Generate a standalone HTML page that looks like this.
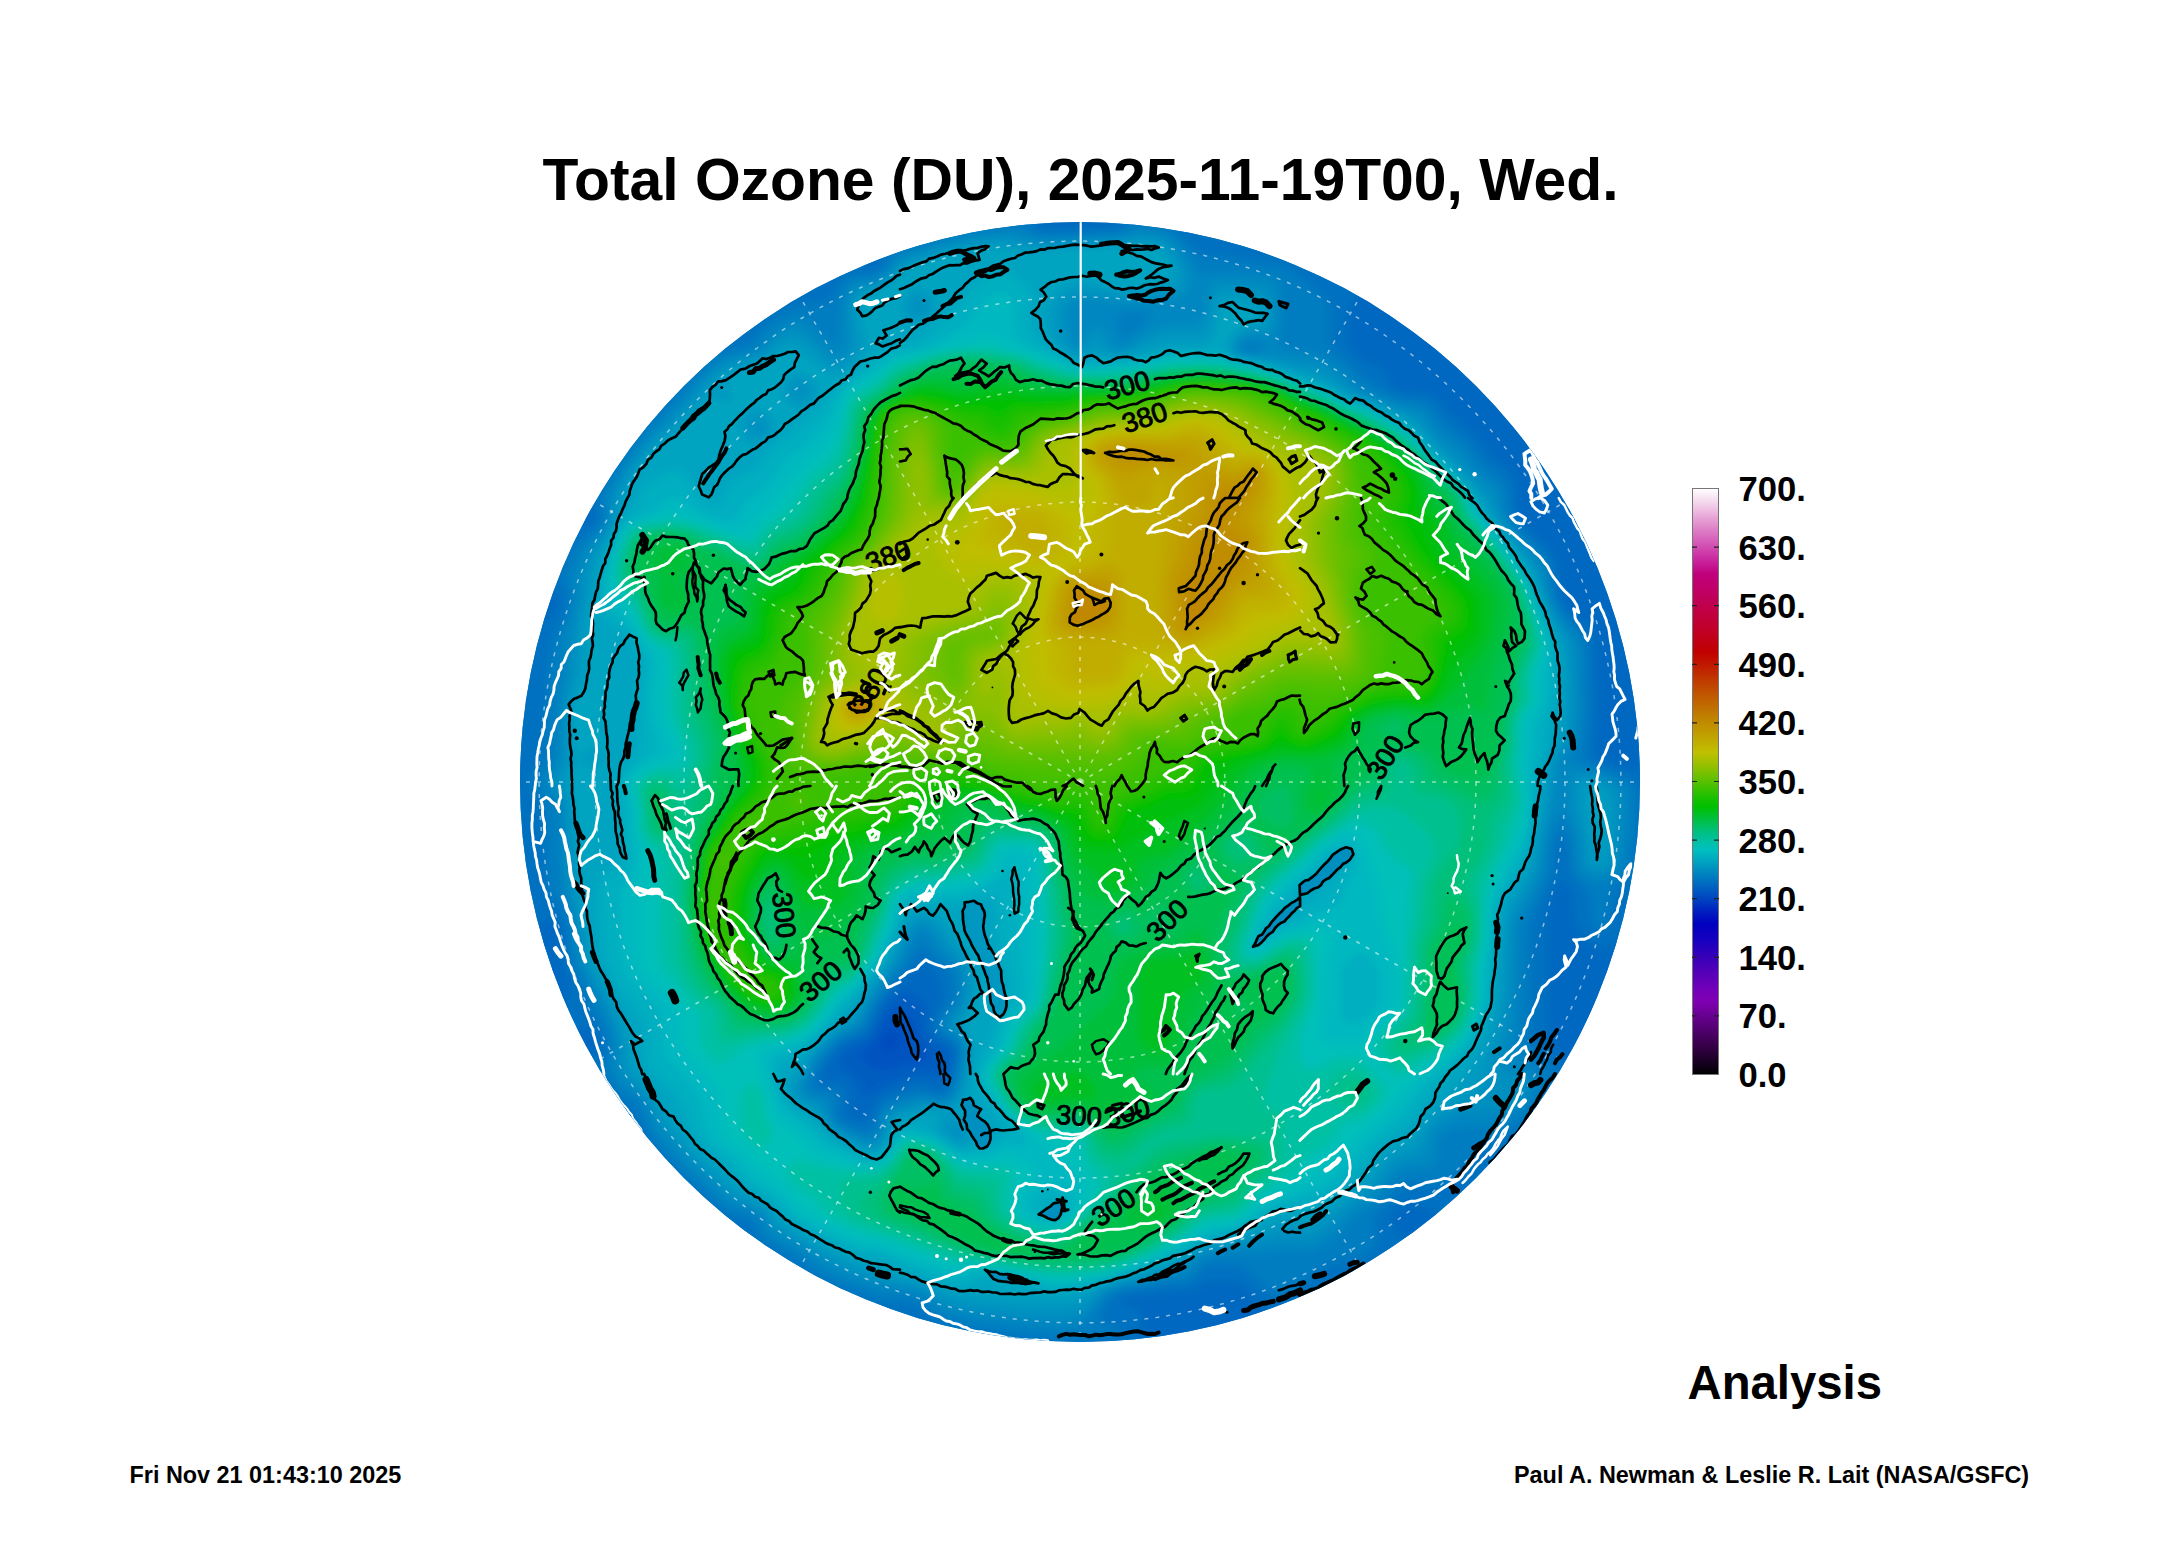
<!DOCTYPE html>
<html lang="en"><head><meta charset="utf-8"><title>Total Ozone (DU)</title>
<style>
html,body{margin:0;padding:0;background:#fff;}
body{width:2165px;height:1561px;overflow:hidden;position:relative;font-family:"Liberation Sans",Arial,Helvetica,sans-serif;}
svg{position:absolute;left:0;top:0;display:block}
text{font-family:"Liberation Sans",Arial,Helvetica,sans-serif;font-weight:bold;fill:#000}
</style></head><body>
<svg width="2165" height="1561" viewBox="0 0 2165 1561">
<defs>
<clipPath id="gc"><circle cx="1080" cy="782" r="560"/></clipPath>
<linearGradient id="cb" x1="0" y1="0" x2="0" y2="1">
<stop offset="0.0000" stop-color="#ffffff"/><stop offset="0.0257" stop-color="#f3d3ea"/><stop offset="0.0500" stop-color="#e7a4d6"/><stop offset="0.0743" stop-color="#dc78c4"/><stop offset="0.1000" stop-color="#d24cb2"/><stop offset="0.1257" stop-color="#c8209a"/><stop offset="0.1457" stop-color="#c0007c"/><stop offset="0.1714" stop-color="#c00068"/><stop offset="0.2000" stop-color="#c0004c"/><stop offset="0.2429" stop-color="#c00026"/><stop offset="0.2786" stop-color="#c00000"/><stop offset="0.3000" stop-color="#c01800"/><stop offset="0.3286" stop-color="#c03c00"/><stop offset="0.3571" stop-color="#c05c00"/><stop offset="0.4000" stop-color="#c08c00"/><stop offset="0.4286" stop-color="#c0a800"/><stop offset="0.4500" stop-color="#c0c000"/><stop offset="0.4714" stop-color="#98c000"/><stop offset="0.5000" stop-color="#58c000"/><stop offset="0.5286" stop-color="#18c000"/><stop offset="0.5429" stop-color="#00c000"/><stop offset="0.5643" stop-color="#00c040"/><stop offset="0.5857" stop-color="#00c080"/><stop offset="0.6000" stop-color="#00c0a0"/><stop offset="0.6171" stop-color="#00c0c0"/><stop offset="0.6357" stop-color="#00a4c0"/><stop offset="0.6571" stop-color="#0084c0"/><stop offset="0.6786" stop-color="#0064c0"/><stop offset="0.7000" stop-color="#0044c0"/><stop offset="0.7214" stop-color="#0020c0"/><stop offset="0.7429" stop-color="#0000c0"/><stop offset="0.7714" stop-color="#1800c0"/><stop offset="0.8000" stop-color="#3800b8"/><stop offset="0.8286" stop-color="#5800b8"/><stop offset="0.8571" stop-color="#7400b8"/><stop offset="0.8743" stop-color="#8000b4"/><stop offset="0.9000" stop-color="#680090"/><stop offset="0.9286" stop-color="#4c0068"/><stop offset="0.9571" stop-color="#300040"/><stop offset="0.9857" stop-color="#100018"/><stop offset="1.0000" stop-color="#000000"/></linearGradient>
<radialGradient id="base" gradientUnits="userSpaceOnUse" cx="1080" cy="782" r="560">
<stop offset="0" stop-color="#00a0c0"/><stop offset="0.8" stop-color="#0090c0"/><stop offset="0.93" stop-color="#0080c0"/><stop offset="1" stop-color="#0070c0"/></radialGradient>
<filter id="bl" x="-5%" y="-5%" width="110%" height="110%"><feGaussianBlur stdDeviation="4"/></filter>
</defs>
<rect width="2165" height="1561" fill="#fff"/>
<g clip-path="url(#gc)">
<circle cx="1080" cy="782" r="562" fill="url(#base)"/>
<g fill-rule="evenodd" filter="url(#bl)"><circle cx="1080" cy="782" r="562" fill="#003ec0"/>
<path fill="#0049c0" d="M518 218l1126 0 0 1128-1128 0 0-1128z"/>
<path fill="#0053c0" d="M518 218l1126 0 0 1128-1128 0 0-1128zM889 1034l-3 3-3 7 0 4 3 2 4 0 4-2 3-4 0-4-1-4-4-3z"/>
<path fill="#005dc0" d="M518 218l1126 0 0 1128-1128 0 0-1128zM894 1010l-8 8-11 22-12 10-2 4 0 4 3 4 5 4 7 3 6 1 6 0 22-6 14-1 4-2 2-3-1-4-10-14-4-16-4-6-9-9-4-1z"/>
<path fill="#0067c0" d="M518 218l1126 0 0 1128-1128 0 0-1128zM902 992l-8 5-10 12-4 7-5 14-4 6-5 4-13 6-6 4-5 6-3 6 0 4 2 2 9 5 4 4 5 7 5 11 2 2 2 0 10-8 34-14 8-1 18 1 4-1 4-4 1-4 2-8-1-6-3-4-14-8-5-6-1-6 1-18-2-6-14-11-4-2z"/>
<path fill="#0071c0" d="M518 218l520 0 2 5 4 3 14 1 52-1 6-2 3-2 2-4 523 0 0 354 0-4-2-2 0-4-2-2 0-4-4-6 0-2-2-2 0-4-4-6 0-4-4-6 0-2-2-2 0-4-2-2 0-2-2-2 0-2-2-2 0-2-4-6 0-8-4-4-2 0-2-2 0-2-2-2 0-2-2-2 0-2-2-2 0-2-2-2 0-2-4-4 0-2-4-4 0-2-2-2 0-2-4-4 0-2-4-4 0-2-4-4 0-2-2-2 0-2-8-8 0-2-6-6 0-2-6-6 0-2-6-6 0-2-12-12 0-2-22-22 0-2-10-10-2 0-22-22-2 0-12-12-2 0-6-6-2 0-6-6-2 0-6-6-2 0-8-8-2 0-2-2-2 0-4-4-2 0-4-4-2 0-4-4-2 0-2-2-2 0-4-4-2 0-4-4-4 0-12 4-4 4-20 29-4 7-2 6-1 16 0 10 2 6 3 4 6 7 8 5 12 3 4 2 3 3 4 12 3 4 6 4 8 2 22 2 6 2 3 2 16 18 21 18 17 20 21 20 4 8 1 26 3 10 6 8 22 22 6 8 4 10 2 24 2 9 6 9 21 22 6 10 1 14 1 52-2 42 1 6 4 4 8 4 19 6 17 4 0 168-10-1-8 1-22 8-6 0-4-2-11-10-7-10-2-8-2-24-2-4-4-6-4-3-2 1-4 5-4 8-4 15-1 14 0 50 0 58 0 6 2 6 5 6 6 5 29 17 5 4 3 10 1 8 4-6 0-2 2-2 0-2 2-2 0-2 2-2 2 0 4-4 0-8 4-6 0-2 2-2 0-2 2-2 0-2 2-2 0-4 2-2 0-2 4-6 0-4 4-6 0-4 2-2 0-2 4-6 0-4 2-2 0-4 2-2 0-4 0 354-354 0 4 0 2-2 4 0 2-2-16 0-8-3-4-6-5-13-6-12-13-16-6-6-6-3-6-2-10 0-14 1-12 6-6 2-24 2-18 3-16 1-8 2-3 2-1 2 0 2 2 1 14 3 3 2 2 4 1 6-3 26-623 0 0-354 0 4 2 2 0 4 2 2 0 4 4 6 0 2 2 2 0 4 4 6 0 4 4 6 0 2 2 2 0 4 2 2 0 2 2 2 0 2 2 2 0 2 4 6 0 8 4 4 2 0 2 2 0 2 2 2 0 2 2 2 0 2 4 6 1-10 2-8 6-6 23-16 4-6 1-4-1-4-2-4-4-4-4-2-12-2-18 0-4-2 0-4 12-18 2-6 2-8-1-8-6-20-2-28-1-7-2-4-4-3-4 0-34 12 0-308 16 0 12-4 6-4 4-4 3-6 1-4-2-6-4-3-25-9-3-2-1-2-3-8 0-12-2 2 0 4-2 2 0 4 0-354zM852 224l-18 0-2 2 0 6-2 0-2 2-2 0-2 2-2 0-2 2-4 0-2 2 18 1 15 15 8 6 13 4 6-1 3-3 1-6-4-28-4-4-11 0-1-2-4 0zM560 472l0 2-2 2 0 2-2 2 0 2-2 2 0 2-2 2-2 0-4 4 0 8-4 6 0 2-2 2 0 2-2 2 4 1 4 5 1 4 5 2 12 2 8 0 8-2 6-2 6-4 1-4-1-3-6-7-17-12-4-4-2-8-1-12zM918 966l-22 20-14 17-4 7-7 16-3 6-6 5-14 5-8 5-10 12-8 13-1 4 1 4 4 2 12-1 4 1 4 3 3 3 1 4 0 6-4 14 2 4 3 2 9 3 6-1 4-5 6-11 5-6 7-4 24-10 8-2 6 1 4 2 6 4 4 1 4-2 4-6 5-14 2-12 0-6-2-4-2-2-15-8-3-4-1-4 1-10 8-18 1-6-2-8-4-10-6-8-6-4-4 0zM1403 1204l-5 4-5 6-1 4 1 6 7 11 18 24 8 9 6 4 0 2 2 0 6-6 2 0 6-6 2 0 6-6 2 0 6-6 2 0 6-6-8-3-6-4-18-19-14-10-12-5-6-1z"/>
<path fill="#007cc0" d="M1004 224l12-1 6 0 4 2 11 7 9 1 68-1 8-2 10-6 6-1 8 0 20 3 10 5 18 17 10 7 8 1 20 1 22 4 20 2 12 3 12 8 27 24 4 4 1 4 0 32 1 6 4 6 15 13 12 13 17 12 21 10 22 2 8 4 4 4 12 16 22 17 16 22 6 5 12 9 4 5 3 8 1 20 3 8 7 10 21 22 7 10 4 8 2 24 4 11 6 10 18 19 5 10 1 12 1 52-2 36-2 12 1 4 4 4 28 12 12 6 6 6 2 8-1 40-5 34-4 8-12 12-3 6-2 8-2 18-2 4-3 4-4 1-2 0-5-5-2-6-1-18-1-6-4-6-9-8-4-6-2-6-1-22-3-10-2-3-2-1-2 0-2 2-3 6-2 10-1 20-2 8-16 36-3 10-1 12 0 92 1 12 2 6 3 4 16 18 1 4 0 4-4 10-8 14-11 15-10 11-8 6-18 8-6 4-32 32-10 8-8 2-26-2-6 2-4 2-26 28-2 6 2 14 0 6-2 6-4 4-4 4-6 3-22 3-12 5-8 5-18 16-10 7-8 2-4 0-4-1-6-5-20-19-8-5-10-2-20 0-6 3-10 11-6 4-22 2-18 3-20 2-12 4-6 4-4 6-4 8-1 6 1 4 2 1 12 3 4 2 0 4-1 2-7 3-34 3-40-1-58-8-20-4-22-6-6-4-12-9-6-3-8-2-20-1-10-2-34-12-30-15-20-15-26-14-6-6-6-11-4-5-8-4-16-5-8-5-38-35-21-23-8-10-16-32-4-4-9-5-5-5-14-22-2-8 6-14 0-4-1-6-6-16-11-16-5-16-13-26-2-10-1-26-4-15-4-8-9-11-3-6-2-10-3-70-3-8-9-14-2-6 2-6 9-14 3-8 3-70 5-42 2-6 11-22 3-12 0-8-6-12 1-8 9-22 5-8 6-6 13-10 5-6 1-4 0-4-3-14 2-8 20-34 23-30 47-51 18-17 8-6 6-3 27-9 4-4 9-13 12-8 16-9 8-3 22-3 8-2 6-6 7-12 5-5 8-3 16 0 7-2 5-4 6-10 4-5 6-4 10-4 48-14zM919 950l-3 3-8 13-16 17-14 19-4 6-9 20-5 4-18 8-7 6-13 16-7 14-2 8 3 4 4 1 14 2 3 1 2 2 1 6-4 12 2 6 8 6 14 5 8 1 4-2 2-3 3-11 3-6 3-4 5-3 22-8 8-3 6 1 14 5 4 0 4-2 2-2 6-12 5-24 0-8-2-4-3-3-14-8-2-3-1-4 1-4 2-6 8-10 3-6 1-10-1-14-3-6-14-11-8-8-4-2z"/>
<path fill="#0086c0" d="M1006 230l14 1 14 5 8 2 72-2 8-2 16-5 20 2 10 3 6 4 15 18 9 14 4 3 32 0 32 1 7 2 3 2 3 4 3 12 1 30-1 10-3 10 1 2 3 2 5 1 22 2 10 3 22 13 5 5 9 11 7 5 35 15 22 4 6 3 15 22 21 15 16 22 6 6 12 8 4 5 2 6 2 16 3 8 9 13 20 21 7 10 4 10 3 20 4 12 6 11 14 17 5 8 2 6 1 10 0 58-3 28-2 6-6 8-1 2 0 3 1 1 5 2 28 9 14 7 8 7 2 3 1 6-1 38-4 30-3 6-3 4-12 7-6 2-8-2-8-4-5-5-3-8-1-18-1-10-4-11-6-10-2-1-2 1-2 1-6 13-4 17-2 22-2 8-3 8-17 32-3 6-1 8-3 118 3 7 17 17 2 4 1 4-2 8-4 8-6 9-8 9-8 6-10 3-20 4-26 2-10 3-4 4-2 4-2 20-2 4-2 3-6 3-20 1-8 3-6 6-13 18-19 14-30 29-12 8-12 3-24 0-22 2-20 0-30 2-6 1-6 3-10 13-6 4-18 2-20 5-18 2-8 2-9 4-9 7-18 25-6 4-8 1-36 0-54-7-18-3-16-4-6-2-6-4-10-10-6-3-8-2-28-2-38-12-26-13-20-15-27-14-5-5-6-13-4-4-6-4-18-5-8-4-41-37-28-32-4-8-7-18-4-8-4-4-10-5-4-3-6-8-5-10-1-8 3-10 0-6-2-12-9-22-9-18-13-24-5-12-3-34-4-14-6-20-2-8-2-66-1-8-3-8-11-12-2-6 2-6 10-12 3-8 1-56 4-28 1-30 2-10 8-24 2-10 0-6-3-12 1-8 7-18 4-8 6-6 11-10 4-6 2-8-1-16 3-10 17-28 20-26 37-39 16-19 14-13 8-6 6-3 24-6 6-3 4-3 6-10 4-4 14-8 12-5 8 1 8 6 18 16 4 2 2 0 2-4 1-22 2-12 5-16 3-4 3-3 6-2 14-1 7-2 7-6 6-9 4-4 6-4 10-3 46-14 24-4zM1123 312l-5 2-1 2 3 18 2 3 2 1 4-1 4-3 15-14 4-4-1-2-4-2-12-1zM1244 342l-2 3 0 3 1 2 3 2 9 0 7-2 2-2 1-2-3-2-6-3-6-1zM921 934l-3 1-4 6-11 23-15 18-12 16-14 27-6 5-18 8-9 8-13 18-9 20 0 4 2 4 5 2 12 3 4 2 1 3 1 14 4 7 8 5 20 9 6 0 4-1 2-2 2-4 4-16 3-4 4-4 29-9 8 0 12 3 8-1 4-3 3-4 4-12 5-26 0-8-4-6-13-10-2-6 2-6 9-10 4-7 2-13-2-16-2-5-3-3-15-11-12-17-2-2z"/>
<path fill="#0090c0" d="M992 236l20 0 20 5 8 1 76-3 8-1 12-3 8-1 12 2 8 2 6 4 6 6 9 14 4 10 0 16-2 4-2 4-3 2-6 1-32 4-22 0-38-4-8 2-6 5-2 8 3 24 2 4 3 3 2 0 2-1 8-13 6-4 6 0 6 3 2 4 4 11 4 3 4 1 4-1 5-2 19-14 12-6 10-2 22 0 6-1 4-3 3-6 2-18 1-6 3-4 5-3 8-1 10 0 28 3 6 2 4 5 3 10 0 16-2 12-2 4-3 1-4 1-12-2-8 2-4 3-3 5-1 4 2 4 4 2 6 2 24 0 18 3 18 2 10 2 18 10 4 3 9 10 6 4 43 18 18 5 5 3 17 23 18 14 15 19 19 17 4 5 5 18 4 8 11 15 18 21 8 12 3 8 3 18 4 10 6 12 15 22 3 8 1 10 1 52-3 30-3 6-8 10-4 10-5 38-8 34-6 36-4 10-18 32-3 6-1 8-2 66-3 36-2 8-4 16-1 10 1 4 2 3 14 5 4 2 4 4 1 4 0 4-5 9-6 6-8 3-10 2-30 2-14 4-12 6-6 5-4 6-3 7-2 12-3 6-6 2-16 3-6 3-6 6-14 20-26 18-24 22-8 5-6 3-6 1-26-1-16 4-18 1-42 8-8 4-10 11-4 2-18 4-18 6-22 4-16 5-9 7-11 13-6 5-6 3-8 2-38 0-50-5-16-3-16-4-6-2-15-11-8-4-33-5-28-8-12-4-22-11-23-16-25-13-5-5-5-10-5-6-7-4-18-6-7-4-43-39-28-33-14-30-4-4-13-10-5-7-3-7-1-6 1-16-3-14-12-30-18-32-5-12-4-32-10-42-3-76-3-10-9-12-1-4 2-6 7-10 2-8 1-58 6-26 3-44 8-34-1-18 2-6 9-24 14-16 4-8 2-8 1-16 2-8 16-28 15-19 8-9 15-14 20-22 16-20 9-8 10-8 10-4 18-5 9-3 6-4 11-12 10-6 8-2 6 1 4 2 21 19 7 5 6 2 4-1 4-4 3-6-2-30 0-10 4-14 5-6 6-2 12-2 8-3 6-5 10-13 10-5 28-9 16-5 20-3zM917 926l-3 3-3 5-13 28-24 32-14 26-6 6-18 9-11 11-11 14-14 28 1 4 3 4 4 2 12 3 4 3 4 14 6 8 8 5 24 11 8 0 6-4 3-6 3-15 2-3 4-4 28-9 6 0 14 2 8-1 4-3 4-5 5-14 4-26 0-8-3-7-12-11-1-4 3-6 8-10 4-8 1-16-2-14-5-9-14-13-12-18-4-3-4-2-4 0zM1576 773l4 0 8 0 16 5 7 4 5 4 2 4 2 4 1 8-1 30-3 26-2 6-2 4-5 4-6 2-6 0-6-2-4-2-3-6-3-30-8-24-2-12 1-18 1-4z"/>
<path fill="#009ac0" d="M1136 240l10 0 12 2 5 2 5 4 8 11 4 9 1 10-2 8-3 3-6 2-30 5-20 0-36-6-8 1-6 2-4 3-5 6-3 6-1 6 1 8 4 16 3 6 3 4 6 4 6 1 6-3 6-7 4-2 4 2 6 7 3 2 5 1 6 0 10-2 18-10 16-5 10-1 24 0 6-3 4-6 4-10 2-17 1-3 3-3 6-2 10 0 24 4 6 2 3 5 2 6 1 8-2 8-4 4-16 1-6 3-4 3-4 5-2 6 0 4 3 4 9 4 28 3 46 12 14 7 16 12 26 9 38 17 7 6 17 22 16 14 34 37 12 23 28 36 9 14 4 8 5 18 5 14 16 30 2 10 2 12 1 38-1 16-4 22-9 16-5 14-5 40-12 60-5 12-17 28-3 10-2 12-4 66-4 30-3 10-7 18-7 32-3 6-6 4-29 15-8 5-8 10-9 18-3 4-4 3-14 4-6 3-6 6-12 18-6 6-25 18-21 17-8 5-12 3-18-2-6 1-18 6-16 3-18 5-22 4-10 5-12 10-4 2-34 11-24 6-16 5-8 5-12 11-10 4-10 1-38 1-52-5-28-6-16-9-10-4-28-5-40-12-24-12-23-14-23-13-6-5-7-10-5-5-8-6-16-6-6-3-43-40-29-33-15-29-17-18-4-10-2-20-5-18-10-26-17-30-5-12-5-32-8-36-1-14-4-70-3-10-5-14 0-4 5-12 1-6 0-34 1-26 8-24 4-50 7-32 2-22 7-22 11-16 6-12 2-8 1-12 3-8 13-24 14-19 10-11 18-16 22-24 10-15 10-9 8-6 10-5 20-6 10-4 17-13 11-4 6 1 4 2 20 17 10 7 6 1 6-2 10-10 4-8 0-6-4-14-1-16 1-10 4-7 4-3 14-4 8-4 6-5 8-9 6-5 31-11 31-8 26-3 14 0 22 5 8 0 24-2 60-2zM914 298l-4 6 0 4 1 4 1 2 4 2 4 0 4-2 2-2 2-4-1-6-3-3-4-2-4 0zM793 382l-1 2-2 4 0 4 2 4 6 4 4 0 4-2 2-2 2-4 0-4-2-3-4-3-4-2-4 0zM755 418l-5 4-2 6 2 4 2 3 3 1 3 0 4-1 3-3 2-6-2-4-3-3-4-1zM915 920l-3 2-4 6-16 34-19 26-17 29-5 5-17 10-16 16-7 10-7 14-8 12-2 4 1 6 3 4 6 4 14 6 8 14 6 7 6 4 22 12 8 2 8 0 6-5 4-7 4-15 2-2 4-3 28-10 20 2 8-3 7-8 4-8 2-8 3-26 0-8-2-8-8-10-2-4 2-4 7-10 3-10 2-18-2-14-5-10-12-12-9-14-5-6-5-4-6-3-6-1zM951 1122l-3 1-3 3 0 2 1 4 8 6 4 2 4 0 2-2 1-4-3-6-6-6zM1586 780l10 1 8 4 5 5 3 8 1 32-2 20-2 8-2 4-3 3-4 1-6 0-2-2-3-4-3-28-6-24-1-14 0-8 2-4z"/>
<path fill="#00a4c0" d="M988 248l10 0 18 3 12 1 28-2 86-4 14 3 5 3 4 4 5 8 2 8-1 4-2 4-7 4-20 4-16 1-12-1-24-7-10-1-8 2-6 2-6 4-4 4-6 8-3 8-1 10 2 10 4 10 6 8 9 8 9 4 6 0 14-3 12 2 12 0 14-2 34-10 26 1 10-1 6-3 3-4 4-12 5-20 4-4 4-1 6 0 22 7 3 4 0 6-3 2-16 4-8 6-4 6-3 6-1 6 2 4 4 4 8 3 32 6 50 17 24 13 20 7 12 5 28 14 8 6 20 23 37 36 22 34 32 42 9 16 12 33 11 25 3 10 2 12 1 38-1 18-4 22-10 24-3 12-5 40-8 42-2 8-4 10-17 28-4 10-3 14-5 68-2 16-8 26-15 31-6 10-16 19-21 18-19 27-23 13-6 6-13 18-6 7-44 31-8 4-6 1-6 1-14-2-8 1-18 9-22 8-34 9-10 5-12 8-6 3-32 12-38 11-24 11-16 3-48 0-62-5-8-3-22-9-26-7-48-15-22-11-42-24-20-20-28-16-43-40-29-35-15-25-13-18-4-8-3-22-4-14-8-18-21-40-4-10-13-70-6-80-4-26 1-6 5-16-4-22 0-32 3-8 6-12 2-8 4-32 1-26 7-46 6-22 17-34 9-26 8-16 8-12 14-16 19-16 31-33 4-2 2 0 10 5 4 0 2-1 1-1 1-4-1-4-4-6-1-4 2-4 7-6 31-11 20-11 6-1 4 1 4 2 18 15 10 7 6 2 8-2 6-4 10-10 6-6 3-6 1-8-6-18-2-10 1-8 3-6 4-3 18-8 8-6 10-10 10-5 36-12 20-4zM911 288l-5 4-3 6-2 8 1 8 2 4 4 4 6 2 6-1 8-4 6-5 2-6 0-6-5-8-7-6-6-2zM792 372l-4 3-4 5-3 6 1 6 3 8 5 6 4 2 6 1 8-3 7-6 3-6 1-6-1-4-3-4-9-7-8-2zM754 408l-6 2-5 4-4 6-1 6 3 8 4 6 5 4 6 1 6-2 8-6 4-5 2-6-2-6-6-7-8-5zM591 750l-5 2-3 4-1 4 1 2 3 3 4 2 8-1 5-4 0-4-1-4-4-4zM921 912l-7 1-6 5-21 44-14 18-20 32-5 5-18 14-19 19-6 8-7 14-8 8-2 4 0 4 1 6 6 8 19 11 10 13 8 7 26 16 8 3 8 0 4-1 4-3 5-6 7-16 4-5 4-2 26-8 8 1 6 2 0 2-6 10 1 4 3 4 14 9 6 3 4 0 6-4 2-4 0-6-3-6-5-6-9-8 0-2 7-8 4-6 2-8 2-10 3-24 0-8-2-8-5-10-1-4 6-14 4-12 1-16-1-12-6-14-21-30-6-6-8-5-6-2zM1594 790l4 2 2 3 2 13 0 26-2 10-2 1-2-5-4-20-3-20 1-8 2-2z"/>
<path fill="#00afc0" d="M998 272l6 0 8 3 12 9 5 6 2 8-2 16 0 6 3 10 6 10 7 6 27 15 10 2 54-4 10-1 18-5 6-1 48 0 18 8 36 8 50 18 22 12 26 9 36 19 10 8 18 21 33 31 18 30 21 26 13 18 10 16 4 8 19 50 3 16 0 38-1 10-5 22-3 26-8 28-2 32-6 36-6 20-10 18-10 15-3 7-3 16-8 86-9 26-5 10-8 11-10 12-24 25-26 37-28 21-25 30-10 8-17 12-12 5-40 9-18 11-14 6-10 4-30 9-30 16-36 14-54 17-22 3-12 0-39-10-23-3-8 0-10 6-6 2-12-1-10-3-33-11-27-12-28-6-22-9-35-19-9-7-16-16-26-17-20-20-19-16-8-8-8-12-9-22-4-8-5-6-15-14-8-10-3-10 0-24-5-16-6-10-16-18-14-28-3-16-4-30 0-24 1-10 5-6 15-10 2-4 2-6 0-6-3-20-1-22-3-18 0-10 4-8 15-20 3-10-1-36 3-38-1-10-6-13-4-6-9-11-17-14-2-4-2-6 0-24 3-12 6-20 10-22 5-6 13-12 5-16 4-6 10-7 18-8 6 0 4 3 15 20 7 7 6 4 4 0 2-1 2-2 5-12 3-4 5-4 17-10 6-4 18-22 26-20 22-20 5-6 6-10 3-4 15-10 15-13 20-12 10-5 21-4 7-4 16-16 18-15 13-17 5-6 12-8zM1339 854l-9 6-14 16-14 12-7 10-12 14-2 4 1 1 4 0 8-3 16-15 16-11 18-20 3-6 1-4-2-4-4-1zM989 896l-29 7-16 1-28 0-8 2-4 5-7 19-14 30-4 6-9 10-12 18-27 30-15 15-14 12-18 11-4 4-2 6 0 8 4 12 5 10 7 7 16 10 15 15 7 6 26 14 6 2 8 1 6-1 6-4 4-5 9-15 3-3 6-2 10 0 6 1 22 13 12 8 6 2 6-1 18-5 21-13 1-2-1-4-10-12-16-22-3-6-1-6 0-8 2-8 13-23 5-19 4-8 7-10 2-8-2-18-5-22-4-22-2-32-1-4-2-1zM1051 1202l-4 2-2 4 0 2 2 2 5 1 4-1 2-2 1-4 0-2-2-2-3-1z"/>
<path fill="#00b9c0" d="M996 294l4-1 4 1 4 2 4 4 2 6-1 16 1 10 3 6 3 4 11 6 23 8 18 9 12 2 56-4 30-6 32-1 16 1 20 6 28 6 16 6 42 16 22 11 20 6 34 17 14 11 18 20 33 32 4 6 5 11 4 7 35 44 12 20 5 10 16 42 4 18-1 8-2 16-2 32-2 6-6 12-2 6-1 22-4 22 2 32-3 24-4 16-3 10-24 40-2 6-2 10-3 36-4 24-1 22-1 12-3 10-5 14-9 16-22 23-23 19-21 27-32 29-14 17-15 15-15 12-8 3-22 8-22 7-7 4-12 10-13 8-10 3-24 6-38 20-34 14-20 7-24 6-28 5-10 0-42-11-28-4-8 0-16 6-12-1-10-3-52-21-8-3-16-2-10-3-42-19-12-7-6-5-12-15-28-19-17-20-18-14-7-8-4-8-3-22-5-12-10-14-18-18-4-6-2-8-1-26-3-12-8-12-18-16-5-6-5-10-2-12-2-32 1-28 1-6 10-16 2-12 0-10-5-22 1-20-5-18 0-6 2-6 5-6 8-8 15-10 3-4 1-4-2-8-6-18-1-8 0-18 2-26-1-10-23-36-16-17-2-5-4-14 0-10 2-12 5-16 7-16 4-6 4-3 26-11 12-11 8-3 6 1 14 11 17 8 15 4 4 0 4-1 4-5 5-10 3-4 14-10 6-6 9-10 12-18 19-14 18-20 8-11 8-19 5-6 23-16 24-16 10-3 18-3 17-6 7-4 22-16 9-10 13-15zM1344 842l-9 4-9 6-14 16-17 14-5 6-14 16-7 10-12 22-1 5 2 3 4 0 18-13 23-9 17-10 16-4 4-3 3-5 3-12 9-16 2-12 0-8-3-6-4-4zM1010 868l-6 3-7 7-7 5-22 8-14 3-38 1-8 2-5 3-4 6-5 20-14 32-4 6-9 10-9 13-18 16-13 19-15 14-14 9-22 8-5 5-2 8 1 10 2 8 10 24 6 6 20 15 16 16 16 6 16 8 8 2 8 0 6-1 6-3 5-5 9-15 4-3 6-1 10 1 16 5 10 6 12 9 8 2 22-1 6-2 14-7 6-1 12 2 3-3 1-4-2-4-25-26-16-24-3-8 1-6 2-6 16-22 4-18 3-6 4-6 11-12 2-6 0-16-3-22-2-32 0-46-2-6-2-4-2-1zM1357 952l-5 3-7 7-3 6-2 6 0 30 1 12 3 6 6 3 8-1 10-7 8-9 4-10 0-22-3-10-4-6-6-6-5-2zM1053 1186l-9 3-8 5-5 6-2 6 1 6 4 4 8 4 8 2 8-2 6-4 5-6 2-6 0-8-3-7-6-3z"/>
<path fill="#00c0ba" d="M988 336l4 1 8 5 8 4 44 14 18 8 8 2 10 0 52-3 30-7 32 0 20 2 40 9 20 6 40 16 24 11 18 6 28 14 10 6 10 8 18 19 34 33 4 6 3 10 3 6 30 36 20 32 5 10 11 32 5 20 0 10-7 24 0 22-1 6-3 6-7 8-2 8-2 38 4 34-1 18-4 15-6 17-11 18-14 28-1 8-3 40-5 26 0 20-2 14-5 18-9 16-6 7-18 17-16 10-7 6-18 16-9 12-18 18-17 14-29 29-15 11-18 10-19 7-8 4-6 4-10 11-10 7-10 3-18 3-8 2-22 14-25 13-21 9-18 7-14 4-16 3-24 3-12 0-40-9-32-5-10 0-14 2-8-1-62-23-10-3-14-2-10-3-35-16-14-8-6-6-13-16-16-12-12-11-15-17-13-10-5-6-4-8-1-26-1-8-35-42-3-8-1-24-2-10-8-12-25-26-3-6-2-8 0-58 3-26 0-14-1-6-7-22 0-22-4-16 0-6 3-8 6-6 8-5 22-9 4-4 0-4-2-6-9-22-2-8-1-20 2-28-2-10-2-4-8-7-6-7-6-10-8-15-11-15-6-10-2-6 0-8 2-12 6-18 4-10 5-6 8-4 40-10 12 3 46 15 6 0 6-2 26-27 27-33 31-31 4-6 3-7 7-26 3-6 4-4 21-13 18-13 8-5 20-4zM1345 834l-23 14-14 16-20 16-10 10-14 20-5 12-7 14-2 8 1 6 5 2 8-3 18-13 14-5 12-2 8-1 8 2 6 4 1 2 1 4-6 17-2 9-1 34-2 20-1 10 2 8 2 3 4 2 8 1 18 0 4-1 4-2 30-31 4-8 1-8 0-20-1-10-4-13-11-31-2-26-8-28-7-20-6-10-6-4zM1004 852l-4 4-9 16-5 4-6 3-14 5-10 2-38 2-10 3-8 5-4 6-6 22-14 32-3 6-9 10-8 12-20 16-14 20-12 12-8 6-8 3-28 7-3 2-3 4-1 6 6 20 6 18 3 14 3 6 40 36 6 2 15 3 18 6 12 1 8-1 6-2 6-5 13-18 5-3 6 0 12 2 14 6 6 3 12 10 8 4 22 0 18-5 8 0 19 11 3 4-2 6-8 10-4 6-2 10 3 8 5 6 7 4 13 4 8 1 6-2 4-3 10-8 5-6 2-6 1-6 0-10-2-6-6-9-16-17-19-16-19-15-12-11-18-26-3-8 0-6 3-6 16-20 5-18 2-6 5-6 14-12 2-4 1-6 2-64-1-38-2-34-2-5-6-2-14-1z"/>
<path fill="#00c0a4" d="M954 350l22-2 20 2 26 5 16 6 14 4 16 6 14 2 56-3 34-6 30-1 18 1 36 8 20 5 46 18 24 12 20 7 26 13 14 9 56 55 3 5 4 12 3 6 28 34 21 32 5 10 6 18 6 18 2 10 1 8-1 8-8 20-1 6 1 18-1 6-2 4-7 10-3 8 0 20-2 20 5 32-1 14-3 11-10 25-11 18-11 26-1 8-2 44-7 26 1 20-1 14-5 16-7 14-7 8-15 12-22 12-12 9-6 3-4 0-6-3-7-7-8-10-3-8 2-6 6-8 19-20 2-4 2-6 1-14 0-48 3-24 1-26 2-20-2-4-12-6-10-9-5-7-5-14-4-4-16-6-4 0-6 3-29 19-15 16-22 18-10 10-12 18-5 14-8 18-2 12 1 4 2 2 4 1 4 0 8-3 16-12 8-3 14-3 4 1 4 1 3 4 1 6 1 46-2 12-9 20-3 10-1 16 2 11 4 5 6 1 6-1 12-7 6-2 14-1 10 2 10 8 13 16 3 8-2 6-8 10-12 10-6 3-12 1-4 2-6 12-9 10-7 5-12 4-4 3-6 12-4 4-6 5-26 13-6 6-8 10-7 6-9 4-20 1-6 2-6 3-16 12-33 18-29 12-24 6-32 4-10 0-76-14-22-1-10-2-62-22-24-6-25-11-12-8-3-4-6-10-12-6-6-5-8-9-3-6 1-4 3-4 5-3 4-1 16 5 18 2 18 3 16 1 8-1 6-3 8-6 4-5 6-10 4-4 4-2 6 0 12 3 12 5 6 4 12 12 6 3 6 1 10 0 24-1 4 1 4 2 2 2 1 4-4 20 0 8 2 6 2 4 5 5 6 4 7 3 17 4 10 0 6-3 12-9 13-12 7-12 2-6 0-6-2-6-8-10-2-4-3-8-1-12-2-6-4-3-4 0-20 0-8-1-8-2-8-5-10-7-10-10-14-22-3-8 0-6 3-6 16-18 6-18 2-5 6-7 12-10 2-4 2-6 4-38 1-32-1-34-2-37-2-7-2-4-4-2-6-1-20 0-6 0-4 2-2 3-7 14-3 5-8 6-12 4-14 3-34 2-8 3-10 5-4 3-3 5-7 24-13 32-3 6-16 21-16 10-5 5-13 20-6 7-10 8-10 5-10 2-26 4-11 4-10 6-11 9-6 2-4-1-4-3-6-7-4-6-2-8 0-20-2-6-12-14-10-15-11-13-3-6-2-12-1-94-3-6-8-7-4-5-3-6-1-6 0-20-4-18 0-4 2-4 6-6 10-5 12-3 14-1 2-1 3-4 1-8-2-8-11-24-2-8 0-52-2-10-3-4-12-6-6-6-7-10-8-20-15-20-2-6-1-8 2-10 5-16 4-10 6-6 10-5 24-4 12 0 20 4 44 16 6 1 4-1 12-15 17-12 7-6 8-11 12-19 17-14 7-7 6-11 4-10 6-32 2-4 4-5 6-4 14-7 16-15 8-5 36-10zM750 1084l4-1 2 1 6 9 2 7 3 20 6 14 0 4-2 4-7 5-6-1-6-4-8-8-3-8-1-16 1-12 3-8z"/>
<path fill="#00c08f" d="M952 354l12-2 18 0 28 4 10 2 16 7 28 9 18 2 26 0 26-2 38-7 30-2 20 2 34 7 22 6 44 17 24 12 18 6 25 13 15 10 56 53 4 7 2 12 4 6 28 33 22 33 7 18 9 32 1 8-1 9-10 23-1 6-1 6 2 12 0 4-8 14-3 8 0 22-4 22 5 28-1 10-3 8-9 14-5 20-17 34-2 6 1 30 0 16-2 14-6 20 1 20-1 14-4 14-7 14-7 8-14 11-22 9-14 8-4 0-4-1-5-5-5-6-1-6 2-6 21-22 4-8 1-18 1-50 5-22 2-32 2-8 9-22 1-6 0-6-3-9-6-7-18-16-7-4-9-2-18 0-8 1-6 2-10 6-16 13-15 10-17 17-20 16-12 11-8 10-5 8-5 18-9 22-1 8 0 6 3 4 5 2 6 0 6-2 22-13 8-3 8-1 4 1 3 4 1 4 3 30-1 10-1 8-3 8-16 28-9 18-11 30-4 18-1 4 2 2 15 5 4 3-2 44-1 6-1 4-6 6-20 14-12 16-5 4-7 2-18 2-8 2-6 3-15 13-36 20-23 10-22 6-36 3-10 1-62-10-36-7-22-7-22-8-53-18-11-6-5-4-3-4-2-6 0-14 2-6 6-3 22-1 8-3 6-4 8-7 12-18 4-2 4-1 12 2 12 5 7 6 13 14 6 4 6 1 22 2 6 2 3 5 1 22 4 8 7 6 11 7 8 3 12 3 8 2 6 0 4-1 6-4 29-22 6-8 8-12 3-8 1-6-3-4-14-9-4-5-2-6-3-14-4-6-5-3-4 0-20 1-10 0-6-2-8-3-10-7-10-10-14-22-2-6 0-4 3-6 5-6 12-11 8-22 5-7 12-12 3-5 2-7 2-18 4-20 2-32-2-34-2-20-1-20-3-8-2-4-4-3-6-1-26-1-8 0-4 3-2 2-9 18-3 4-4 2-8 3-22 5-30 2-6 2-10 6-6 5-4 5-5 20-8 18-8 22-3 6-14 18-14 7-6 5-17 24-5 6-10 8-12 5-14 2-22 2-20 5-6 1-4-1-4-6-2-20-1-6-4-4-13-9-5-5-10-18-5-10-1-12-1-44 0-48-1-8-4-4-13-5-6-3-5-6-3-8 0-16-3-18 0-4 2-4 4-4 5-3 6-1 6-1 6 2 8 9 2 1 2 0 4-4 4-9 4-12 1-10-2-8-9-20-3-10-1-58-2-8-3-4-17-5-7-5-6-10-5-16-4-8-13-16-3-6-1-6 2-10 4-16 4-8 6-6 9-4 22-3 12 0 18 4 50 20 6 1 4-1 3-3 7-11 4-4 22-11 6-5 5-7 12-22 5-5 12-8 4-5 4-7 5-17 7-36 5-8 5-4 16-9 14-13 8-6 34-11zM1344 1071l8 0 8 2 8 7 6 8 1 6-1 4-6 7-6 4-6 1-6-1-21-9-5-4-1-2 2-4 5-8 8-8z"/>
<path fill="#00c07a" d="M960 356l24 0 28 4 8 2 16 7 26 8 8 1 36 1 20-1 12-2 30-6 32-2 30 2 38 8 14 5 22 10 18 6 22 11 18 7 29 15 19 14 49 48 3 6 2 12 2 4 30 36 22 32 4 11 8 26 2 9 1 8-2 12-11 26-1 6 1 16-7 16-2 8 0 22-6 22 3 22-1 8-3 6-8 9-3 5-2 6-2 18-2 8-9 17-11 15-1 4 1 4 5 10 2 6 2 18-2 22-8 22 2 22-2 18-3 10-5 9-6 7-8 6-12 7-26 7-6-1-2-1-2-4 1-4 3-4 14-15 4-7 2-28 0-40 2-9 7-17 2-34 3-8 4-8 6-9 11-13 3-6 2-10 0-18-3-8-3-4-6-4-9-4-17-2-6-4-3-6-1-14-1-4-3-4-6-2-4 1-4 3-1 4-2 18-3 6-6 3-16 2-10 6-26 22-18 13-16 16-28 22-12 12-6 10-6 22-10 28-1 6 1 6 2 4 3 2 5 1 6 0 12-4 18-10 6-2 8 0 4 3 2 6 2 14 1 14-1 8-4 10-13 20-39 46-10 10-10 5-22 3-7 4-3 6-3 18-4 6-7 3-14 1-9 4-9 6-16 14-8 6-4 1-6 0-8-3-6-4-4-5-7-17-3-4-6-4-6-1-20 3-10 0-8-2-8-4-8-6-8-8-13-24-1-6 2-4 4-5 13-11 3-6 6-16 6-8 9-10 3-6 3-8 3-18 5-22 4-24 0-8-2-16-1-20-4-20-2-20-1-6-3-6-4-4-4-2-6-1-28-2-10 1-6 4-3 4-6 14-3 4-4 3-32 8-26 1-10 5-13 9-4 6-5 20-9 20-7 22-4 8-10 13-4 3-10 2-6 5-20 28-6 6-12 8-12 4-14 1-16 1-14 2-5-1-3-2-2-4-2-12-3-6-5-7-14-9-5-6-10-20-3-12-3-50 2-62 0-18 17-62 2-12-1-8-9-20-3-12-4-64-1-4-4-4-4-1-12 0-6-2-5-3-5-6-3-6-4-14-3-8-4-6-9-10-3-6 0-10 5-18 5-10 4-4 4-2 12-2 20-2 10 2 8 2 14 7 18 6 24 11 6 1 4-1 4-3 6-10 4-5 6-3 18-8 10-7 6-8 11-20 13-11 4-5 4-8 4-14 9-42 2-6 3-3 20-13 12-12 8-6 34-12zM658 782l6 1 4 4 12 29 1 8-2 8-3 4-6 3-8-1-6-2-4-4-3-6-3-34 1-4 3-3zM1352 1086l6 0 4 4 1 4-3 3-2 1-4 0-5-4-1-4 1-2zM1206 1138l10-2 12 1 28 2 8 2 4 2 3 5 0 10-1 8-4 6-16 12-12 16-5 4-7 2-18 3-6 2-6 4-16 14-33 19-21 10-18 5-12 2-38 2-28-3-44-7-22-5-24-8-24-10-29-10-13-6-6-3-5-5-1-4 0-4 2-4 12-9 21-25 9-14 4-3 8 0 12 4 8 5 9 10 9 14 4 3 6 2 14 2 6 2 3 5 4 18 5 6 5 4 14 8 9 4 22 5 10 0 8-4 34-25 6-6 20-27 20-20 10-8 8-4 8-3 22-2z"/>
<path fill="#00c064" d="M956 360l26 0 28 4 8 2 18 8 24 6 8 1 56 0 12-2 32-7 26-2 14 0 24 3 26 5 22 6 24 11 18 7 22 10 18 8 25 12 15 10 21 20 32 32 3 5 2 13 3 6 29 34 22 32 6 15 8 29 0 8 0 6-13 34 0 22-8 22-1 24-7 22-1 20-3 6-7 6-6 3-4 1-4-1-24-13-16-6-4-2-3-4-4-12-2-4-6-4-5-2-6-1-6 0-6 1-5 2-3 4-2 16-3 6-3 2-12 5-6 3-29 28-17 12-18 16-20 15-15 13-8 8-5 8-10 31-10 21-2 8 2 10 4 8 4 2 4 1 14-2 8-2 22-11 4-1 4 2 2 2 2 4 2 13 0 14-3 10-14 20-17 14-18 23-10 10-14 9-20 6-5 2-4 4-3 4-6 16-2 4-4 2-14 5-11 5-10 6-13 10-8 4-8 1-8-4-4-5-8-12-6-6-6-3-8 0-16 2-10 1-8-1-8-4-8-5-7-8-12-22-1-4 2-5 4-4 10-7 4-4 9-20 13-19 4-7 3-10 15-62 0-12-3-16-2-20-4-18-3-24-2-6-3-6-5-4-4-2-6-2-16-1-14-2-12 1-6 3-3 3-8 16-3 4-3 2-17 4-16 5-24 1-8 3-8 5-9 8-4 6-4 20-12 22-2 8-4 18-5 8-6 6-12 2-6 4-6 7-20 30-8 7-10 5-10 2-10 1-24-2-6-2-2-2-5-10-5-8-17-16-3-4-9-18-4-12-5-30-1-14 0-20 2-26 8-40 6-20 3-22 6-28 0-10-11-34-5-60-2-8-2-5-5-3-5-1-12 1-6 0-6-3-4-5-11-30-4-6-7-8-3-6-1-6 1-6 5-16 5-8 7-3 16-3 14 0 14 4 12 7 20 6 26 12 6 2 6-1 4-4 8-10 4-4 22-9 12-9 9-10 11-18 12-13 5-9 3-11 5-19 4-28 3-7 4-5 19-14 13-12 7-4 30-12zM1239 834l-5 2-4 4-2 4-1 4 2 4 3 5 4 4 4 1 4-1 6-4 4-5 0-4-2-6-4-5-4-2zM1194 874l-2 3 0 3 2 6 2 1 4 1 4-2 2-4-2-6-2-3-4-1zM769 900l-1 1-2 4-2 9 0 8 2 10 4 6 2 1 2 0 2-3 2-8 1-8-2-8-3-9-2-2zM1118 920l-3 4 1 4 1 2 5 3 6-1 2-2 1-4-3-6-4-2zM654 791l4-1 4 2 3 6 4 10 2 8 0 8-1 5-4 3-4 0-4-2-3-6-4-26 1-4zM1446 896l2-1 4 1 12 8 4 6 2 8 0 12-1 12-2 6-5 12-2 6 3 22-1 16-2 7-3 7-4 6-5 5-8 6-6 3-6 2-8 0-4-2 0-2 7-12 2-8 2-32 0-24 0-10 3-9 10-17 1-6 2-16 1-4zM1210 1144l16-1 28 4 4 1 3 4 1 4-1 6-4 6-11 10-12 13-6 5-6 3-14 3-6 3-8 5-15 14-16 10-33 18-10 4-12 3-12 2-40 1-26-1-44-7-21-6-26-10-21-10-23-8-10-6-4-6 1-8 4-12 22-33 4-4 8 0 12 5 8 8 4 8 5 14 3 5 6 4 14 3 4 2 3 4 6 12 9 8 18 9 12 5 24 5 12 0 8-4 19-15 18-12 23-26 28-24 10-5 10-4 18-4z"/>
<path fill="#00c04f" d="M950 366l18-2 14 1 24 3 8 2 12 6 8 3 30 5 20 0 38 0 48-9 32-3 26 2 20 3 22 5 14 5 20 10 20 8 57 27 19 12 20 18 32 35 2 4 3 13 4 8 27 31 20 29 6 12 4 15 4 20 0 9-9 26-4 12 0 20-8 26-1 22-11 28-3 5-4 2-4 0-12 0-10-3-8-3-5-3-11-14-10-6-12-4-10-3-6 0-6 2-8 3-6 4-3 6 0 10-2 6-17 13-12 15-10 10-10 8-18 10-16 14-8 5-4 2-4 0-6-11-6-7-8-7-6-3-4 0-6 3-13 12-4 8 2 8 7 12 6 6 7 4 1 2 1 2-7 16-8 12-5 14-5 14-1 6 1 6 6 24 4 6 4 3 4 0 26-6 16-7 6-1 4 3 2 6 0 12-1 8-5 8-6 8-6 6-12 6-4 3-16 22-7 7-18 12-19 9-7 5-6 8-7 13-4 4-44 24-6 2-6 1-6-1-17-15-11-6-8-1-26 5-6-1-6-2-8-5-7-6-5-8-5-12-1-4 1-4 4-4 9-6 5-6 9-17 15-25 4-12 20-66-1-14-4-17-3-19-5-18-5-26-2-6-3-5-4-4-6-3-6-2-16-2-16-3-8-1-8 1-6 3-4 3-4 5-4 10-3 4-3 2-14 3-16 6-18 0-8 2-8 3-8 5-10 8-5 7-2 6 0 12-1 6-15 24-3 8-1 16-2 4-5 4-8 0-6 1-8 5-6 8-12 24-4 8-8 8-10 4-10 2-10 0-18-4-6-3-30-33-10-20-6-16-4-24-2-14 1-20 2-26 3-12 7-22 11-22 2-6 1-24 4-24 0-12-10-34-4-30-3-28-3-12-4-6-7-4-8-1-12 3-4 0-4-2-3-4-3-5-10-26-9-13-2-4 0-10 4-14 5-6 6-3 14-2 12 0 10 3 14 9 22 7 24 12 8 1 8-2 4-3 12-13 20-8 6-4 19-17 8-10 13-19 6-13 8-30 4-28 3-8 4-6 7-6 31-22 25-10zM1393 720l-5 2-6 4-1 4 1 3 2 2 6 2 6-1 4-2 4-4 1-4-1-4-4-2zM1281 786l-9 4-6 4-4 6-3 8 1 6 6 7 8 6 8 2 6-2 4-3 2-2 0-4-2-14-1-14-3-4zM1198 860l-6 2-6 6-3 4-1 6 2 8 4 6 4 3 8 1 6-1 6-3 3-4 1-6-3-10-5-8-4-3zM768 888l-4 4-3 6-2 26 2 8 5 11 4 5 6 2 4-1 3-5 4-16 0-8-4-16-5-12-4-4-2-1zM1158 906l-7 4-7 10-8-8-5-2-7 0-8 2-6 4-3 4-2 6 2 6 7 7 6 2 6 1 6 0 4-2 4-4 6-8 6 4 6 2 6 0 6-2 4-4 2-4 1-6-2-6-3-4-4-2-6-1zM1239 1002l-3 3 0 5 4 4 4 0 3-4 0-4-3-3zM1456 925l2-1 3 2 1 4 1 6-1 8-7 14-2 6 0 6 3 18-1 16-3 10-4 6-6 5-6 1-2-4-1-16 3-22-1-22 1-10 2-6 4-6zM1216 1150l12 0 14 3 6 3 1 4-4 6-19 18-8 6-22 11-8 6-10 11-8 6-39 22-16 6-10 2-11 1-28-1-2 0-3-2 7-4 26-22 16-11 22-23 18-14 8-4 25-12zM918 1160l4 0 5 2 3 4 1 2-12-6zM934 1179l2 3 5 14 5 6 6 3 16 7 13 12 9 7 8 4 20 8 31 9-3 2-16 1-32-4-15-3-12-4-28-12-23-12-18-6-6-3-3-3-2-6 0-6 3-6 4-4 4-2 10 5 6 1 6-2z"/>
<path fill="#00c03a" d="M992 376l12-1 28 9 32 4 20-1 40 0 40-9 28-4 16 1 34 3 22 4 18 6 20 10 22 9 22 11 22 10 21 12 23 18 13 14 7 10 8 16 8 11 12 23 34 40 8 12 4 8 3 12-1 14-3 16-9 24-5 18-3 26-1 6-3 4-2 0-6-4-4-1-12 3-14 2-16 5-6 1-6-1-14-4-8 0-15 3-11 5-6 6-5 15-5 8-6 5-10 5-4 4-1 4 5 16-1 8-3 6-5 8-7 6-6 3-4 0-4-2-3-5-2-4 1-8 6-22 0-4-2-2-6-2-16-1-8 2-8 3-9 6-7 6-20 28-16 17-16 15-28 22-16 8-3 4-5 10-4 4-8 5-24 8-6 1-8-2-12-4-6-5-4-6-9-19-6-24-3-8-4-6-5-4-13-7-20-3-31-12-9 0-10 2-4 2-5 4-9 14-6 5-22 7-22 9-18 5-8 4-5 4-3 8-3 28-3 8-16 21-6 7-6 3-12 3-4 4-4 10-6 10-2 32-3 8-5 6-10 6-12 2-8-1-18-5-10-7-14-15-8-10-9-16-4-10-4-12-4-16-2-14 0-24 5-36 13-28 23-39 2-7-1-10-6-18-5-24-5-16-4-20-2-26 1-16 2-10 3-4 3-3 14-7 5-4 2-6-1-12 0-8 3-6 3-4 18-10 12-12 6-4 22-11 24-22 8-9 8-14 6-14 4-12 4-18 6-34 3-8 7-8 8-6 24-15 18-7 8-2 6 0 18 4 6 1zM771 876l-5 4-4 5-5 9-1 6-1 18 0 10 7 16 6 9 4 3 4 1 12 0 7-3 3-4 2-16-1-8-18-46-3-4-2-1zM664 544l10-1 8 2 7 5 4 8 0 6-3 6-6 6-8 4 0 2 6 4 4 4 2 4 1 4-1 6-2 4-4 3-4 2-8 0-6-3-4-5-4-9 0-4 1-4 5-6 0-2-6-5-3-3-2-6 0-6 2-6 2-4 4-4zM1196 929l2 0 2 1 2 3 8 23 5 20 1 6-1 6-5 9-19 27-10 24-9 14-4 3-6 3-6 0-14-2-4 2-1 2-1 6 2 6 4 3 12 6 1 3-1 2-6 3-14 2-8 3-18 10-4 1-6-1-14-6-6-2-8 0-20 4-8 0-8-2-8-6-4-6-3-6 0-6 2-6 3-4 12-10 16-10 8-6 48-45 5-9 2-24 5-9 8-5 20-8 24-3 6-1 6-4zM1156 1188l6-1 4 2 4 3 2 4 3 6 0 4-1 6-3 4-9 7-12 5-13 0-10-2-3-2-1-4 1-4 6-10 14-12z"/>
<path fill="#00c024" d="M1178 378l22-2 32 2 24 4 21 6 25 12 20 8 24 13 25 11 21 14 21 18 7 8 3 6 7 22 2 4 10 10 4 6 2 6 3 14 3 7 7 9 25 27 7 11 1 10-3 30-4 12-9 14-24 30-15 14-7 4-10 3-18-3-8 0-24 5-6 3-6 4-4 6-6 15-4 4-6 4-18 6-8 2-14 0-16-1-6 1-20 7-8 4-8 8-30 38-37 34-5 4-6 3-18 4-6 3-2 4-2 12-2 4-4 4-10 5-8 1-6-3-5-5-7-12-14-9-6-9-8-22-5-6-21-11-20-3-26-12-12-3-14 1-15 4-7 4-14 11-14 8-18 13-20 4-21 10-4 4-2 4-1 22-2 10-4 6-3 4-5 4-4 1-18 1-6 0-4-2-4-3-4-6-10-21-3-6-3-2-4-2-4 0-4 2-4 3-4 5-6 9-3 7-2 10-1 20 1 6 10 22 5 8 6 4 18 4 5 4 2 4 1 6 0 16-3 6-5 5-6 4-8 1-10-1-18-6-6-4-8-7-9-10-18-28-4-10-4-14-4-24 1-22 3-28 2-8 18-34 10-16 12-14 3-10-1-12-10-22-10-38-3-32 0-10 1-8 3-8 4-4 18-10 4-5 3-9 0-20 1-4 3-4 18-14 13-14 23-14 25-23 7-9 8-16 6-16 7-31 4-27 3-8 3-6 8-8 10-7 22-10 12-3 10 1 26 6 8-1 22-5 8-1 36 7 28 1 22-3 38 1zM672 555l4-1 3 2 1 3-2 3-4 1-2-1-2-2 0-2zM1320 793l2 0 1 3-1 4-4 2-2-2 0-2 2-4zM1190 954l6-1 4 3 2 3 3 11-1 8-4 6-12 6-4 5-9 23-4 20-4 10-3 3-4 2-7-1-10-6-3-4-2-6 0-54 0-8 2-4 2-4 4-4 8-4 8-1 20-1zM1074 1072l6 0 4 2 9 10 4 8 0 4-3 3-4 1-16-1-20 3-8 0-8-2-5-4-1-4 0-4 2-4 4-3 6-3 16-2zM1152 1206l6-2 3 2 2 4-2 4-5 3-4 0-2-1-2-2-1-2 2-4z"/>
<path fill="#00c00f" d="M1196 378l46 3 20 4 16 5 22 12 22 8 26 15 21 9 23 16 20 20 4 6 4 10 3 22 3 4 8 8 2 4 3 20 3 10 6 8 27 28 4 6 2 8 0 22 0 6-3 6-4 6-22 24-11 22-4 8-7 6-6 2-6 0-14-2-8 0-18 3-12 4-8 5-5 4-7 15-4 5-6 3-18 7-8 2-8 0-22-3-14 6-23 7-8 4-7 6-23 28-7 7-8 4-21 9-17 12-16 7-14 9-6 3-22-1-8-1-6-5-9-18-5-5-14-4-14-7-12-1-6-2-30-12-8-2-8 0-18 1-16 6-16 8-20 19-6 4-6 2-15 3-25 9-8 3-5 4-3 4-9 18-3 3-8 3-6 1-6-1-4-3-9-13-5-3-8-2-8 1-4 2-4 5-8 12-4 9-3 12-1 26 2 6 11 24 4 6 7 4 15 4 6 4 3 8 0 12-3 6-3 4-6 3-6 2-10-2-16-5-8-5-8-7-7-8-18-28-4-10-4-14-4-24 1-20 4-30 1-6 21-36 8-11 13-15 3-6 1-6 0-8-1-6-11-22-10-36-2-30 1-14 2-6 4-5 6-4 12-5 4-3 2-3 3-8 1-22 1-4 3-4 20-14 13-18 17-12 12-12 14-12 6-8 8-14 5-14 5-23 7-43 3-8 3-6 7-7 10-6 18-7 10-3 12 1 30 7 6 0 22-5 10 0 34 4 26 0 26-4 36 0 54-12z"/>
<path fill="#04c000" d="M1192 380l10 0 38 3 20 3 18 6 20 11 22 9 26 15 22 9 21 16 15 16 5 8 5 12 1 8-1 12 0 5 6 13 8 22 9 14 31 32 3 6 2 6 0 14-2 10-4 6-13 10-4 4-4 9-7 25-5 10-4 4-6 3-6 1-12-2-10 0-18 3-12 4-10 5-6 5-4 5-5 10-4 4-23 10-8 2-8 0-7-2-7-4-4-1-10 7-6 3-28 7-17 6-6 4-3 3-11 19-5 6-8 2-16 1-6 1-26 12-8 6-12 20-4 3-4 1-12 1-6-1-4-2-6-6-6-14-5-4-17-2-14-7-18-3-36-14-10-1-16-1-12 2-24 10-6 4-14 16-8 5-20 5-16 5-26 6-10 5-18 12-4 0-11-4-7-1-10 0-7 1-3 2-5 6-10 16-4 10-3 14-1 24 2 6 7 12 8 18 7 6 15 5 6 3 3 6 1 10-2 6-4 4-4 2-6 2-10-2-14-6-6-3-8-7-7-8-18-28-5-12-3-12-4-24 1-18 4-30 2-6 22-36 8-10 14-15 3-7 1-6 1-8-2-8-13-23-9-31-1-14 2-28 2-6 3-4 19-9 5-5 3-8 2-24 3-6 5-4 12-6 6-4 4-6 9-16 13-11 11-11 14-12 7-9 7-15 5-14 5-22 6-44 3-8 3-6 7-8 8-5 12-4 12-3 14 1 32 8 22-3 14 1 12-2 26 2 22-1 8-1 22-4 36 0 52-13z"/>
<path fill="#12c000" d="M1190 382l10 0 38 2 20 4 16 4 24 14 25 10 25 15 18 7 20 17 10 11 8 12 4 14 0 8-4 16 0 4 2 6 16 28 9 10 28 30 4 6 2 8 0 12-2 8-5 4-12 7-3 5-6 32-3 10-4 6-4 4-4 1-18-1-8 1-18 2-12 4-18 11-5 4-6 10-5 4-22 11-8 1-6-1-5-3-7-8-4-1-4 3-8 10-6 3-53 13-3 2-4 4-7 16-5 5-6 3-14 1-6 1-18 9-18 7-6 6-7 18-5 4-4 1-8 0-7-3-3-4-7-16-5-4-4 0-16 0-14-6-18-4-38-13-12-2-18-2-12 3-22 8-6 5-14 15-8 6-18 3-20 6-24 4-30 12-28 2-8 1-6 4-3 4-15 28-4 16-2 26 3 8 6 10 11 21 4 4 4 3 13 4 5 3 3 5 0 8-1 4-4 4-4 2-4 0-15-4-12-6-7-6-7-8-17-26-5-10-3-12-3-14-2-12 1-13 4-33 2-8 24-36 22-24 3-6 2-6 0-10-1-8-3-6-12-18-8-28-1-12 3-26 2-6 3-4 18-9 6-7 3-10 2-20 3-8 6-5 14-6 4-3 4-5 5-13 4-6 11-10 10-11 16-13 6-9 6-13 5-14 4-22 7-48 2-8 4-6 5-6 9-5 12-4 12-2 20 4 24 7 20 0 6 2 6 5 4 0 10-8 6-2 22 0 24-1 8-1 16-5 10-1 30 0 54-13z"/>
<path fill="#20c000" d="M1190 384l10 0 38 2 18 3 17 5 25 15 24 9 24 15 17 7 19 16 7 8 8 12 4 10 1 6-1 8-7 18 0 4 2 4 21 32 35 38 4 6 2 6 0 10-3 6-3 3-12 7-4 6-1 30-2 10-4 8-5 4-4 1-22-1-18 3-12 3-24 14-16 16-16 9-6 2-6 0-4-2-4-5-6-10-2-2-4 0-4 3-9 15-5 4-6 3-18 4-24 4-8 2-5 3-4 4-7 13-4 5-4 2-18 3-20 12-21 7-5 6-6 16-2 3-4 2-6 1-6-4-3-4-5-14-3-4-3-2-6 0-12 2-6 0-14-6-16-3-42-14-22-4-8-1-10 2-22 6-6 5-14 17-4 3-6 3-20 3-20 5-24 4-34 13-22 2-8 2-6 4-4 5-12 20-4 10-5 18-1 26 2 8 8 12 8 16 4 6 8 7 12 4 4 3 3 4 0 4-1 4-2 2-4 2-4 1-14-5-10-5-14-14-17-25-7-20-3-14-1-12 4-46 2-6 24-36 24-24 3-6 3-8 0-10-2-10-16-26-4-10-4-14 0-12 3-20 2-6 3-4 16-9 6-7 6-12 3-22 4-8 5-4 13-6 5-4 4-5 8-17 10-10 10-12 16-13 6-9 6-14 4-14 4-20 6-50 2-8 4-7 6-6 9-5 13-3 10 0 18 4 22 8 18 2 4 2 10 11 6 2 4-2 2-2 8-12 6-3 44-3 24-7 8-1 30 0z"/>
<path fill="#2dc000" d="M1190 386l10-1 39 3 15 3 18 5 24 15 23 9 25 16 18 8 23 22 7 12 3 8 1 6-2 8-7 12-3 6 0 6 1 4 25 32 32 34 5 8 3 8 0 6-2 4-15 10-3 4-2 4 0 4 3 14 1 10-2 10-4 8-2 2-4 2-16 0-10 0-16 3-10 3-28 16-16 13-14 9-4 1-4 0-4-3-5-14-3-4-4-1-6 1-8 6-8 16-6 5-22 6-24 4-8 2-10 7-8 11-4 3-18 5-6 3-16 12-22 7-4 3-2 4-6 15-4 3-4-1-2-1-8-19-4-4-4-2-6-1-14 5-6 0-12-5-14-2-22-6-32-11-16-4-8 0-14 2-18 5-6 5-12 15-4 4-6 3-42 8-26 4-36 13-18 4-6 2-8 5-7 7-14 26-6 16-2 22-1 12 2 8 10 14 9 18 4 6 5 4 4 3 12 5 2 2 1 4-1 2-2 1-4 1-7-2-11-6-14-12-14-19-4-6-4-10-4-13-4-22 4-32 1-14 1-5 9-11 15-23 6-6 15-13 5-5 5-9 2-8 0-10-2-10-4-8-13-19-6-17-2-12 2-12 3-12 3-5 4-4 12-6 7-9 5-14 6-22 2-6 4-4 14-7 6-5 4-6 8-16 16-20 18-15 6-8 6-15 4-14 9-70 2-10 4-6 6-6 9-4 12-2 10 1 16 4 20 9 15 4 15 12 6 3 6 0 6-2 10-14 4-3 4-2 16-3 26-2 20-7 9-2 9 0 14 1 8-1z"/>
<path fill="#3bc000" d="M1190 388l10 0 38 2 14 3 17 5 27 16 24 11 22 14 16 9 10 12 12 11 6 12 1 9-1 4-9 14-4 8 0 8 2 6 5 7 52 55 5 8 2 6 0 4-1 3-14 13-4 6-2 4 0 6 6 12 2 8 0 8-4 7-6 2-14 0-14 2-16 4-38 20-15 11-9 4-4 0-6-12-6-6-6-1-8 1-6 4-8 8-5 6-3 6-4 4-25 8-19 4-8 3-9 5-15 12-12 3-8 4-20 15-22 7-4 3-8 10-2-1-9-11-5-3-6-2-10 0-11 5-5 1-51-13-33-11-12-3-22 1-18 4-6 2-3 3-11 15-4 3-4 3-42 8-28 4-20 7-34 11-6 3-19 16-16 30-4 10-1 18-2 9-2 7-2 1-4-8-2-11 0-6 4-18 0-20 0-4 3-4 9-10 8-14 6-7 6-6 16-11 6-6 5-10 3-8 0-12-3-12-13-24-2-6-1-10-5-6-2-5 0-9 2-9 4-8 14-9 6-8 13-26 3-16 3-6 4-4 11-7 5-5 4-6 7-13 13-19 5-5 14-11 8-11 6-15 4-14 8-72 3-10 4-6 5-4 9-4 9-1 10 1 16 6 16 10 14 6 13 8 13 4 8 1 4-1 4-2 9-12 4-4 11-5 10-2 22-3 30-9 8-1 16 1 10-1zM726 946l4 2 3 4 1 4-2 2-6-7-1-3 0-2z"/>
<path fill="#49c000" d="M1192 390l44 2 12 2 12 4 12 6 26 15 26 13 22 14 7 6 2 6 3 14 5 18 0 8-4 22 1 8 3 8 11 14 3 8-1 4-2 6-10 15-3 11 0 6 3 8 4 6 14 16 3 4 1 4 0 8-6 20-3 8-3 4-8 6-14 8-28 10-8-1-14-6-6-1-8 0-6 1-20 12-16 3-10 4-12 8-13 12-23 13-8 2-20-3-4 0-4 2-4 4-6 10-6 5-16 8-16 5-10 0-22-3-8 2-12 3-12 0-16-4-26-5-26-9-8-2-34 2-22 3-22-1-26 4-16 3-10 1-36-1-6-2-4-3-2-4-1-4 2-20-6-18-1-12 2-8 2-6 3-4 11-11 5-9 4-30-2-18 1-6 4-6 10-10 6-8 17-32 5-5 14-11 6-8 4-8 6-14 3-12 3-44 5-30 3-8 4-6 4-2 6-3 12 0 14 4 6 3 4 4 4 8 2 27 4 17 2 4 2-1 5-11 4-6 11-11 4-2 6-1 18 2 8-1 4-3 12-15 6-4 6-3 30-5 28-10 8 0 16 0 16-2 46-14zM796 793l6 1 2 2 2 4 0 4-1 2-5 3-6 0-2-1-2-4 0-6 2-3zM748 824l4 0 1 4-3 5-2 1-4 1-2-2 0-3 2-4zM724 855l3 1 1 4-2 4-2 2-2 0-2-3 0-3 2-4z"/>
<path fill="#56c000" d="M1184 394l8-2 8 0 34 3 16 3 74 39 18 11 5 6 3 6 5 28-1 10-5 22 0 10 3 8 9 14 2 6-1 4-7 14-2 22 2 8 12 28 2 8-3 26-2 6-2 4-8 5-10 2-22 2-26-3-14 2-8 4-12 8-20 6-12 7-18 9-26 19-8 1-22-2-11 2-5 4-10 12-5 4-7 4-10 2-14 1-28-2-24 2-32-2-14-2-20-7-8-2-4 0-12 4-8 2-14-1-16 1-18-3-8 0-52 10-14 0-10-1-10-3-4-3-3-6 0-16-2-18 0-6 2-8 16-30 2-6 2-28-1-14 1-6 3-6 15-20 12-30 5-6 11-8 6-6 8-12 7-16 3-8 1-8 2-36 2-13 5-25 5-8 4-3 4-1 10-1 10 3 4 2 4 4 2 6 2 22 6 32 3 4 5 2 4-2 2-2 9-20 11-12 8-3 20 2 8-2 4-3 12-16 10-6 8-3 22-4 28-9 24 0 18-3z"/>
<path fill="#64c000" d="M1188 396l10-1 30 2 10 2 10 3 76 39 13 9 6 6 3 8 3 24-1 10-6 20-1 14 2 10 7 14 0 4-4 12 2 28 8 24 4 14 0 10-1 14-1 6-3 4-5 3-6 1-50 0-14 2-9 4-15 10-14 5-16 11-30 12-16 11-8 2-22 0-12 2-6 4-12 14-4 2-6 2-14 0-22-1-62 1-8-2-26-8-10-2-4 1-12 8-6 2-28-2-18-3-8 0-34 7-14 4-6 1-12 0-10-1-8-3-4-3-2-4-2-6 1-28 2-10 5-16 11-18 1-4 2-38 1-6 16-28 10-30 4-6 11-8 7-8 8-12 10-18 3-14 1-32 2-14 7-26 4-7 6-3 6 0 7 2 5 4 3 6 2 18 7 38 2 4 2 1 8 1 4-1 4-4 10-20 10-11 8-3 20 2 8-2 6-5 10-14 6-5 5-3 7-2 22-5 26-8 24-1 20-3 21-7z"/>
<path fill="#72c000" d="M1192 398l8 0 26 2 10 2 8 3 76 39 14 9 6 6 3 11 1 18-2 12-8 20-1 16 1 8 3 12 1 14 4 14 1 16 9 24 2 12 0 20-1 6-3 4-4 2-6 2-44-2-8 1-8 1-12 6-26 14-14 12-8 4-28 8-16 9-6 3-32 2-6 2-6 4-9 12-5 3-4 1-14 1-16-3-64 2-8-2-16-8-20-4-6 1-12 12-8 3-22-2-20-5-8-1-8 2-48 14-10 0-10-2-6-2-4-3-2-5-1-6 0-14 1-10 7-26 3-6 9-10 2-6 2-30 1-10 15-34 7-26 4-6 12-10 9-10 7-10 11-18 2-12 1-30 2-14 7-24 5-8 4-2 4 1 4 2 2 3 8 34 3 24 2 4 5 3 10 0 4-1 5-4 11-20 4-6 6-5 8-3 20 2 8-1 6-5 6-10 4-6 6-5 6-3 28-6 26-9 22-1 22-2 22-8zM989 632l-7 1-16 1-8 1-8 3-5 4-2 4-1 4 0 20 2 8 6 7 4 2 2 0 2-1 3-4 2-6 1-22 4-8 4-4 4-1 12-2 5-1 2-2 1-2-2-2z"/>
<path fill="#80c000" d="M1188 402l10-1 24 2 16 4 76 38 16 10 6 6 2 5 1 6 0 16-3 12-10 20-1 8 0 14 1 10 2 10 8 22 3 18 8 22 2 8 1 8 0 10-2 6-2 4-4 2-6 1-36-2-10 0-8 2-23 11-15 8-8 6-10 10-6 4-10 3-20 3-22 11-8 3-10 1-16 0-6 1-5 4-9 12-4 3-4 1-12 0-16-5-14 3-22-1-18 2-10 0-8-3-10-10-4-3-6-1-16-1-4 1-4 2-10 16-4 3-4 1-12-1-26-7-12-2-8 2-16 6-32 10-8 1-8-2-6-2-4-3-3-6 0-10 1-10 4-22 5-12 12-12 3-6 1-28 1-10 15-40 4-20 5-8 11-10 14-16 15-22 3-12 1-32 1-12 5-14 6-9 2-1 2 1 2 2 4 11 5 20 2 22 2 4 5 3 14-1 6-1 4-4 12-21 8-8 8-4 22 2 10-2 6-6 5-10 4-6 5-4 6-3 26-7 26-8 46-4 22-8zM993 620l-11 5-20 3-14 4-12 6-6 6-1 4-1 8 0 12 2 8 3 6 5 6 8 8 6 4 4 1 4-2 5-9 3-10 1-22 3-6 6-4 18-4 3-2 3-4 2-4 0-4-2-7-4-4z"/>
<path fill="#8dc000" d="M1182 406l10-2 8 0 22 3 10 2 46 25 32 13 16 10 6 7 2 4 1 6-2 14-3 12-9 16-2 6-1 8 0 18 2 12 10 24 5 20 9 26 1 14-1 6-3 4-3 2-4 1-34-3-10 0-8 2-39 20-8 6-11 12-6 4-8 2-22 2-28 14-8 2-8 1-14-1-6 1-6 5-8 12-6 3-6 0-4-1-4-2-8-6-4-1-14 5-22 0-18 3-8 0-4-1-5-4-9-14-4-4-4-2-16-2-3-2-1-4 3-22 0-18 2-6 1-2 4-3 14-4 6-3 6-6 2-6 0-10-3-14-3-5-4-2-4 3-7 8-5 4-6 3-28 6-12 4-14 7-4 4-2 4-1 6-1 18 1 6 2 4 7 8 26 26 4 6 0 6-1 6-3 6-3 4-5 2-6 0-8-2-20-8-14-2-8 2-18 8-30 11-6 0-8-1-5-2-3-2-3-6 0-8 6-32 1-6 4-6 14-10 4-6-2-24 1-14 7-24 7-18 4-20 4-6 11-11 16-17 11-14 5-8 3-12 1-36 2-8 4-6 2-1 2 2 4 7 3 12 1 20 2 6 4 3 4 0 18-2 4-1 4-3 14-23 4-4 6-4 8-2 22 2 6-1 5-3 5-6 6-14 4-4 6-4 6-2 20-5 28-8 46-4 20-8z"/>
<path fill="#9bc000" d="M1190 408l8-1 12 1 10 2 8 2 15 8 33 21 24 7 10 4 12 8 5 6 2 8-1 14-4 12-10 16-2 6-2 8 1 20 2 12 12 24 6 20 8 24 1 6 0 6-2 4-2 2-6 2-20-3-14 0-8 0-6 2-42 23-8 6-11 12-5 3-8 2-16 0-6 1-10 5-20 11-6 2-6 0-14-2-6 1-6 3-10 13-6 3-4 0-4-1-10-9-4-2-4 1-10 5-4 1-20-1-18 4-7 0-3-1-4-3-5-10-2-12 0-18-1-4-2-1-2 0-8 11-4 2-4-1-2-5-2-20 2-7 4-4 12-4 8-5 6-8 3-8 1-28-1-6-5-6-4-2-6 0-4 1-4 3-8 14-6 6-44 12-22 10-5 4-2 4-2 6-2 20 0 6 2 4 7 10 18 15 17 17 3 4 0 4 0 4-3 4-5 1-4-1-22-10-8-2-8 0-10 2-20 10-28 10-10 0-4-1-4-3-2-4-1-8 6-30 3-6 6-7 18-8 4-3 1-2-1-4-5-10-2-6-1-16 5-24 9-22 4-20 5-6 20-20 15-16 7-10 7-14 2-2 8 4 6 0 26-4 6-5 14-22 8-7 4-2 6 0 16 2 6 0 6-1 7-3 5-6 6-16 4-4 6-4 20-5 30-10 48-3 20-8z"/>
<path fill="#a9c000" d="M1186 412l8-1 10 0 12 2 8 2 18 11 34 23 8 4 16 2 6 2 8 5 6 6 2 4 0 4-3 18-3 6-10 16-3 8-1 10 1 16 0 8 2 6 11 17 4 9 5 18 7 20 1 6-1 4-2 2-4 0-28-2-16 3-49 29-19 16-6 2-14-1-8 1-36 19-6 0-14-2-8 2-8 4-8 9-4 3-4 0-12-8-6-2-6 1-12 4-20 0-22 3-4-1-2-2-2-6-1-8 0-24-2-8-3-4-4-2-4 0-8 1-1-1 2-2 7-3 6-5 6-7 4-7 5-12 6-26 0-6-3-8-8-6-10-3-10 0-6 3-5 4-5 6-6 10-4 4-13 4-19 5-30 11-10 6-6 8-10 26 0 4 24 30 10 10 2 4-2 1-16 2-10 2-8 4-14 9-8 3-22 5-6 0-4-2-2-4 0-6 4-26 2-6 3-4 5-3 16-5 9-4 8-6 3-4-3-4-15-13-3-5-1-6 1-8 3-16 2-8 8-18 4-18 6-8 20-15 26-31 6-3 16-4 12-1 4-1 6-6 14-22 6-6 5-3 9-1 22 2 8-1 8-2 4-3 2-3 4-16 2-4 4-4 4-2 12-3 20-8 12-4 12-2 38-2 6-2 16-7z"/>
<path fill="#b6c000" d="M1186 416l10-1 8 0 10 2 8 3 10 6 18 14 20 12 12 10 5 6 4 10 4 30-1 10-5 18 1 8 7 22 11 16 3 8 2 12-3 10-6 8-6 5-26 12-14 9-20 11-22 9-18 2-8 2-6 4-12 11-10 6-8 1-4-1-8-5-4 1-16 11-16 8-8 2-20-1-14 1-6 0-20-4-6-3-7-5-3-6-4-34 2-8 8-22 6-23 2-15-1-6-3-3-7-3-13-3-12-1-14 1-18 7-4 0-4-1-11-9-10-12-2-6-1-6 0-6 2-4 4-4 14-2 6-4 4-6 8-18 4-7 6-7 8-5 6-1 6 0 30 4 22 4 10-2 8-3 2-3 0-2-5-14-1-6 2-6 4-10 4-4 8-5 12-4 12-3 44-3 20-7zM886 576l8 0 5 2 3 5 1 9-1 12-3 10-6 6-7 2-6-1-6-5-3-4-1-6 2-10 4-12 4-5zM872 683l4 0 4 1 4 3 5 5 6 12 1 4-2 4-4 3-28 17-6 1-8 1-8-1-4-2-4-5-1-8 1-12 3-8 7-5 18-5z"/>
<path fill="#c0be00" d="M1188 420l8-1 8 1 8 1 6 3 6 4 19 16 15 6 8 5 8 7 6 8 4 10 1 28-1 10-3 18 1 10 2 11 4 10 13 23 1 8-2 8-5 8-9 6-8 4-16 4-23 16-23 11-8 3-30 6-12 11-4 2-6-1-10-6-6-1-4 2-7 11-5 6-4 3-6 3-26 5-20 0-10-2-11-7-8-6-3-5-1-7-1-26 3-26 9-42 0-4-4-2-42-10-10-1-22 1-4 0-4-3-2-3 1-6 7-11 7-13 7-22 4-5 6-5 6-2 6-1 28 3 12 3 26 9 6 1 6-1 8-6 2-4 2-6 0-4-2-6-10-12-2-6 1-6 2-8 6-8 9-5 12-3 14-2 36-1zM872 688l6 0 7 6 3 6 2 4-1 6-5 4-16 11-6 3-10 1-6-1-4-3-4-4-2-7 0-8 2-6 4-4 4-1z"/>
<path fill="#c0b500" d="M1196 424l8 1 8 3 8 6 15 14 5 3 14 2 8 3 7 6 6 8 3 8 1 8-4 50 1 16 4 16 12 24 0 6-1 6-5 5-6 3-6 2-16 2-6 2-6 5-8 9-6 5-20 10-16 6-8 2-16 1-12 4-16-4-6 0-4 1-4 5-4 12-3 6-4 4-5 3-32 4-10-1-6-2-8-6-6-8-1-6-1-18-7-18 0-12 6-30 4-10 15-17 18-9 4-6 1-24 2-6 7-12 2-10-2-10-2-6-3-4-8-8-3-4 0-8 2-8 3-4 4-4 15-5 16-2 38-1 24-7zM996 504l10-2 30 2 12 4 13 8 6 6 2 8 0 18-3 8-4 3-10 3-8 2-8 0-14-4-24-11-16-4-2-3-1-4 7-22 4-8zM868 692l8 0 6 4 2 4 1 4-2 6-13 10-8 5-8 1-8-3-4-4-2-5-1-6 2-6 3-3 4-2z"/>
<path fill="#c0ad00" d="M1194 430l8 1 6 3 26 23 6 2 12-2 6 1 6 4 6 8 3 6 1 8-1 16-4 18 2 42 2 8 8 22 0 4 0 4-3 3-4 2-22 2-6 3-4 3-8 13-6 6-34 18-10 1-36-5-16 1-6 3-3 4-4 20-3 4-2 2-6 2-20 1-8-1-4-1-4-4-2-5-2-22-3-4-11-8-3-4-3-6 0-6 6-30 2-6 3-4 7-6 8-5 19-7 8-4 5-4 3-6 1-22 2-16-1-10-4-14-3-8-3-4-9-8-3-4-1-6 2-6 2-4 5-4 7-3 8-2 16-1 36 0zM1006 514l28 0 6 2 6 4 4 6 1 6-1 14-2 6-4 3-4 1-4 0-6-2-9-6-21-18-3-4 1-6 3-4zM862 696l8-1 6 1 4 4 1 6-5 6-10 8-8 3-6-1-6-4-3-4-1-6 1-4 5-5z"/>
<path fill="#c0a500" d="M1184 438l10-1 6 2 22 21 6 4 4 2 6 0 14-5 6 1 4 3 4 5 2 6 1 6-2 16-6 16 0 4 4 16 0 12-1 16 5 20 1 4-1 4-5 3-16 2-6 3-6 6-7 14-5 6-30 18-8 2-10-2-9-4-5-6-2-6-2-48 4-26 1-24 4-20 0-20-2-6-3-3-4 0-2 1-2 4-3 16-2 4-2 2-9 2-10-1-4-3-4-6-10-22-14-13-2-3-1-4 2-6 3-4 6-3 8-2 20-2 34 2zM1104 566l8-2 5 2 4 4 2 6 1 18 0 20-1 10-3 8-4 4-6 3-20 1-14-1-16-7-4-4-2-4-1-4 5-28 4-8 6-6 8-4zM866 698l6 0 4 4 0 4-2 4-7 6-7 3-6 0-5-3-4-6 1-4 1-2 2-2 5-2z"/>
<path fill="#c09d00" d="M1114 444l18-1 16 0 18 3 22-1 6 3 12 15 10 6 10 3 8 1 6-2 10-5 4 0 5 2 4 6 1 8-2 12-2 6-7 12-2 6 1 4 6 10 2 8 0 8-3 14 2 14-1 4-4 4-10 3-6 3-6 8-12 20-5 4-25 16-4 1-6-1-6-4-3-4-2-6 0-16-3-20 2-14 6-20 2-24 3-6 6-8 2-6 1-20-1-10-3-4-7-4-9-3-8-1-8 1-8 2-14 8-2 1-4-1-22-17-3-4 0-6 3-3 4-3zM1100 574l6-1 4 2 3 3 3 6 1 12 0 14-1 10-3 6-3 3-4 2-20 2-12-1-10-4-4-4-1-6 4-24 3-8 4-4 6-3zM858 702l10 0 3 2 0 2-2 4-3 3-4 2-4 1-6-2-2-3-1-3 3-4z"/>
<path fill="#c09500" d="M1116 448l10-1 16 0 24 5 14 1 5 3 1 4-2 2-4 1-24-1-26 5-6 0-6-1-6-4-4-3-2-3 0-2 2-3zM1250 472l4 0 2 1 2 3 1 4-1 6-2 6-4 7-9 13-2 6 1 6 10 12 2 6-1 8-5 22-2 2-8 6-6 6-15 24-5 6-22 15-4 1-4-1-4-3-1-4-1-16-3-16 0-8 2-8 8-16 5-26 2-4 8-10 3-6 4-30 2-4 3-1 6-1 18 1 6-2zM1094 582l10 0 4 3 2 4 2 7 0 8 0 8-2 6-4 5-8 3-16 2-10-2-5-4-2-4 3-20 2-8 3-4 5-2zM858 707l2 0 2 1-2 2-2 0-1-2z"/>
<path fill="#c08d00" d="M1244 484l3 0 1 2-2 6-4 6-11 14-3 8 0 4 2 4 4 4 8 7 2 3 1 6-3 10-4 8-11 14-19 27-14 12-4 1-2 0-2-2-1-2-4-22 0-6 1-4 8-12 2-6 7-26 12-24 5-20 2-4 4-3zM1080 591l4-1 10 1 6 1 2 2 3 4 1 6-1 6-3 5-6 4-12 2-6-1-4-2-1-6 1-12 3-6z"/>
</g>
<g fill="none" stroke="#fff" stroke-opacity="0.55" stroke-width="1.5" stroke-dasharray="4 7"><circle cx="1080" cy="782" r="540.9"/><circle cx="1080" cy="782" r="485.0"/><circle cx="1080" cy="782" r="396.0"/><circle cx="1080" cy="782" r="280.0"/><circle cx="1080" cy="782" r="144.9"/><path d="M1080,782 L1080.0,1342.0"/><path d="M1080,782 L1360.0,1267.0"/><path d="M1080,782 L1565.0,1062.0"/><path d="M1080,782 L1640.0,782.0"/><path d="M1080,782 L1565.0,502.0"/><path d="M1080,782 L1360.0,297.0"/><path d="M1080,782 L1080,524"/><path d="M1080,782 L800.0,297.0"/><path d="M1080,782 L595.0,502.0"/><path d="M1080,782 L520.0,782.0"/><path d="M1080,782 L595.0,1062.0"/><path d="M1080,782 L800.0,1267.0"/></g>
<g stroke-linejoin="round" stroke-linecap="round"><path d="M849.2,703.1 853.7,701.8 858.4,701.2 862.2,702.2 865.8,703.8 869.5,704.8 868.0,710.6 864.1,712.0 860.3,711.9 856.6,712.6 853.3,709.7 849.4,708.2 849.1,703.1Z" fill="#c08400" stroke="#000" stroke-width="2.7"/><path d="M651.5,800.8 655.0,795.1 658.1,798.4 659.1,802.5 660.9,806.2 663.1,810.3 663.9,814.8 664.6,819.2 666.0,822.8 665.2,826.7 666.5,830.3 662.6,828.5 661.2,823.7 659.0,819.2 656.6,814.8 655.1,810.0 653.2,805.5 651.7,800.7Z" fill="#00c050" stroke="#000" stroke-width="2.7"/><path d="M1105.1,453.0 1109.2,451.8 1113.5,452.2 1117.7,451.5 1121.8,450.6 1125.4,451.0 1129.1,449.6 1132.8,449.7 1136.5,450.1 1140.2,450.8 1144.0,451.5 1147.5,453.3 1151.1,454.6 1154.5,456.7 1158.5,456.5 1161.6,459.2 1165.8,458.8 1169.7,459.5 1173.4,460.5 1169.7,460.5 1166.0,460.3 1162.4,459.8 1158.7,459.8 1154.9,459.8 1151.3,459.0 1147.5,460.0 1143.9,459.4 1140.2,459.1 1136.5,458.8 1132.8,458.4 1129.1,458.3 1125.4,457.8 1121.8,456.7 1118.0,456.9 1113.7,456.1 1109.3,454.8 1105.1,452.8Z" fill="#c08c00" stroke="#000" stroke-width="2.7"/><path d="M1228.9,498.0 1230.7,494.4 1232.6,490.8 1234.8,487.3 1237.8,485.6 1240.3,482.9 1243.7,481.4 1245.8,478.2 1248.2,475.0 1250.7,471.9 1252.8,468.6 1256.7,472.2 1254.1,476.0 1251.2,479.5 1248.9,483.2 1246.4,486.9 1244.4,490.9 1241.4,494.3 1238.1,498.1Z" fill="#c08c00" stroke="#000" stroke-width="2.7"/><path d="M1077.4,586.7 1083.0,590.3 1085.2,593.9 1088.6,595.9 1092.2,597.7 1096.8,599.5 1101.4,601.4 1104.5,598.6 1108.6,598.2 1110.7,602.7 1110.2,607.0 1107.9,610.6 1104.9,612.8 1101.7,614.7 1098.6,616.7 1095.3,618.1 1092.2,620.0 1087.6,621.9 1083.1,624.0 1077.5,625.8 1073.2,624.6 1069.7,622.4 1069.8,617.5 1071.6,614.4 1074.9,612.2 1076.2,608.3 1079.0,605.0 1076.9,601.5 1074.5,597.8 1074.6,594.1 1074.0,590.4 1076.9,586.3Z" fill="#c08800" stroke="#000" stroke-width="2.7"/><path d="M1225.2,498.0 1222.4,500.5 1219.8,503.2 1218.7,507.0 1216.4,509.9 1213.9,512.7 1212.0,516.4 1210.8,520.4 1208.7,523.9 1206.9,527.7 1206.4,531.9 1206.0,536.1 1204.1,540.1 1203.1,544.2 1201.9,548.3 1201.8,552.7 1200.0,556.6 1199.3,560.8 1199.0,564.7 1197.7,568.3 1196.1,571.8 1195.5,575.6 1192.1,579.5 1188.5,583.2 1185.9,586.0 1182.3,587.1 1178.8,588.3 1179.1,592.2 1184.0,591.4 1188.3,588.8 1191.8,589.9 1195.5,590.7 1198.6,587.0 1200.9,583.2 1202.8,579.1 1203.3,575.6 1205.2,572.4 1206.7,569.1 1207.3,565.5 1209.1,562.3 1210.2,558.9 1210.5,554.9 1211.3,550.9 1212.8,547.0 1213.6,543.1 1213.8,539.0 1213.8,534.9 1215.1,531.1 1217.6,527.8 1219.5,524.3 1220.2,520.3 1221.5,516.5 1224.3,513.7 1226.7,510.6 1229.5,507.9 1232.6,505.5 1236.9,502.4 1239.9,498.0Z" fill="#c08800" stroke="#000" stroke-width="2.7"/><path d="M1247.3,542.3 1243.1,543.2 1239.8,545.8 1237.5,548.9 1236.0,552.4 1234.0,555.5 1232.7,559.0 1230.2,562.5 1226.9,565.3 1224.5,568.9 1221.4,571.8 1218.8,575.2 1216.1,578.5 1213.5,581.9 1210.7,585.1 1207.9,587.6 1206.0,590.8 1203.0,593.1 1200.1,595.5 1197.5,598.2 1195.1,601.1 1192.1,603.1 1188.8,604.9 1187.1,608.7 1187.4,613.0 1187.7,617.1 1187.1,621.1 1187.2,625.2 1185.6,629.2 1187.5,626.0 1190.5,623.6 1193.0,620.8 1195.6,618.1 1198.8,616.0 1201.7,613.6 1204.1,610.7 1206.5,607.9 1208.2,604.5 1210.7,601.7 1213.3,599.1 1214.8,595.8 1217.2,593.1 1218.9,589.9 1221.7,587.5 1223.8,584.6 1225.1,581.1 1226.0,577.5 1227.8,574.4 1229.3,571.1 1231.1,568.0 1233.5,565.2 1235.8,562.4 1237.8,558.9 1240.3,555.8 1242.5,552.5 1245.2,549.5 1245.5,545.8 1247.3,542.3Z" fill="#c08800" stroke="#000" stroke-width="2.7"/><path d="M964.7,902.4 969.3,901.8 974.0,900.8 977.2,903.2 981.1,904.6 982.3,908.0 984.3,911.5 984.9,915.4 984.1,919.0 983.8,922.7 983.2,926.4 983.8,930.9 984.8,935.3 986.5,939.5 987.9,944.3 990.7,948.5 992.8,952.1 995.0,955.6 996.2,959.6 998.1,963.3 999.4,967.2 1001.3,970.9 1001.2,974.6 1001.5,978.3 1001.9,982.0 1003.3,985.6 1004.0,990.1 1005.1,994.4 1006.8,998.6 1006.4,1002.1 1006.5,1005.9 1005.6,1009.6 1003.6,1014.0 999.9,1017.1 996.2,1014.9 994.1,1011.5 993.3,1007.0 990.9,1003.0 990.3,998.5 989.9,994.2 989.2,989.9 988.7,985.5 987.8,981.7 987.2,977.8 985.5,974.3 984.2,970.6 982.8,967.0 981.7,963.2 979.5,959.6 978.3,955.6 975.8,952.2 973.8,948.7 971.7,945.0 970.2,941.2 968.2,937.6 966.1,934.0 964.4,930.2 964.1,926.4 963.4,922.8 963.0,919.1 962.9,915.3 962.6,910.9 964.8,906.8 964.6,902.4Z" fill="#0098c0" stroke="#000" stroke-width="2.7"/><path d="M900.0,1007.7 901.5,1011.0 903.6,1014.0 905.2,1017.1 906.6,1020.3 907.9,1023.6 909.4,1026.8 910.7,1030.1 912.2,1033.9 913.3,1038.0 916.6,1041.0 917.9,1044.6 918.2,1048.3 918.2,1052.1 917.8,1055.8 916.8,1059.5 913.9,1056.2 911.6,1052.7 910.8,1048.5 909.2,1044.8 907.9,1041.1 907.2,1037.2 905.7,1033.5 904.1,1029.7 902.7,1025.7 900.5,1022.3Z" fill="#0058c0" stroke="#000" stroke-width="2.7"/><path d="M1300.0,896.9 1297.4,899.6 1294.1,901.6 1290.7,903.4 1287.8,905.9 1284.6,908.2 1282.0,911.2 1279.1,913.8 1276.4,916.7 1273.8,919.6 1271.2,922.6 1269.1,926.0 1265.9,928.3 1264.2,931.6 1262.1,934.6 1258.4,936.2 1256.8,939.6 1255.3,943.3 1253.0,946.8 1258.5,945.0 1261.5,942.4 1264.2,939.6 1266.6,936.5 1269.5,933.8 1272.9,931.7 1275.0,928.2 1277.7,925.4 1280.8,923.0 1284.4,921.6 1286.7,918.7 1289.3,916.3 1291.6,913.4 1294.5,911.0 1296.8,908.1 1300.1,906.2Z" fill="#0090c0" stroke="#000" stroke-width="2.7"/><path d="M962.8,1099.9 966.6,1099.4 970.2,1097.8 973.0,1101.3 973.9,1105.4 977.5,1107.4 981.2,1109.3 978.8,1112.5 977.3,1116.3 981.2,1119.3 985.2,1121.8 987.6,1124.7 989.2,1127.9 990.2,1131.3 990.5,1135.0 990.5,1139.1 989.3,1142.8 987.4,1146.2 983.5,1148.3 979.6,1148.5 977.0,1145.2 975.9,1141.7 973.8,1138.7 971.6,1135.4 969.8,1131.9 967.1,1129.0 966.6,1124.0 963.8,1119.8 965.1,1115.9 965.1,1111.0 961.5,1105.0 963.3,1100.0Z" fill="#0090c0" stroke="#000" stroke-width="2.7"/><path d="M909.2,1149.8 913.9,1150.2 918.6,1151.0 923.1,1153.5 927.7,1155.4 931.4,1159.0 935.2,1162.6 937.9,1165.9 938.8,1170.1 935.6,1172.4 933.2,1175.5 930.7,1172.6 927.9,1169.9 924.5,1166.7 920.4,1164.4 917.0,1160.5 912.8,1157.3 910.4,1153.8 909.2,1149.7Z" fill="#00c060" stroke="#000" stroke-width="2.7"/><path d="M985.0,1269.8 988.6,1271.2 992.2,1272.0 996.0,1271.9 999.5,1273.9 1003.2,1274.4 1007.1,1274.2 1010.8,1274.7 1014.5,1275.6 1018.2,1276.3 1022.0,1277.7 1025.3,1280.1 1029.2,1281.3 1033.8,1282.6 1038.4,1283.4 1034.2,1282.2 1030.0,1283.5 1025.7,1283.9 1021.9,1283.5 1018.3,1282.9 1014.5,1283.0 1010.9,1282.8 1006.6,1281.8 1002.3,1281.4 997.9,1280.8 993.6,1279.0 990.5,1275.5 987.9,1272.4 985.1,1269.7Z" fill="#0090c0" stroke="#000" stroke-width="2.7"/><path d="M1038.6,1214.4 1042.4,1211.9 1046.1,1209.0 1050.1,1206.7 1053.4,1203.4 1057.1,1202.7 1060.8,1201.6 1062.3,1207.1 1061.4,1210.7 1060.7,1214.4 1058.6,1217.8 1055.3,1220.1 1051.4,1219.6 1047.8,1218.2 1043.4,1215.8 1038.6,1214.4Z" fill="#0090c0" stroke="#000" stroke-width="2.7"/><path d="M1300.0,895.0 1303.7,894.1 1307.4,893.2 1310.7,890.5 1314.3,888.5 1318.3,887.3 1321.0,885.0 1322.9,881.7 1325.8,879.5 1329.2,878.0 1331.9,875.2 1334.6,872.3 1337.3,869.5 1340.5,867.1 1343.0,864.0 1346.7,862.2 1349.8,859.8 1353.4,854.3 1351.6,848.9 1346.1,847.2 1342.9,848.4 1339.7,850.0 1336.7,852.1 1332.9,854.6 1330.3,858.1 1327.5,861.6 1324.3,864.5 1321.3,867.7 1318.5,871.0 1315.7,874.3 1312.2,877.1 1308.8,879.8 1305.2,880.5 1302.3,882.7 1299.6,885.1Z" fill="#0090c0" stroke="#000" stroke-width="2.7"/><path d="M1466.3,927.3 1464.1,930.4 1462.7,933.9 1463.6,938.4 1464.4,943.1 1461.3,945.6 1459.4,949.1 1456.9,952.2 1454.5,955.0 1452.4,957.9 1451.6,961.6 1449.3,965.0 1446.8,968.4 1445.5,972.4 1444.4,976.0 1441.9,978.9 1438.6,977.8 1437.7,974.5 1436.5,970.9 1436.4,967.1 1436.5,963.4 1436.1,959.7 1436.2,956.0 1438.4,951.3 1440.7,946.9 1443.1,943.0 1445.8,939.2 1449.3,936.8 1453.3,935.5 1457.5,933.5 1460.6,929.9 1466.4,927.6Z" fill="#00c058" stroke="#000" stroke-width="2.7"/><path d="M1440.4,981.8 1443.9,985.8 1447.9,989.2 1452.4,988.2 1457.0,987.3 1456.6,991.1 1456.9,994.8 1457.2,998.5 1457.0,1002.9 1457.1,1007.3 1456.0,1011.5 1454.6,1015.2 1452.7,1018.3 1450.1,1020.9 1446.6,1024.2 1442.2,1026.1 1438.7,1029.3 1436.4,1033.3 1432.8,1037.0 1433.6,1032.8 1435.4,1028.6 1437.0,1024.4 1436.6,1020.6 1437.1,1016.9 1436.7,1013.3 1434.8,1009.6 1432.7,1006.0 1433.8,1002.0 1434.1,998.0 1436.3,994.6 1437.4,990.3 1438.6,986.0 1440.2,981.8Z" fill="#00c058" stroke="#000" stroke-width="2.7"/><path d="M847.9,704.7 851.5,703.4 854.4,700.9 858.9,700.6 863.4,700.4 870.0,703.1 868.9,708.7 865.0,710.6 860.9,711.0 856.2,710.6 851.8,709.6 847.9,704.6Z" fill="#c08400" stroke="#000" stroke-width="2.7"/></g>
<path fill="none" stroke="#000" stroke-width="2.7" stroke-linejoin="round" stroke-linecap="round" d="M627.5,498.0 629.4,494.6 629.8,490.7 631.1,487.1 632.3,483.5 634.4,480.2 636.7,477.0 638.2,473.4 639.6,469.6 643.5,467.2 646.3,463.9 648.1,459.6 651.4,457.6 653.2,454.1 656.0,451.5 659.3,449.4 661.1,445.9 664.7,443.5 667.9,440.4 671.9,438.3 675.7,436.7 678.3,433.5 680.6,430.9 683.0,428.3 684.6,425.2 687.4,422.1 690.2,419.2 692.4,415.6 695.8,413.2 698.5,409.9 702.1,407.9 705.7,405.8 709.0,403.4 709.8,398.8 710.0,394.5 709.9,390.2 712.2,387.1 715.5,384.9 717.9,381.7 722.1,381.1 726.0,380.1 729.4,377.9 733.4,375.2 737.0,372.4 740.6,369.5 745.5,368.7 749.7,366.0 753.4,364.7 757.0,363.5 759.8,360.9 762.7,358.3 766.3,359.1 769.9,357.8 773.4,356.0 777.1,356.0 780.9,355.0 784.6,353.7 788.1,352.0 791.9,352.0 795.6,351.3 798.8,355.2 796.9,358.9 794.9,362.8 794.2,367.2 790.1,369.9 786.5,372.8 784.0,375.3 783.3,379.1 781.3,382.1 778.2,384.8 775.2,387.3 771.9,389.2 768.1,390.4 766.2,393.9 762.6,395.5 759.7,397.9 756.6,400.0 754.2,402.8 751.2,404.9 748.6,407.3 745.9,409.7 742.9,412.9 739.6,415.7 736.6,418.9 734.1,421.4 731.9,424.1 729.0,426.2 727.3,429.5 724.5,431.7 725.4,436.3 724.6,440.9 722.8,445.6 720.8,450.2 719.3,454.8 718.5,459.6 715.7,463.1 712.3,465.4 708.7,467.6 705.6,471.0 702.2,474.1 701.0,478.2 699.8,482.2 698.7,486.2 700.6,490.3 702.1,494.6 705.6,495.9 708.7,497.4 711.5,494.4 712.9,490.8 714.2,487.1 717.2,484.8 718.7,481.5 720.1,478.0 722.2,475.1 724.7,472.5 729.0,468.5 732.3,466.3 734.8,463.3 737.1,460.0 739.8,457.2 742.8,454.9 746.4,454.0 749.3,451.8 752.2,449.8 755.6,448.4 758.5,446.1 761.7,443.4 765.6,441.1 768.1,437.4 771.7,436.7 774.8,434.8 777.5,432.3 780.5,430.2 782.9,427.4 784.8,424.0 788.1,422.3 791.7,419.4 795.5,416.8 798.7,414.5 801.3,411.4 804.7,409.3 807.6,407.1 810.3,404.7 813.8,403.6 816.2,400.6 818.9,397.7 822.5,395.8 825.5,393.2 829.0,390.3 832.7,387.5 835.8,385.2 839.4,383.3 841.9,380.2 845.6,379.4 847.9,376.1 851.1,374.5 852.5,370.5 854.6,367.0 857.4,364.2 860.3,361.5 865.0,360.5 869.5,358.7 874.1,357.7 878.7,357.6 881.8,355.9 884.8,353.9 887.8,351.9 891.2,348.6 895.8,347.5 899.8,345.4M847.3,498.0 847.8,494.1 849.0,490.5 850.6,487.0 852.8,483.5 854.1,479.8 855.7,476.1 855.9,471.7 857.3,467.7 858.8,463.7 859.4,459.4 860.8,455.2 862.6,451.0 863.2,446.5 864.3,442.5 863.7,438.4 863.6,434.3 865.2,430.3 864.2,426.2 867.1,422.1 868.4,417.2 871.3,413.9 873.5,409.8 876.9,405.9 880.7,402.2 884.3,400.2 887.9,398.3 891.7,396.1 896.1,394.9 900.0,392.9M878.8,498.0 879.4,494.0 880.2,490.0 880.6,486.0 879.3,481.9 880.0,477.9 880.5,474.2 880.5,470.5 881.0,466.8 879.8,463.1 880.6,459.4 880.6,455.7 881.4,452.0 881.8,448.4 882.1,444.6 882.0,440.9 883.5,436.9 883.7,432.7 884.0,428.5 884.3,424.3 885.9,420.8 887.1,417.0 887.9,413.2 890.2,410.2 893.4,408.5 899.9,406.4M900.0,274.7 896.6,275.8 894.0,278.3 891.2,280.5 888.0,282.1 884.4,284.7 880.8,287.4 877.0,289.5 873.8,291.2 871.0,293.6 867.7,295.1 863.5,298.2 860.1,302.2 858.5,305.9 857.3,309.7 860.3,312.7 862.2,316.2 866.1,315.6 869.6,313.6 872.5,310.9 875.2,308.1 878.7,306.8 882.3,305.5 884.7,302.2 888.0,300.5 891.9,298.8 896.3,298.2 900.0,296.0M900.0,322.7 896.9,325.1 893.4,326.8 889.9,328.3 883.4,330.3 886.6,335.4 882.9,338.6 878.8,337.9 875.7,343.4 879.0,344.4 882.6,346.5 887.0,344.7 891.8,343.2 895.7,340.8 900.0,339.4M627.5,498.0 625.6,501.7 624.4,505.7 622.5,509.4 621.1,513.0 619.2,516.5 617.8,520.2 616.5,523.9 616.6,527.6 615.9,531.1 613.9,534.1 613.5,537.7 611.1,540.6 611.2,544.6 609.8,548.2 608.6,551.9 607.2,555.5 605.3,559.0 605.3,563.0 602.9,566.3 601.8,570.0 600.7,573.7 599.7,577.4 598.3,581.0 598.1,584.9 597.8,588.7 596.0,592.2 595.1,595.9 594.4,599.9 592.4,603.3 592.1,607.7 591.5,612.0 591.0,616.3 592.6,619.7 593.0,623.4 592.8,627.2 592.7,631.0 593.2,634.7 591.9,638.4 592.6,642.1 592.9,645.8 591.7,649.6 591.2,653.4 590.6,657.1 589.0,660.7 588.9,664.4 589.2,668.2 588.6,671.8 587.2,675.4 586.9,679.8 586.0,684.0 585.4,688.4 583.7,692.3 581.4,695.7 577.6,697.5 573.8,699.1 570.9,701.6 568.7,704.4 571.3,710.9 569.6,715.8 569.7,719.7 569.1,723.4 569.4,727.1 569.3,730.8 570.2,734.9 569.8,739.1 569.9,743.3 570.3,747.4 571.2,751.1 571.5,754.8 570.5,758.5 571.3,762.2 571.2,765.9 571.5,769.9 571.6,773.9 571.8,778.0 572.1,782.0 571.9,786.0M629.3,634.7 627.2,637.6 624.9,640.4 623.4,643.8 620.3,646.0 618.3,649.0 617.2,652.8 614.9,655.7 612.8,658.8 612.5,662.6 610.6,666.1 609.7,669.8 609.0,673.5 609.3,677.4 607.6,680.9 607.6,684.8 607.0,688.5 605.5,692.0 605.6,695.8 605.3,699.5 604.6,703.1 604.9,706.9 603.7,710.5 604.2,714.1 603.6,717.9 605.5,721.5 605.8,725.2 606.1,728.9 606.3,732.6 607.1,736.2 607.4,739.9 607.4,743.7 607.0,747.4 608.2,751.1 608.7,754.7 608.4,758.5 608.7,762.2 608.6,765.9 609.3,769.9 610.6,773.9 610.3,778.0 610.7,782.0 610.7,786.0M629.3,634.7 633.0,636.6 636.7,638.4 636.4,642.7 637.7,646.8 638.4,651.0 639.3,655.1 639.2,658.7 638.2,662.4 639.0,666.1 638.7,669.8 639.1,673.5 638.6,677.2 637.0,680.7 637.5,684.6 637.9,688.4 636.6,692.0 635.7,695.6 636.1,699.4 636.3,703.1 634.9,706.7 635.2,710.5 634.8,714.5 632.7,717.9 631.6,721.6 630.3,725.2 629.2,728.9 628.5,732.6 627.5,736.3 626.7,739.9 625.7,743.6 625.6,747.4 624.4,751.1 624.3,755.1 623.1,758.7 621.0,762.1 620.0,765.9 619.4,769.9 619.1,774.1 618.9,778.2 618.5,782.3 616.8,786.1M847.3,498.0 845.7,501.2 843.3,504.0 842.1,507.4 840.5,511.2 837.8,514.1 835.3,517.2 832.7,520.3 829.6,522.2 827.6,525.5 824.7,527.6 821.5,529.4 818.0,531.4 814.5,533.3 812.1,536.6 810.0,539.6 808.4,542.9 806.7,546.1 803.3,548.5 799.0,549.2 795.4,551.2 791.1,551.1 787.0,552.6 782.7,553.6 779.1,555.1 775.6,556.7 771.7,557.3 770.5,560.7 769.1,564.0 766.6,566.7 763.7,569.5 760.2,570.6 756.7,571.8 751.8,571.1 747.6,568.1 747.2,571.9 746.0,575.5 745.4,579.2 742.7,581.8 740.2,584.8 737.3,582.2 734.6,579.3 732.8,575.8 731.9,572.0 730.8,568.2 727.3,569.1 723.6,568.5 718.4,572.5 716.9,576.5 714.1,579.9 711.2,583.4 704.7,579.9 702.0,576.2 699.4,572.9 698.9,568.5 696.4,565.1 696.0,561.2 694.0,557.8 694.1,553.7 693.5,549.9 691.0,547.5 688.4,545.0 687.1,541.4 684.6,538.7 681.0,538.2 677.4,537.3 673.6,537.0 669.8,537.0 666.1,536.9 662.5,535.5 659.8,539.0 655.4,540.7 652.9,543.7 650.8,547.1 648.1,549.9 644.0,547.1 640.5,544.1 642.3,539.6 643.7,534.8 640.7,540.7 638.0,544.9 636.9,549.8 636.3,554.1 635.1,558.2 634.4,562.5 632.7,566.5 633.4,570.9 633.2,575.6 636.8,576.7 640.6,577.5 644.1,579.3 644.4,583.0 645.2,586.7 645.1,590.4 645.9,594.1 647.9,597.7 649.2,601.7 651.1,605.4 653.6,608.7 655.7,612.2 656.0,616.1 655.7,620.1 656.6,623.8 659.7,626.6 662.5,629.5 666.1,631.2 669.7,628.7 673.8,627.5 676.7,623.8 679.0,619.8 681.1,615.6 684.6,612.5 685.4,608.6 686.9,605.1 688.8,601.6 688.2,597.7 688.2,594.0 687.0,590.4 686.6,586.7 686.8,582.9 687.1,579.2 687.7,575.5 688.8,571.9 691.2,569.1 693.0,566.0 693.9,562.6 696.9,565.3 699.5,568.2 700.1,572.7 701.1,577.1 703.1,581.2 702.9,585.5 703.1,589.8 704.1,594.1 704.2,597.9 703.1,601.5 703.1,605.4 701.5,608.9 701.0,612.7 702.0,616.3 701.9,620.1 702.8,623.7 703.0,627.6 704.4,631.2 705.6,634.8 707.0,638.4 707.3,642.7 708.2,646.9 709.0,651.0 710.2,655.1 710.1,658.8 710.0,662.6 710.1,666.3 710.0,670.0 711.9,673.6 712.7,677.9 713.2,682.2 713.9,686.5 715.3,690.2 716.2,694.1 718.3,697.4 719.5,701.1 719.4,704.9 720.1,708.5 720.5,712.2 723.1,714.7 725.7,717.5 727.4,721.3 728.4,725.0 727.9,728.8 730.0,732.4 729.0,736.2 729.0,740.0 728.7,743.7 729.1,747.4 727.5,750.7 725.7,753.7 723.6,756.7 722.2,761.2 721.7,765.9 725.4,767.7 729.0,769.7 733.7,769.4 738.3,769.3 739.2,773.7 738.8,777.8 738.3,781.9 738.5,786.0M725.4,584.8 726.4,589.1 726.4,593.5 727.6,597.7 730.2,600.3 733.5,602.6 736.5,605.1 740.3,606.7 742.8,609.9 745.7,612.5 744.1,616.3 740.3,613.6 736.3,611.6 732.5,609.2 728.6,606.2 727.1,601.6 726.5,597.6 725.7,593.8 723.7,590.3 725.7,584.9M878.8,498.0 877.6,501.6 876.8,505.3 875.3,508.8 875.2,512.7 875.1,516.5 873.8,520.1 872.7,523.8 870.5,527.2 869.7,531.0 869.5,535.0 867.7,538.7 865.3,542.1 863.2,545.7 861.6,549.5 858.2,550.3 854.6,551.7 851.0,553.2 848.1,555.5 844.6,556.7 842.0,559.3 841.3,562.6 839.7,565.7 838.4,569.0 836.4,572.0 832.9,574.7 830.2,578.2 827.0,581.2 826.3,585.1 824.7,588.7 823.6,592.5 821.6,596.0 817.7,598.1 814.3,600.8 810.7,603.3 806.9,605.5 802.3,607.0 797.5,607.2 799.7,609.9 801.7,612.9 802.9,616.3 800.4,619.9 797.5,623.2 795.6,627.3 793.4,630.3 791.2,633.3 787.8,635.1 784.6,637.0 782.6,640.2 784.3,643.6 785.9,647.0 788.7,649.4 792.0,651.3 794.6,653.8 797.4,656.1 800.5,657.9 803.0,660.6 803.5,664.3 803.9,668.0 803.9,671.7 804.8,675.4 800.1,673.9 795.5,671.9 790.9,672.3 786.3,673.3 785.3,677.3 783.4,680.7 782.5,684.6 779.0,683.1 775.3,684.4 774.6,680.7 773.0,677.2 771.9,673.4 767.5,675.7 764.1,678.9 759.6,678.7 755.0,679.3 752.8,682.0 751.7,685.3 751.3,689.0 749.4,692.0 748.4,695.5 745.6,698.1 743.8,701.2 742.7,705.1 744.6,708.6 745.0,712.3 745.3,716.1 746.8,720.1 749.4,723.4 751.4,727.0 754.4,729.6 756.3,733.2 758.6,736.4 761.3,739.3 763.9,742.3 766.2,745.5 769.7,745.8 773.4,745.5 776.4,743.6 779.5,741.7 782.5,739.7 787.2,738.8 791.9,737.9 789.7,741.5 787.5,744.7 784.7,747.6 780.8,747.9 777.1,747.4 775.8,750.8 774.3,754.1 771.9,756.8 775.1,759.7 779.0,762.1 781.3,766.6 782.8,771.4 780.0,775.2 777.0,778.7M790.1,777.0 793.4,775.9 796.7,774.4 800.2,774.1 803.7,773.4 807.0,772.1 810.6,771.8 814.1,771.6 818.0,772.0 821.4,770.1 825.3,770.3 828.9,769.3 832.6,769.0 836.2,768.0 839.9,767.6 843.6,766.7 847.3,766.5 851.0,766.8 854.7,766.2 858.4,765.6 862.1,766.0 865.8,766.6 869.5,765.7 873.2,765.6 876.9,765.1 880.6,764.3 884.3,764.1 888.0,764.0 892.0,764.8 896.1,764.3 900.1,765.3M867.7,571.9 869.0,576.7 871.3,581.2 870.2,585.4 870.8,589.9 869.9,594.1 867.8,597.8 865.7,601.1 862.5,603.6 861.1,607.5 858.3,610.4 855.1,612.8 854.9,616.3 854.6,620.0 853.8,623.7 853.0,627.3 851.0,631.3 849.6,635.3 849.8,639.7 848.8,643.9 851.1,649.5 854.7,650.7 858.4,652.0 862.1,653.3 865.8,652.3 869.5,651.6 873.3,651.7 876.5,649.1 878.7,645.8 879.3,642.0 880.1,638.3 883.7,635.0 887.8,633.1 891.6,630.9 895.2,627.8 900.0,627.2M856.6,693.8 852.9,693.0 849.2,692.5 845.5,693.4 841.8,693.3 837.4,694.4 833.0,694.7 828.9,696.8 830.3,700.9 832.7,704.9 831.0,708.5 829.7,712.2 828.6,715.9 827.5,719.3 827.3,723.0 825.5,726.1 823.7,729.1 824.2,733.6 823.1,737.9 821.0,742.0 824.6,742.4 827.2,745.3 830.5,743.6 834.2,742.5 838.0,741.6 841.1,739.8 844.4,738.6 847.8,737.7 851.2,736.6 855.3,734.9 859.8,734.2 864.0,732.9 867.8,729.1 871.5,725.4 874.0,721.9 875.7,718.2 879.9,718.1 884.3,716.1 888.1,714.9 892.0,713.9 896.0,714.0 900.0,713.8M572.1,786.0 572.1,789.7 571.9,793.5 572.7,797.1 573.2,800.8 573.5,804.5 574.4,808.2 574.2,811.9 574.5,815.6 574.7,819.3 575.3,823.0 575.7,826.7 577.3,830.3 577.9,833.9 578.8,837.6 577.9,841.4 579.2,845.0 578.2,848.8 577.6,852.6 578.8,856.2 579.5,859.9 579.0,863.7 579.7,867.3 579.4,871.1 580.0,874.8 581.3,878.4 581.2,882.1 581.6,885.8 582.0,889.5 581.5,893.3 583.1,896.9 584.1,900.5 586.0,904.0 585.4,907.9 587.0,911.5 587.0,915.3 587.5,919.0 588.3,922.7 589.8,926.3 590.1,930.1 590.8,933.8 591.5,937.5 591.8,941.2 592.3,945.0 592.9,948.7 593.9,952.3 595.2,956.1 595.3,960.1 597.7,963.4 599.2,967.3 600.9,971.1 603.3,974.5 605.5,978.7 608.7,982.1 609.8,986.5 610.8,991.1 611.8,995.2 613.7,998.9 616.2,1002.3 616.8,1006.6 618.5,1010.4 621.1,1013.7 623.2,1017.2 625.3,1020.8 627.5,1024.4 629.4,1027.4 631.1,1030.5 633.0,1033.6 635.6,1036.6 639.3,1038.4 642.2,1041.1 638.4,1042.5 634.9,1044.6 631.0,1041.1 633.1,1045.1 633.6,1049.6 635.3,1053.8 637.0,1058.4 638.4,1063.2 639.4,1066.9 641.4,1070.3 642.2,1074.1M610.9,786.0 610.9,789.7 612.6,793.3 611.6,797.1 613.0,800.7 612.6,804.5 613.4,808.2 614.7,811.7 615.0,815.5 615.0,819.2 615.5,822.9 615.5,827.2 615.7,831.5 616.8,835.5 617.5,839.7 617.7,844.0 619.7,848.2 620.3,852.5 622.8,857.2 626.4,858.6 625.7,854.3 624.5,850.3 624.1,846.1 622.9,842.0 622.5,837.8 620.9,834.2 622.3,830.3 621.4,826.6 620.2,823.0 620.1,819.3 618.3,815.7 618.0,812.0 618.8,808.2 617.9,804.5 617.5,800.9 617.3,797.1 617.2,793.4 617.0,789.7 616.5,786.0M732.8,786.0 731.3,789.9 730.1,793.9 727.9,797.4 727.0,801.2 724.5,804.1 723.1,807.6 720.4,810.3 719.2,814.0 716.2,816.7 715.1,820.5 712.3,823.2 711.0,826.8 708.8,830.2 708.8,834.5 706.5,837.9 704.6,841.4 703.1,845.1 701.4,848.3 700.2,851.6 700.0,855.2 697.8,858.2 697.7,861.8 697.8,865.5 697.3,869.5 696.3,873.5 696.7,877.7 696.7,881.9 695.0,885.8 695.5,889.8 695.3,893.9 695.8,898.0 695.8,902.0 695.3,906.1 697.1,909.5 697.4,913.3 697.9,917.0 697.8,920.8 697.9,924.5 699.0,928.2 701.1,931.6 700.5,935.8 702.5,939.2 703.0,943.1 705.3,946.0 706.0,949.5 707.5,952.7 708.2,956.2 708.7,959.7 710.1,963.6 712.3,967.2 713.4,971.2 716.2,974.4 717.5,978.0 720.1,980.8 721.5,984.2 723.2,987.6 725.0,990.9 727.4,993.6 729.4,996.6 732.2,998.9 735.0,1001.5 737.5,1004.2 740.9,1005.6 743.7,1007.9 746.9,1011.2 750.3,1014.0 754.7,1015.6 759.3,1018.1 764.0,1020.1 768.8,1020.3 773.1,1019.1 777.1,1016.9 780.8,1016.2 784.6,1015.9 788.2,1015.0 791.5,1013.6 794.7,1011.9 797.5,1009.6 800.0,1006.5 803.0,1004.0M810.4,786.0 806.6,786.4 802.8,786.9 799.3,788.7 795.5,789.4 792.2,791.7 788.3,791.7 784.7,793.3 780.6,793.7 776.5,794.1 773.3,796.8 769.8,799.1 766.2,801.1 762.1,802.2 758.8,804.7 755.4,806.7 752.7,809.9 749.6,812.3 745.8,813.8 744.0,817.2 741.0,819.4 738.8,822.3 735.6,824.2 733.0,826.8 731.2,830.4 728.5,833.3 725.6,836.2 723.6,839.6 721.9,843.4 719.9,847.0 719.2,851.3 716.4,854.5 715.2,858.2 713.6,861.8 712.0,865.5 710.4,869.1 709.9,873.3 709.0,877.5 707.6,881.6 706.6,885.7 706.0,889.4 706.6,893.2 706.8,896.9 707.1,900.7 705.2,904.3 705.6,907.9 705.3,911.7 706.0,915.4 706.5,919.0 707.0,922.7 708.0,926.4 709.0,930.0 709.4,933.9 710.9,937.4 711.5,941.7 714.4,944.9 715.7,948.8 717.7,952.5 719.3,955.9 722.4,958.0 724.6,960.9 727.3,963.3 731.1,965.1 733.0,968.8 735.9,971.3 738.4,974.3 741.4,977.0 745.0,978.8 747.9,981.4 751.5,983.2 754.5,985.8 757.3,988.7 760.7,989.7 763.4,992.3 766.1,994.6 764.3,990.1 762.2,985.6 758.6,983.1 756.3,979.3 753.4,976.1 750.0,973.2 747.6,969.5 744.2,966.8 741.1,963.7 737.8,960.8 735.0,957.4 732.3,954.6 729.3,952.0 727.0,948.8 724.4,945.4 723.2,941.3 721.4,937.7 720.0,933.4 718.8,929.1 719.0,924.6 718.2,920.8 719.6,917.2 719.1,913.4 719.9,909.8 719.1,905.9 719.6,902.2 721.7,898.8 721.7,895.0 723.3,891.5 723.9,887.7 724.6,884.0 725.4,880.2 726.5,876.9 728.2,873.8 729.3,870.4 731.0,867.3 732.7,864.0 733.4,860.1 736.0,857.3 738.2,854.3 740.5,851.5 743.0,848.8 745.2,846.0 747.3,843.0 749.5,840.0 752.9,838.4 755.6,836.1 758.6,834.0 762.8,832.2 766.4,829.7 769.8,826.7 773.5,824.8 776.7,822.1 780.7,820.8 784.7,819.6 788.4,818.4 791.9,816.5 795.5,814.7 799.2,813.5 803.0,812.4 806.6,810.7 810.2,809.0 814.2,808.4 817.8,807.9 821.5,807.8 825.3,808.4 828.9,807.2 832.6,806.8 836.3,806.6 840.1,806.7 843.7,806.2 847.6,807.1 851.1,804.9 855.1,805.4 858.6,803.7 862.4,803.5 866.0,802.4 869.5,800.8 873.4,801.1 877.3,800.8 881.0,800.0 884.7,798.8 888.6,798.8 892.4,798.1 896.3,798.4 900.0,797.1M786.4,944.9 785.8,948.7 784.7,952.3 782.6,956.6 779.1,959.7 775.5,957.9 771.7,957.5 768.0,952.2 767.1,947.2 765.0,942.7 762.6,939.8 761.1,936.5 758.6,933.8 756.7,930.2 755.2,926.3 756.9,922.8 758.7,919.0 759.5,915.4 760.8,911.8 761.0,908.0 759.1,904.0 757.3,900.3 758.0,896.9 758.6,893.1 760.8,889.6 762.8,886.0 765.3,882.2 767.8,878.3 772.1,876.2 775.7,873.3 778.3,878.8 776.2,881.6 776.6,885.6 778.5,889.9 782.1,891.9M900.0,848.8 895.7,850.4 891.5,852.2 888.6,849.5 884.5,848.3 880.7,851.6 879.8,855.8 878.6,859.8 873.2,856.2 872.6,860.1 871.6,863.9 869.6,867.3 871.5,871.6 874.6,875.1 872.2,877.9 870.2,881.5 869.4,885.7 871.4,889.5 873.9,892.8 874.9,896.9 880.6,900.6 877.7,905.0 873.2,908.0 869.4,907.6 865.7,906.5 865.6,910.7 864.4,915.0 862.5,919.1 856.6,915.3 854.1,919.2 850.9,922.6 849.4,926.3 848.5,930.1 847.0,933.7 847.3,937.9 849.0,941.5 851.0,944.9 854.2,948.3 856.6,952.3 858.3,955.8 858.6,959.5 858.4,963.4 854.7,968.9 852.4,964.5 850.6,959.8 849.1,956.2 849.1,952.1 847.1,948.7 843.7,952.3M817.8,926.4 821.4,927.6 825.1,927.9 828.8,928.6 833.0,931.2 838.0,932.2 841.4,934.7 845.4,935.8M812.2,939.3 814.8,943.2 817.6,946.9 813.7,952.1 817.3,955.8 821.3,958.1 817.4,963.1M860.3,968.9 862.3,972.5 864.3,976.2 864.6,980.6 865.9,984.8 865.6,989.3 864.3,993.5 863.5,997.9 862.0,1002.1 859.0,1005.1 856.6,1008.7 853.7,1011.8 850.9,1015.0 847.9,1018.7 843.7,1020.7 838.2,1022.7 835.5,1026.0 832.0,1028.4 828.1,1030.5 825.2,1033.6 822.0,1036.0 819.8,1039.3 817.3,1042.3 814.3,1044.8 810.8,1047.2 807.1,1049.1 802.7,1049.6 799.3,1052.0 795.6,1053.9 795.1,1058.4 793.5,1062.6 792.0,1066.9 795.5,1063.0 798.5,1066.5 801.2,1070.0 803.1,1074.0M644.1,1074.0 645.9,1078.6 647.9,1083.2 648.0,1087.3 649.9,1090.7 651.1,1094.5 654.2,1099.0 658.4,1102.2 660.5,1105.4 662.4,1109.0 665.9,1111.3 668.9,1115.2 673.6,1116.6 675.3,1120.2 677.6,1123.4 680.9,1125.9 682.7,1129.5 686.1,1131.8 688.7,1134.8 690.8,1137.7 693.2,1140.4 694.9,1143.7 697.8,1146.0 700.0,1148.9 703.5,1150.4 706.1,1152.9 708.8,1155.3 711.4,1157.7 714.7,1159.4 717.3,1161.9 719.9,1164.5 722.7,1167.3 725.5,1170.0 728.0,1173.0 731.0,1175.6 734.2,1177.9 737.2,1180.5 739.8,1183.4 742.2,1186.5 745.9,1190.2 748.6,1192.8 752.2,1194.1 755.0,1196.7 758.7,1197.7 761.0,1200.6 764.2,1202.4 767.4,1204.2 769.7,1207.1 773.0,1209.3 776.6,1211.0 779.5,1213.9 782.6,1216.4 785.3,1219.4 789.0,1221.0 791.8,1224.0 795.4,1225.7 799.4,1227.7 803.1,1230.0 807.3,1231.5 810.7,1234.2 814.7,1235.8 818.2,1238.2 821.8,1240.4 825.4,1242.7 828.7,1244.2 832.1,1245.3 835.1,1247.5 838.8,1248.3 842.0,1250.0 845.7,1251.7 849.7,1252.6 853.1,1255.0 856.2,1257.9 860.2,1259.0 863.7,1260.7 867.5,1261.5 871.0,1263.2 875.0,1263.5 878.8,1264.1 882.5,1264.6 886.1,1265.0 889.5,1266.6 892.6,1269.1 896.4,1269.3 900.0,1269.7M773.4,1074.0 775.2,1077.7 777.0,1081.4 780.9,1080.8 784.5,1079.5 783.0,1084.3 781.0,1088.9 784.3,1092.7 788.2,1096.2 791.1,1098.3 793.6,1101.0 796.2,1103.5 799.2,1105.5 802.8,1108.1 806.8,1110.2 810.3,1112.9 814.2,1115.1 818.2,1117.2 821.8,1119.8 823.8,1123.4 827.0,1125.8 829.2,1129.2 832.4,1131.3 835.6,1133.6 838.2,1136.7 842.3,1138.6 846.0,1141.0 849.2,1144.2 852.2,1146.7 854.9,1149.7 858.4,1151.6 862.9,1153.8 867.4,1155.8 871.8,1158.3 876.7,1159.5 881.4,1157.3 884.4,1153.6 887.3,1149.9 889.9,1146.1 890.4,1142.4 890.8,1138.6 891.4,1134.9 893.9,1131.6 897.5,1129.7 894.4,1125.8 891.7,1122.0 895.8,1120.8 900.0,1120.0M900.0,1186.7 893.5,1188.4 890.8,1191.8 889.4,1195.7 891.3,1199.8 893.4,1203.4 895.2,1207.1 897.3,1210.7 899.9,1212.6M900.0,271.0 903.6,269.1 907.5,268.4 911.2,266.9 914.8,265.2 918.5,263.7 922.3,262.4 926.2,261.4 929.3,258.6 933.4,257.9 937.1,256.5 941.0,254.6 945.2,253.7 949.4,252.7 953.6,251.5 957.7,250.9 962.0,250.8 966.1,250.0 970.2,248.9 973.9,248.1 977.6,247.9 981.2,246.8 984.9,246.2 988.6,246.3 985.1,249.3 981.0,250.8 977.6,253.4 979.6,259.8 974.8,260.6 970.3,262.0 967.0,263.5 963.3,263.1 960.2,265.2 956.5,265.1 953.0,265.3 949.3,265.2 946.0,266.5 942.2,267.9 938.9,269.8 935.7,271.9 932.5,274.0 928.8,275.3 925.7,277.7 921.8,278.3 918.4,280.0 914.9,282.2 911.5,284.6 907.6,286.2 903.9,288.0 899.9,289.2M900.0,343.0 904.3,339.9 907.7,336.0 910.1,332.8 912.6,329.8 915.9,327.5 918.7,324.8 922.7,323.8 926.1,321.4 929.7,319.3 932.9,316.4 936.2,313.7 939.3,310.7 942.5,307.9 946.3,304.3 950.2,300.8 953.2,297.3 955.6,293.2 958.8,290.4 962.5,287.9 965.1,284.4 968.1,281.9 971.0,279.0 974.6,277.3 977.6,274.7 981.9,273.3 985.9,271.5 989.0,268.3 992.6,265.8 996.3,264.7 1000.2,263.9 1003.5,261.3 1007.2,259.9 1011.0,258.8 1014.9,258.0 1018.1,255.5 1021.9,254.2 1025.4,252.6 1029.3,252.3 1033.1,251.8 1036.8,251.1 1040.3,249.4 1044.2,249.7 1047.7,248.2 1051.5,248.0 1055.2,247.8 1058.9,247.0 1063.0,246.6 1067.0,245.9 1071.0,245.2 1075.1,244.7 1079.2,244.8 1083.3,245.2 1087.3,245.7 1091.4,246.7 1095.5,246.2 1099.6,245.6 1103.6,244.0 1108.1,243.8 1112.4,243.1 1116.2,243.2 1119.9,243.3 1123.5,245.0 1127.2,245.4 1130.9,245.7 1134.9,245.8 1138.9,245.9 1142.8,246.4 1146.8,246.2 1150.8,246.4 1154.8,246.1 1158.7,247.5 1155.0,248.4 1151.4,250.0 1147.6,248.8 1143.9,249.4 1140.2,249.6 1136.5,249.4 1132.8,250.0 1129.1,249.9 1125.4,250.7 1121.7,251.0 1125.7,251.3 1129.3,252.8 1133.2,253.8 1136.6,255.9 1140.6,256.3 1144.1,258.1 1147.5,260.0 1151.0,261.9 1154.7,263.1 1158.6,263.8 1162.9,264.5 1167.1,265.8 1171.5,265.7 1167.3,266.6 1162.8,267.2 1158.6,268.9 1155.4,271.4 1152.4,274.0 1149.2,276.4 1145.9,278.5 1150.0,277.2 1154.5,277.8 1158.7,276.6 1163.2,278.6 1167.9,280.1 1164.3,281.6 1160.7,282.6 1157.1,284.0 1153.3,284.3 1149.5,284.2 1144.6,285.2 1140.2,287.5 1136.5,288.6 1132.7,287.8 1129.0,288.0 1125.4,289.2 1121.7,289.6 1118.4,288.3 1114.7,288.1 1111.6,286.3 1108.8,284.0 1105.2,282.1 1101.5,280.4 1098.7,277.5 1095.5,275.1 1091.3,275.8 1086.7,276.8 1082.0,275.8 1078.2,276.8 1074.1,277.0 1070.2,277.3 1066.3,278.4 1062.6,279.5 1058.7,279.6 1055.3,281.5 1051.5,282.0 1047.6,284.2 1044.3,287.2 1040.6,289.7 1043.9,292.6 1046.3,296.6 1043.8,300.2 1040.0,302.2 1038.7,306.2 1035.4,309.9 1031.5,312.9 1034.2,314.8 1037.7,316.4 1040.3,319.2 1040.8,323.6 1040.8,328.2 1042.7,331.7 1044.2,335.6 1045.9,339.4 1048.6,342.3 1051.5,345.0 1053.3,348.6 1056.8,350.0 1059.9,352.2 1063.1,354.0 1066.3,356.0 1070.6,359.0 1073.9,363.1 1078.0,364.8 1082.0,367.0 1083.5,362.5 1084.4,357.7 1088.2,356.0 1092.0,355.4 1096.4,357.6 1099.7,360.7 1103.4,363.2 1107.1,362.4 1110.9,361.4 1114.3,359.2 1117.9,357.6 1122.6,357.0 1127.3,356.9 1131.1,357.5 1134.5,359.5 1138.3,360.5 1142.2,360.6 1145.8,362.2 1148.7,360.3 1151.3,357.5 1155.2,357.1 1158.6,355.9 1162.4,354.1 1165.5,351.3 1169.6,350.2 1173.8,351.5 1177.7,353.1 1180.9,355.9 1184.5,355.1 1188.2,354.3 1191.8,353.5 1195.6,353.1 1199.6,352.9 1203.5,354.0 1207.4,355.1 1211.4,355.2 1215.4,355.6 1219.4,354.8 1223.3,355.9 1226.7,357.1 1230.0,358.9 1233.4,359.7 1237.2,359.8 1240.6,360.6 1244.0,361.9 1247.5,362.5 1251.1,363.1 1254.5,364.6 1257.9,365.9 1261.5,366.7 1264.6,368.8 1268.1,369.8 1272.0,369.8 1275.2,371.6 1278.8,372.5 1282.4,374.2 1285.5,376.9 1289.4,378.1 1293.1,379.7 1297.0,380.8 1300.1,383.6M1219.6,306.1 1224.0,305.1 1228.0,302.8 1232.5,302.0 1235.6,304.9 1238.4,307.6 1242.5,308.7 1246.7,309.8 1251.0,311.0 1255.0,312.6 1259.2,312.8 1263.5,312.9 1267.6,313.7 1264.9,317.2 1262.2,320.9 1258.4,320.1 1254.7,320.8 1251.0,321.4 1247.2,322.4 1243.6,324.4 1241.3,320.5 1238.1,317.2 1234.9,312.9 1231.0,309.5 1227.4,307.5 1223.6,306.5 1219.6,306.1M900.0,385.5 903.7,383.6 907.4,381.8 911.1,380.1 915.0,379.2 918.6,377.5 922.1,374.3 925.4,371.1 929.3,368.6 932.6,366.7 936.4,366.8 939.6,365.2 943.1,364.3 946.2,362.4 949.7,360.6 953.6,360.2 957.4,359.4 960.9,357.7 964.5,363.5 962.2,366.4 960.3,370.0 958.3,373.5 955.2,376.1 958.9,374.2 962.4,372.5 966.4,371.8 970.2,370.8 973.1,368.1 976.3,365.8 978.8,362.7 981.4,359.7 986.7,363.6 983.4,367.4 979.1,370.4 982.5,372.6 985.7,374.3 988.6,376.4 991.6,374.1 994.2,371.7 997.2,369.7 999.8,367.1 1004.6,367.4 1009.1,365.5 1009.4,369.0 1010.7,372.6 1013.8,375.8 1016.0,379.8 1019.8,382.1 1024.4,380.7 1028.8,380.4 1033.1,379.3 1037.2,380.6 1041.9,380.7 1045.9,382.9 1049.5,384.1 1053.4,384.6 1057.1,385.3 1061.4,385.6 1065.7,386.9 1070.0,387.2 1073.0,384.0 1077.5,383.0 1081.0,383.7 1084.8,384.1 1088.4,384.9 1092.1,385.6 1095.7,386.7 1099.6,386.6 1103.2,387.4M1155.0,379.1 1158.6,378.0 1162.4,378.2 1166.1,378.2 1169.8,377.3 1173.6,377.6 1177.2,376.5 1181.1,376.7 1185.0,375.0 1189.0,374.8 1192.9,374.8 1196.8,373.6 1200.8,373.6 1204.8,374.2 1208.8,374.7 1212.8,375.1 1216.7,376.3 1220.7,375.4 1224.6,377.4 1228.6,376.5 1232.6,376.7 1236.2,377.0 1239.6,377.9 1243.0,378.5 1246.4,379.4 1249.9,379.8 1253.3,380.8 1256.7,381.7 1260.2,382.1 1264.1,382.1 1267.7,383.1 1271.2,384.2 1274.8,385.4 1278.4,386.3 1281.9,387.6 1285.6,388.2 1288.9,390.4 1292.7,390.6 1296.2,391.8 1300.0,391.9M900.0,405.8 904.3,405.8 908.7,405.9 913.0,406.3 916.6,407.6 920.3,408.6 924.0,409.8 927.7,410.3 931.5,411.9 935.4,413.0 938.9,415.3 942.5,417.2 946.0,419.1 949.7,421.1 953.2,423.3 957.4,424.1 961.1,426.0 963.9,428.8 967.2,430.7 970.8,432.1 973.9,434.5 977.2,436.2 980.2,438.6 983.5,440.2 986.9,441.8 989.8,444.1 993.2,445.4 996.5,446.8 999.7,448.5 1003.2,450.6 1006.9,451.0 1010.7,451.1 1015.4,448.5 1018.4,444.8 1018.3,440.3 1018.8,435.9 1020.3,431.7 1023.1,429.7 1026.1,427.7 1029.3,426.2 1033.4,424.3 1036.9,421.5 1040.4,418.7 1044.7,418.9 1049.1,419.1 1053.4,419.5 1057.6,418.4 1061.9,418.6 1066.3,418.5 1070.0,417.5 1073.5,415.6 1076.9,413.4 1080.9,412.7 1083.5,410.0 1087.6,409.7 1091.0,408.1 1093.9,405.7 1097.5,404.3 1101.4,404.6 1105.2,404.5 1108.8,403.2 1111.7,405.1 1114.9,406.9 1118.0,408.6 1121.6,407.3 1125.3,406.4 1128.9,405.0 1132.6,404.2 1136.5,404.0 1139.9,402.0 1143.4,400.2 1147.1,399.0 1151.0,398.3 1155.1,398.2 1158.8,396.9 1162.3,395.8 1166.0,394.6 1169.5,393.1 1173.2,392.5 1177.0,392.5 1179.5,389.8 1182.7,387.4 1187.0,386.7 1191.3,386.2 1195.7,385.8 1199.3,386.4 1202.9,387.4 1206.8,387.3 1210.4,388.5 1214.1,389.4 1217.8,389.3 1221.6,390.0 1225.3,389.0 1228.9,388.2 1232.6,387.6 1236.3,387.3 1239.9,388.8 1243.7,388.2 1247.4,388.4 1251.1,388.6 1254.9,389.4 1258.5,390.3 1262.0,392.1 1266.0,391.6 1269.7,392.4 1273.4,393.1 1276.9,394.6 1273.8,399.0 1269.7,402.3 1273.1,403.6 1276.9,404.6 1280.7,405.7 1284.3,407.6 1287.6,410.4 1291.7,411.4 1294.7,413.5 1297.9,415.5 1300.3,418.4M1114.3,425.2 1110.6,426.2 1106.8,426.4 1103.4,428.6 1099.5,428.9 1095.6,429.3 1092.1,431.1 1088.6,432.9 1084.8,433.8 1081.1,434.5 1077.4,435.0 1073.9,436.6 1070.2,437.4 1066.4,436.9 1062.7,437.6 1058.9,438.3 1055.3,439.4 1051.4,439.7 1048.7,442.8 1045.9,445.5 1047.9,449.3 1050.4,452.7 1053.4,455.7 1055.5,459.0 1057.4,462.6 1060.7,465.0 1065.7,466.1 1070.0,468.5 1073.3,472.7 1077.1,476.3 1082.8,478.4 1079.0,476.1 1075.0,475.0 1070.9,474.5 1066.8,474.0 1062.6,474.2 1059.3,477.5 1056.9,481.5 1053.5,482.7 1050.3,484.3 1047.7,487.0 1044.1,486.1 1040.3,485.2 1036.4,484.8 1032.7,483.9 1029.2,482.0 1025.3,481.8 1021.8,480.3 1018.2,479.1 1014.4,478.5 1010.4,478.2 1006.9,476.6 1003.1,475.9 999.4,474.9 995.9,472.8 991.9,475.4 987.1,476.6 983.9,479.2 980.6,481.8 977.0,484.2 974.3,487.6 971.8,490.0 969.4,492.7 967.5,495.7 965.0,498.3M1173.4,413.2 1177.1,412.0 1180.8,412.8 1184.5,411.9 1188.2,411.7 1191.9,411.5 1195.6,411.3 1199.2,412.5 1202.9,412.9 1206.7,412.3 1210.5,411.9 1214.2,412.4 1217.9,412.4 1221.5,414.0 1225.3,416.8 1228.4,420.3 1232.4,422.7 1235.7,424.4 1238.8,426.6 1242.1,428.2 1245.4,430.1 1245.7,433.9 1247.7,436.9 1250.4,439.5 1252.1,443.5 1256.0,444.5 1259.2,446.3 1262.2,448.3 1266.4,449.9 1270.3,452.1 1273.3,455.6 1276.6,457.6 1278.8,460.4 1281.2,463.2 1282.8,466.6 1286.3,469.4 1289.8,472.4 1293.0,470.1 1296.3,468.0 1299.8,466.5M944.3,455.7 947.8,457.6 951.6,458.6 955.5,459.3 958.7,461.8 961.6,464.6 963.2,468.4 963.9,472.9 963.5,477.4 964.3,481.6 962.8,485.5 962.6,489.7 962.7,493.9 962.6,498.0M944.3,455.7 945.3,460.0 945.9,464.3 946.6,468.6 947.2,472.3 947.0,476.3 949.8,479.5 949.8,483.5 950.4,487.1 951.3,490.7 951.2,494.4 952.1,498.0M900.0,449.3 903.7,449.2 907.4,448.8 910.7,454.1 907.8,456.6 905.7,460.4 900.0,461.5M953.6,498.0 950.9,501.6 949.2,505.7 946.0,509.0 944.3,512.8 942.5,516.5 940.8,520.2 937.2,522.5 933.7,524.8 929.6,525.8 926.0,528.3 922.2,530.7 918.4,532.9 915.6,535.8 912.7,538.5 909.2,540.5 904.3,541.5 900.0,544.2M900.0,627.3 903.7,626.6 907.4,625.9 911.1,625.5 915.8,626.0 920.2,627.7 921.1,622.7 922.3,618.1 925.9,618.0 929.5,617.1 933.2,616.3 937.0,616.4 940.6,616.3 944.3,616.6 948.0,616.2 951.7,616.5 956.6,615.1 961.1,613.0 965.7,611.0 970.2,608.8 969.2,605.2 967.8,601.7 968.6,597.7 970.4,593.5 973.9,590.4 976.6,587.6 979.8,585.2 982.6,582.3 985.5,579.6 986.9,575.7 991.5,574.4 996.1,572.9 999.5,575.6 1003.3,577.8 1007.2,577.2 1011.1,577.8 1014.6,575.6 1018.2,575.0 1022.0,574.9 1025.7,573.9 1029.4,575.4 1032.9,577.6 1036.7,576.8 1040.4,577.0 1038.9,581.7 1038.4,586.2 1036.9,590.4 1036.8,594.2 1036.5,597.9 1034.9,601.5 1033.4,605.4 1031.2,608.8 1029.6,612.7 1027.9,616.2 1027.4,620.1 1025.6,623.6 1021.8,626.5 1020.2,631.1 1018.0,635.2 1014.5,638.4 1012.3,642.5 1009.4,646.1 1007.3,650.3 1003.8,653.5 1007.7,655.2 1011.0,658.5 1013.1,662.1 1013.1,666.2 1014.9,669.7 1015.1,674.3 1013.9,678.5 1012.7,682.8 1012.2,687.1 1012.8,691.4 1012.4,695.7 1009.7,699.9 1009.0,704.9 1008.7,709.5 1008.8,714.2 1009.3,719.0 1012.0,722.8 1017.4,722.0 1021.3,719.5 1025.7,718.1 1030.1,717.0 1034.3,715.4 1038.6,714.4 1043.6,713.4 1048.0,710.9 1052.0,713.4 1056.8,714.8 1061.1,717.4 1066.0,718.5 1070.9,717.8 1073.9,714.6 1078.2,713.1 1079.6,709.0 1084.6,712.6 1087.4,716.1 1090.5,719.6 1094.1,721.7 1097.8,723.9 1101.7,725.7 1104.2,721.9 1108.4,719.3 1110.5,715.5 1112.7,711.7 1115.6,708.2 1118.6,704.9 1120.5,700.9 1123.7,697.6 1125.8,693.7 1128.6,690.2 1131.2,686.7 1134.5,683.5 1138.4,680.9 1138.5,684.7 1139.4,688.3 1140.4,692.0 1139.8,695.7 1140.3,699.4 1140.4,703.1 1144.6,706.0 1147.5,710.5 1150.4,708.2 1154.0,706.9 1156.4,704.1 1158.8,701.4 1161.3,698.2 1164.6,696.0 1167.8,693.7 1172.8,692.6 1177.1,690.0 1179.4,686.1 1182.7,682.8 1184.6,679.1 1185.5,674.9 1187.8,671.5 1191.6,668.8 1195.5,666.8 1199.6,667.8 1203.4,669.1 1206.9,671.3 1210.1,669.5 1214.0,669.4 1214.1,674.2 1213.4,678.5 1212.9,682.8 1213.4,686.4 1214.0,690.2 1216.7,685.9 1217.9,680.9 1220.0,677.4 1221.4,673.5 1224.9,671.2 1228.7,671.2 1232.6,672.0 1235.1,668.6 1239.0,667.1 1241.8,664.3 1245.0,660.9 1247.3,656.9 1251.1,655.7 1254.8,654.6 1258.5,653.3 1263.1,651.5 1267.7,649.5 1270.5,645.9 1273.1,642.0 1277.5,640.5 1281.0,637.8 1284.3,634.7 1288.4,633.2 1292.2,631.2 1296.1,629.2 1300.1,627.5M1003.5,653.2 999.7,655.9 996.3,659.0 991.5,659.8 986.9,660.8 985.3,663.8 983.3,666.9 981.4,669.9 986.7,672.8 992.3,669.6 993.2,666.1 996.3,663.8 998.0,660.6 1000.6,656.8 1003.6,653.3M1300.0,695.7 1295.9,695.9 1291.8,695.5 1287.9,697.3 1284.4,699.1 1280.6,700.0 1277.0,701.4 1275.4,705.6 1272.7,709.1 1269.6,712.4 1267.3,715.6 1264.0,718.2 1261.1,721.0 1260.0,725.1 1257.6,728.6 1258.1,732.5 1257.7,736.2 1254.7,734.1 1251.0,734.0 1247.3,735.8 1243.4,737.8 1240.3,740.2 1237.9,743.5 1234.4,742.1 1230.7,741.8 1227.0,743.5 1223.9,742.0 1220.4,740.8 1217.8,738.2 1213.9,738.3 1210.4,740.1 1207.1,743.4 1202.9,745.5 1198.9,747.9 1195.4,750.8 1191.8,753.7 1188.1,756.5 1184.0,757.5 1180.4,759.4 1177.2,762.3 1172.8,761.0 1168.5,762.1 1164.2,761.9 1161.6,759.2 1159.7,755.7 1156.8,753.0 1157.1,749.1 1155.5,745.6 1154.9,741.9 1153.3,745.7 1151.0,749.1 1149.6,753.0 1149.0,757.3 1148.0,761.6 1147.7,765.9 1146.5,770.1 1145.7,774.4 1145.7,778.8 1143.2,782.6 1140.3,786.1M1062.6,786.0 1066.7,784.3 1070.0,781.2 1073.6,778.7 1076.2,782.0 1079.6,784.0 1083.0,785.9M1114.3,786.0 1116.5,782.2 1119.8,779.1 1121.7,775.2 1123.4,778.9 1125.5,782.3 1127.1,786.1M900.0,710.5 903.8,712.1 907.4,714.2 911.2,715.8 915.4,717.5 918.9,720.3 922.5,722.8 924.8,725.8 928.4,727.2 930.5,730.3 933.1,732.8 936.4,735.1 938.8,738.4 942.4,740.1M955.4,762.2 958.9,764.6 962.5,766.6 966.3,768.2 970.2,769.7 973.4,771.1 976.7,772.2 979.9,773.7 983.1,775.3 986.2,777.2 989.5,779.0 992.8,780.8 995.8,783.0 999.5,784.4 1003.0,786.2 1006.8,786.5 1010.8,786.4M900.0,551.6 905.6,547.9 906.1,551.7 907.0,555.4 901.9,559.1 900.0,557.2M1300.0,520.2 1297.2,523.9 1294.9,527.9 1291.7,531.3 1289.1,533.9 1287.4,537.1 1286.0,540.4 1288.0,544.8 1291.6,547.9 1295.7,545.7 1300.2,544.6M900.0,856.2 903.6,855.0 907.5,854.7 911.9,851.5 914.8,847.0 918.7,852.3 919.9,848.6 922.5,845.3 923.8,841.3 926.6,844.8 928.0,848.7 930.6,852.0 931.3,856.2 933.0,852.4 934.5,848.5 937.0,845.2 940.5,841.3 944.5,837.8 947.2,840.4 950.1,843.1 951.4,840.0 952.9,836.7 955.3,834.0 958.6,836.4 961.0,839.5 964.2,842.9 968.1,845.4 970.2,841.6 971.1,837.8 971.9,834.0 972.9,830.4 973.0,826.6 973.8,822.9 975.8,818.4 977.7,813.7 973.4,811.6 970.2,808.2 966.8,804.2 970.2,802.5 974.1,801.1 977.6,799.0 981.4,798.8 985.2,798.8 988.8,797.6 992.3,800.0 995.9,802.9 999.7,803.6 1003.5,804.4 1006.0,808.1 1009.0,811.5 1011.1,815.4 1014.8,818.0 1018.4,820.9 1021.9,820.0 1025.6,819.4 1029.3,819.1 1033.2,818.6 1036.9,819.6 1040.5,820.7 1043.9,823.3 1047.7,825.1 1050.0,828.1 1053.0,830.7 1055.5,833.8 1056.9,837.6 1058.5,841.1 1059.1,845.1 1059.3,848.8 1060.2,852.5 1060.2,856.2 1060.9,859.9 1061.6,863.6 1062.1,867.2 1062.3,871.0 1062.5,874.7 1065.8,877.0 1068.0,880.4 1068.4,884.6 1069.2,888.9 1069.8,893.2 1070.0,897.5 1070.4,901.8 1071.0,906.1 1072.1,910.8 1073.3,915.5 1074.2,919.3 1076.4,922.6 1077.7,926.3 1080.4,929.0 1083.3,931.6 1085.1,935.5 1083.0,939.3 1080.9,942.6 1077.6,945.1 1075.3,948.0 1073.8,951.4 1071.1,954.2 1069.8,957.8 1068.3,960.9 1066.2,963.8 1064.4,966.9 1064.3,970.7 1063.8,974.5 1063.0,978.3 1062.0,981.9 1060.5,985.5 1059.5,990.1 1058.5,994.7 1055.2,994.7 1053.3,998.5 1051.6,1002.2 1049.2,1005.6 1049.3,1009.7 1048.0,1013.3 1047.1,1017.0 1046.2,1020.7 1046.1,1024.5 1044.6,1028.0 1043.6,1031.7 1041.5,1034.3 1039.4,1037.3 1038.6,1041.0 1033.2,1044.9 1034.6,1049.1 1035.0,1053.9 1033.9,1057.5 1031.6,1060.3 1029.4,1063.2 1025.5,1064.6 1021.5,1066.0 1018.2,1068.5 1014.4,1068.2 1010.8,1067.0 1007.2,1070.5 1003.5,1074.0M1101.4,924.6 1103.8,921.9 1106.1,919.1 1108.6,916.5 1110.7,913.6 1113.7,911.6 1115.9,908.6 1119.3,907.0 1121.8,904.3 1123.0,900.8 1125.5,898.1 1127.4,895.1 1130.1,897.7 1133.0,900.4 1136.1,902.8 1138.2,906.2 1141.3,903.4 1143.7,900.3 1145.8,896.9 1149.2,894.9 1151.7,891.7 1155.1,889.7 1157.0,885.9 1158.6,882.1 1159.5,877.4 1160.4,872.8 1162.8,876.1 1166.2,878.3 1170.1,876.1 1173.7,873.2 1177.8,869.8 1181.0,865.6 1184.4,863.5 1186.5,860.0 1191.1,858.4 1194.0,854.7 1196.9,852.7 1199.9,850.7 1203.1,849.0 1206.2,847.1 1209.3,845.1 1211.8,842.5 1214.4,839.9 1216.7,837.0 1220.2,835.6 1222.6,832.9 1225.3,830.5 1227.7,827.3 1230.3,824.4 1232.9,821.4 1236.7,817.8 1240.2,814.0 1243.0,810.6 1244.2,806.6 1245.7,802.7 1247.0,799.4 1249.0,796.4 1250.9,793.3 1253.5,790.0 1255.1,786.2M1300.0,835.9 1297.6,838.7 1294.6,840.5 1291.2,841.8 1288.0,843.3 1284.1,845.5 1280.6,848.1 1277.1,850.9 1274.6,853.5 1271.7,855.7 1268.8,857.9 1265.8,859.9 1263.0,862.2 1260.6,864.9 1258.1,867.5 1254.6,869.0 1251.9,871.3 1249.5,874.1 1246.5,876.1 1243.8,878.6 1240.0,880.9 1236.0,882.9 1232.4,885.5 1228.7,886.5 1225.3,888.7 1221.5,889.4 1217.4,889.5 1213.9,891.4 1210.4,893.1 1206.8,894.2 1203.1,894.7 1199.4,895.4 1195.7,896.4 1192.0,897.0 1188.2,896.9M1145.7,943.0 1140.8,944.2 1136.4,946.5 1132.8,945.6 1129.0,945.4 1125.6,942.6 1121.6,941.4 1119.6,944.6 1116.5,947.1 1115.8,950.7 1113.0,953.2 1110.9,956.1 1110.1,959.9 1108.8,963.6 1107.0,967.1 1105.5,970.7 1103.8,974.2 1103.2,978.2 1101.4,981.6 1099.9,985.2 1099.1,989.1 1095.7,990.8 1091.9,992.5 1092.3,988.8 1089.9,985.5 1088.4,981.9 1088.9,977.9 1090.6,974.3 1092.0,970.7 1089.3,974.4 1086.5,978.1 1085.7,981.9 1085.0,985.8 1082.8,989.2 1081.5,994.0 1079.1,998.4 1076.5,1001.3 1073.8,1004.1 1071.8,1007.7 1068.3,1009.8 1064.3,1004.1 1064.1,1000.3 1062.5,996.7 1062.4,993.0 1063.9,989.2 1064.0,985.2 1066.3,981.8 1067.7,978.2 1067.5,974.0 1069.4,970.6 1070.4,966.4 1072.3,962.7 1075.0,959.4 1077.9,955.9 1080.2,952.1 1083.1,948.7 1086.2,946.2 1088.0,942.6 1090.5,939.5 1093.5,936.0 1095.8,931.9 1098.8,928.4 1101.7,924.8M900.0,904.2 902.4,907.7 904.5,911.2 905.8,915.2 906.3,911.1 909.3,908.0 911.0,904.2 914.1,907.8 916.8,911.5 920.3,909.8 924.0,907.9 927.1,910.4 929.3,913.9 933.0,915.7 936.1,911.9 938.4,908.1 940.5,904.2 943.7,907.6 946.7,910.9 948.3,915.2 949.7,919.1 951.9,922.6 953.5,926.5 954.5,930.6 957.3,933.8 958.8,937.7 960.3,941.5 961.3,945.2 962.8,948.8 964.8,952.2 966.4,956.0 968.6,959.6 970.2,963.4 971.4,967.1 973.7,970.4 974.2,974.3 977.0,977.5 978.1,981.6 979.3,985.6 980.4,989.7 983.1,992.9 979.7,994.1 977.1,996.8 974.0,998.6 972.2,1001.7 971.2,1005.2 968.8,1008.0 972.4,1007.9 975.0,1010.6 977.8,1013.0 974.2,1016.4 970.4,1019.1 966.8,1021.1 962.9,1022.6 957.3,1024.3 959.6,1027.5 961.5,1031.1 964.6,1033.6 966.0,1037.5 967.8,1041.2 970.5,1044.5 969.5,1048.3 968.5,1052.0 969.0,1055.8 968.3,1059.4 969.2,1063.0 970.0,1066.6 970.1,1070.3 970.3,1074.0M938.8,1052.1 940.8,1055.6 941.8,1059.8 944.3,1063.1 945.1,1066.7 944.7,1070.6 945.9,1074.1M937.0,1053.9 937.6,1058.2 939.3,1062.4 939.0,1066.8 940.0,1070.3 940.4,1074.0M1027.5,786.0 1030.7,788.3 1033.0,791.7 1036.6,793.5 1040.6,793.9 1044.2,792.5 1047.8,791.5 1051.3,789.8 1055.1,789.5 1055.6,793.4 1055.6,797.2 1056.8,800.8 1059.7,797.5 1061.6,793.8 1063.3,790.0 1066.6,786.3M1095.8,786.0 1097.1,789.7 1097.6,793.6 1099.5,797.1 1100.0,800.9 1100.3,804.8 1100.9,808.5 1103.1,811.9 1104.2,815.5 1105.5,819.1 1105.8,822.8 1105.4,819.1 1107.3,815.6 1107.5,811.8 1108.3,808.0 1108.4,804.4 1109.9,800.8 1111.7,797.3 1110.6,793.4 1111.3,789.6 1112.3,786.0M1127.3,786.0 1131.1,791.5 1134.6,790.7 1137.8,789.0 1140.2,786.1M1243.6,974.5 1246.3,977.3 1249.1,980.1 1247.8,983.3 1245.8,986.3 1243.3,989.0 1242.1,992.5 1239.1,994.9 1237.9,998.3 1234.4,1000.3 1232.5,1003.9 1231.6,999.4 1230.5,994.8 1231.8,990.7 1234.2,987.3 1235.9,983.5 1239.0,980.8 1241.8,978.1 1243.7,974.5M1262.1,976.3 1265.3,972.1 1269.5,968.9 1273.4,967.3 1277.2,965.8 1280.9,963.9 1283.9,967.4 1287.8,970.9 1287.6,974.7 1285.4,978.1 1284.1,981.8 1284.0,986.0 1284.9,989.9 1287.8,993.0 1285.5,996.6 1282.9,1000.2 1280.7,1004.1 1277.7,1006.8 1275.2,1009.8 1273.2,1013.3 1269.1,1012.2 1265.7,1009.8 1265.1,1005.7 1263.5,1002.1 1262.2,998.5 1262.6,994.6 1261.3,991.0 1260.2,987.4 1260.3,983.6 1262.1,980.1 1262.5,976.4M1238.1,1024.3 1241.4,1020.3 1245.4,1016.8 1249.4,1014.4 1252.8,1011.3 1252.1,1016.0 1250.7,1020.6 1248.1,1024.0 1245.1,1027.4 1243.7,1031.7 1241.0,1034.6 1238.2,1037.5 1236.3,1041.0 1234.7,1044.8 1232.6,1048.4 1232.3,1044.6 1233.3,1040.9 1234.3,1037.3 1234.7,1033.6 1237.1,1029.3 1238.1,1024.3M1221.5,985.5 1219.6,988.8 1217.8,992.0 1216.4,995.5 1214.7,998.8 1212.0,1002.3 1209.6,1005.9 1207.3,1009.7 1204.9,1013.3 1202.2,1016.2 1200.8,1020.1 1198.5,1023.4 1195.6,1026.2 1194.0,1029.6 1191.9,1032.7 1190.0,1035.8 1187.9,1038.9 1186.2,1042.3 1184.9,1045.8 1183.1,1049.1 1181.0,1052.1 1178.0,1055.5 1174.8,1058.7 1172.9,1062.7 1170.1,1066.2 1167.4,1069.7 1165.8,1073.9M1225.2,996.6 1223.8,1000.1 1221.4,1003.0 1219.5,1006.3 1217.7,1009.5 1215.2,1012.9 1214.2,1017.0 1212.1,1020.6 1210.4,1024.3 1208.1,1027.3 1206.4,1030.6 1205.1,1034.2 1203.3,1037.4 1201.7,1040.8 1199.3,1043.7 1197.4,1046.9 1195.5,1050.2 1194.2,1053.7 1192.4,1056.9 1189.8,1059.8 1188.3,1063.2 1187.2,1066.8 1185.7,1070.4 1184.5,1074.0M900.0,1272.6 903.8,1273.5 907.5,1274.7 910.9,1277.0 915.0,1277.1 918.4,1279.3 921.8,1281.3 925.5,1282.4 929.4,1283.1 933.1,1284.1 937.0,1284.4 940.5,1286.3 944.2,1286.7 947.9,1287.4 951.5,1288.7 955.3,1288.8 958.8,1291.0 962.6,1291.1 966.4,1290.8 970.3,1290.1 973.9,1290.8 977.7,1290.4 981.3,1291.8 985.0,1291.8 988.8,1291.5 992.4,1292.5 996.1,1292.5 999.7,1293.8 1003.4,1294.0 1007.2,1293.8 1010.9,1293.7 1014.6,1294.5 1018.3,1293.7 1022.0,1294.1 1025.7,1294.2 1029.3,1293.2 1033.0,1292.9 1036.7,1292.6 1040.4,1292.5 1044.1,1291.4 1047.8,1292.1 1051.6,1292.2 1055.3,1291.9 1058.8,1290.4 1062.5,1290.0 1066.2,1289.7 1070.0,1289.8 1073.6,1288.8 1077.5,1289.5 1081.3,1289.7 1084.8,1287.9 1088.8,1287.7 1092.1,1285.3 1095.9,1284.8 1099.4,1283.2 1103.2,1282.5 1106.8,1281.4 1110.7,1280.9 1114.3,1279.3 1117.9,1278.1 1121.8,1277.4 1125.7,1276.6 1129.5,1275.3 1133.0,1273.4 1136.8,1272.2 1140.3,1270.1 1144.2,1269.2 1147.8,1267.5 1151.4,1265.8 1154.8,1263.4 1158.6,1262.4 1162.2,1260.5 1166.0,1259.4 1169.9,1258.4 1173.1,1255.8 1177.1,1255.1 1181.2,1254.4 1185.0,1253.2 1188.6,1251.5 1192.2,1249.9 1195.7,1247.8 1199.5,1246.7 1203.2,1245.2 1207.1,1244.3 1210.9,1243.1 1214.1,1240.4 1217.9,1239.2 1221.9,1238.4 1225.6,1237.0 1229.1,1234.9 1232.7,1233.2 1237.2,1231.2 1241.6,1228.8 1244.5,1226.2 1247.8,1224.0 1251.0,1221.7 1255.6,1220.8 1260.3,1220.1 1263.0,1217.6 1266.4,1216.2 1269.4,1214.2 1272.7,1211.5 1277.0,1210.9 1280.6,1208.9 1284.3,1209.5 1287.8,1211.0 1291.7,1210.7 1295.6,1208.4 1299.9,1206.9M1138.3,1281.9 1141.6,1280.2 1145.3,1279.6 1148.6,1278.0 1152.1,1277.0 1155.1,1274.8 1159.3,1274.3 1162.6,1271.6 1166.2,1269.9 1169.9,1268.1 1173.3,1265.9 1176.9,1264.2 1180.9,1263.6 1184.4,1261.6 1188.2,1260.5 1193.6,1256.7 1190.7,1259.1 1187.2,1260.4 1184.3,1262.8 1181.1,1264.7 1177.6,1267.2 1174.1,1269.7 1169.8,1270.7 1166.1,1272.7 1162.6,1275.0 1159.2,1277.3 1155.1,1278.5 1151.0,1280.0 1146.7,1280.2 1142.6,1281.3 1138.4,1281.9M1278.8,1290.2 1283.6,1288.9 1288.1,1286.7 1292.2,1285.8 1296.3,1285.1 1300.0,1282.9M900.0,1186.7 903.6,1188.8 907.1,1190.9 910.9,1192.6 914.3,1195.1 917.7,1197.5 921.9,1198.3 925.4,1200.5 928.9,1202.9 932.9,1204.0 936.4,1206.2 940.2,1207.9 944.4,1208.8 947.9,1210.4 951.9,1210.8 955.4,1212.7 958.9,1214.5 962.8,1215.0 966.5,1216.4 970.1,1218.8 974.0,1221.1 977.8,1223.4 980.8,1225.9 983.7,1228.7 986.7,1231.3 989.7,1233.2 992.7,1235.2 996.0,1236.8 999.6,1238.2 1003.4,1239.1 1007.1,1240.5 1011.0,1240.6 1014.5,1242.3 1018.4,1242.6 1022.0,1243.1 1025.7,1244.2 1029.3,1245.0 1033.1,1245.3 1036.7,1246.3 1040.4,1246.6 1044.2,1246.8 1047.9,1247.7 1051.5,1248.6 1055.1,1249.6 1058.8,1250.4 1062.5,1251.1 1065.8,1253.0 1069.9,1253.6 1066.0,1256.6 1062.6,1256.3 1058.9,1257.4 1055.2,1257.3 1051.5,1257.9 1047.8,1257.2 1044.2,1258.4 1040.4,1257.9 1036.7,1258.2 1033.0,1258.2 1029.3,1258.7 1025.7,1257.5 1022.1,1256.7 1018.2,1256.9 1014.5,1256.8 1010.8,1257.2 1007.2,1255.9 1003.5,1256.0 999.8,1255.3 996.0,1256.1 992.4,1255.4 988.1,1253.7 983.7,1252.9 979.4,1251.5 975.2,1250.7 972.0,1247.8 968.4,1245.7 965.0,1244.2 961.9,1242.2 958.7,1240.3 955.4,1238.5 952.0,1237.0 948.4,1235.8 945.6,1233.1 942.6,1230.9 939.6,1228.6 936.5,1226.6 933.4,1224.4 929.5,1223.7 926.9,1220.8 922.8,1220.4 919.6,1218.5 916.6,1216.3 913.6,1214.2 909.8,1213.7 907.4,1210.7 903.5,1209.3 899.9,1207.2M1092.1,1221.8 1089.7,1224.9 1087.3,1228.1 1085.0,1231.2 1086.6,1234.7 1090.4,1235.3 1094.1,1236.2 1097.9,1240.0 1094.5,1246.2 1090.9,1249.4 1086.7,1251.5 1082.2,1253.5 1077.5,1254.5 1081.6,1254.1 1085.8,1254.9 1089.8,1256.3 1094.1,1256.5 1098.1,1256.4 1102.2,1255.3 1106.4,1255.1 1110.6,1255.9 1114.0,1253.9 1117.6,1252.3 1121.3,1251.2 1125.3,1251.0 1128.1,1248.5 1131.4,1246.9 1134.7,1245.2 1138.0,1243.3 1141.8,1240.0 1145.8,1236.6 1149.3,1234.5 1153.0,1232.7 1156.8,1231.0 1160.5,1228.6 1164.8,1227.1 1168.0,1223.8 1171.3,1220.7 1175.6,1219.2 1179.0,1216.3 1182.5,1214.4 1185.5,1211.8 1188.7,1209.4 1192.7,1208.1 1195.3,1205.1 1198.0,1202.1 1202.7,1199.3 1205.4,1194.6 1209.6,1193.8 1211.5,1189.7 1214.1,1186.7 1218.1,1184.4 1221.7,1181.5 1226.1,1179.6 1229.1,1175.9 1232.7,1174.1 1235.4,1171.1 1238.4,1168.6 1242.8,1165.5 1245.8,1161.2 1247.9,1157.4 1249.4,1153.5 1243.6,1153.6 1241.1,1157.3 1238.1,1160.8 1235.4,1163.3 1232.3,1165.2 1229.0,1166.6 1226.2,1170.4 1222.0,1172.1 1218.1,1174.2M1136.5,1192.2 1139.6,1188.0 1143.6,1184.6 1147.5,1183.3 1151.3,1182.5 1155.0,1181.2 1158.5,1179.3 1161.9,1177.4 1166.0,1177.2 1169.6,1175.4 1173.7,1174.2 1177.3,1172.2 1180.8,1170.0 1184.6,1168.4 1188.4,1166.7 1191.6,1163.5 1195.4,1161.1 1199.2,1158.9 1203.1,1156.6 1207.2,1154.9 1210.7,1152.1 1214.3,1151.0 1217.8,1149.3 1221.4,1147.8M1003.5,1074.0 1004.3,1077.7 1005.1,1081.3 1005.6,1085.0 1006.7,1088.4 1009.1,1091.2 1010.8,1094.3 1012.6,1098.0 1015.6,1100.6 1018.2,1103.6 1021.7,1107.5 1025.6,1111.0 1028.9,1113.7 1033.0,1114.8 1036.8,1115.3 1040.3,1116.9M1103.2,1127.6 1106.9,1127.2 1110.6,1126.9 1114.3,1126.7 1118.0,1127.4 1121.9,1127.5 1125.6,1126.4 1129.1,1125.0 1132.7,1123.6 1136.3,1121.9 1139.9,1120.3 1143.4,1118.5 1147.4,1117.8 1150.6,1114.9 1155.0,1113.5 1158.6,1110.8 1161.9,1107.6 1165.8,1105.1 1168.7,1102.5 1171.6,1099.7 1173.5,1096.2 1176.1,1093.2 1178.3,1090.0 1181.1,1087.1 1185.7,1084.4 1188.5,1079.8 1192.3,1074.3M975.8,1074.0 977.6,1077.0 977.9,1080.7 979.1,1084.1 980.9,1087.1 983.1,1091.1 986.1,1094.4 988.9,1097.9 990.9,1101.3 994.4,1103.5 996.3,1107.1 999.7,1109.8 1002.5,1113.2 1005.2,1116.6 1008.3,1119.1 1011.9,1120.9 1014.7,1123.6 1018.3,1128.5 1012.7,1129.6 1008.1,1130.0 1003.5,1130.5 999.7,1130.1 996.1,1129.4 992.0,1130.5 988.5,1132.8 984.7,1133.0 981.3,1135.0M900.0,1129.4 902.4,1126.7 905.8,1125.1 908.7,1122.9 911.0,1120.1 914.4,1118.0 917.7,1115.8 921.1,1113.6 924.3,1111.3 927.4,1108.9 930.5,1106.4 933.5,1103.8 936.7,1105.4 940.4,1106.8 944.4,1107.2 948.0,1108.1 951.4,1109.4 953.7,1112.7 956.7,1116.2 959.4,1120.0 960.6,1124.9 962.7,1129.5M1282.4,1229.2 1285.7,1225.0 1290.0,1222.0 1293.4,1220.3 1297.2,1219.1 1300.2,1216.7M1284.3,1231.0 1288.1,1232.5 1292.2,1231.7 1296.1,1232.5 1300.0,1232.6M1300.0,386.4 1303.7,386.4 1307.3,385.3 1311.1,385.7 1315.2,387.5 1319.7,388.6 1324.0,390.1 1327.5,391.2 1330.9,392.5 1333.9,394.7 1337.1,396.3 1340.4,398.1 1344.0,399.2 1346.8,401.8 1350.1,403.6 1352.6,401.1 1355.1,398.1 1359.3,399.9 1363.5,400.7 1366.6,403.8 1370.6,405.8 1374.0,408.7 1377.9,411.0 1381.7,412.5 1384.9,415.2 1388.7,416.9 1392.0,419.6 1395.6,421.5 1399.4,423.1 1401.7,426.3 1404.8,428.8 1408.7,430.3 1411.6,432.9 1414.3,435.8 1418.0,437.6 1419.7,442.3 1422.8,446.5 1424.6,449.9 1426.9,452.9 1429.1,455.9 1431.6,459.6 1435.6,461.8 1438.4,465.1 1441.4,468.2 1444.4,471.4 1447.6,474.4 1450.3,476.9 1452.6,479.8 1455.5,481.8 1458.6,483.8 1461.2,486.8 1464.6,488.9 1468.0,491.0 1469.4,495.1 1472.5,498.2M1300.0,396.6 1303.8,397.3 1307.4,398.6 1310.9,400.5 1314.8,400.9 1318.4,402.4 1322.2,403.8 1326.3,405.0 1329.9,407.1 1333.6,408.8 1337.1,411.1 1340.5,413.5 1344.2,415.4 1348.0,417.0 1351.8,418.7 1355.4,420.7 1358.5,422.7 1361.3,425.4 1364.8,426.8 1368.4,428.0 1372.6,429.5 1377.1,430.2 1381.3,431.7 1385.5,433.2 1389.2,435.5 1393.0,437.7 1396.1,440.9 1399.0,443.2 1401.8,445.7 1404.9,447.7 1408.0,449.6 1410.8,452.1 1413.9,454.1 1416.7,456.6 1419.7,458.7 1422.3,461.4 1425.5,463.3 1428.8,465.4 1431.7,468.1 1434.8,470.5 1437.6,473.3 1440.4,476.1 1443.4,479.1 1446.9,481.5 1451.0,483.3 1453.4,487.0 1456.7,489.3 1459.7,491.7 1462.5,494.5 1464.9,497.6M1300.0,419.7 1302.7,422.2 1305.7,424.2 1309.2,425.2 1313.7,427.8 1318.3,430.2 1324.0,427.1 1322.2,422.4 1316.7,420.4 1311.8,419.4 1307.4,416.8M1361.0,440.9 1357.6,444.9 1353.5,448.3 1356.9,449.8 1359.8,451.9 1362.6,454.2 1366.8,455.2 1370.2,457.6 1373.7,461.5 1377.5,465.0 1381.1,468.8 1377.5,470.3 1373.9,472.3 1377.9,474.7 1381.4,477.7 1384.2,480.5 1386.8,483.5 1388.3,488.0 1389.0,492.6 1384.9,491.0 1381.4,488.8 1377.4,487.4 1373.8,485.5 1370.1,483.6 1366.8,485.9 1362.9,487.4 1366.3,490.0 1370.3,492.0 1374.1,494.2 1377.9,495.7 1381.4,497.8M1300.0,466.8 1302.7,464.4 1305.4,461.9 1307.3,458.8 1309.1,455.7 1312.5,459.9 1316.1,463.6 1318.3,467.8 1320.0,472.5 1325.9,468.7 1323.6,473.1 1322.2,477.9 1321.3,482.9 1318.4,487.1 1317.1,490.6 1316.0,494.2 1316.4,498.0M1468.1,498.0 1471.2,500.5 1474.5,502.7 1477.4,505.3 1479.3,508.9 1481.5,512.2 1484.3,515.1 1486.5,518.4 1489.2,520.8 1492.2,523.0 1494.2,526.0 1496.1,529.2 1499.3,531.2 1500.6,534.8 1503.1,537.5 1505.1,540.4 1507.9,543.3 1509.1,547.4 1511.7,550.4 1514.2,553.5 1516.2,556.6 1517.4,560.3 1519.6,563.3 1521.7,566.4 1524.4,569.8 1526.2,573.8 1528.9,577.3 1531.3,581.0 1533.0,584.2 1534.6,587.5 1535.6,591.0 1536.7,594.5 1538.2,597.8 1539.6,601.6 1541.7,605.0 1543.7,608.5 1545.4,612.1 1546.1,616.1 1548.1,619.6 1548.8,623.5 1550.1,627.2 1551.3,631.0 1552.1,634.7 1553.3,638.4 1555.3,641.8 1555.1,645.8 1556.1,649.4 1557.6,653.0 1557.5,656.8 1557.6,660.6 1558.8,664.3 1559.6,668.0 1559.4,671.7 1558.8,675.4 1559.4,679.1 1559.1,682.8 1560.0,686.4 1559.5,690.1 1559.9,693.8 1559.4,697.6 1560.3,701.3 1559.7,704.9 1560.2,708.6 1560.7,712.3 1560.3,716.0 1557.1,720.0 1554.1,716.4 1552.6,712.6 1551.6,716.2 1554.5,720.2 1556.2,725.1 1555.9,729.6 1555.7,733.9 1554.8,738.2 1554.7,741.9 1554.5,745.6 1552.9,749.2 1552.5,752.9 1550.8,756.4 1549.3,760.3 1547.4,763.9 1545.2,766.8 1543.7,770.1 1542.0,773.3 1539.4,777.1 1537.9,781.3 1537.6,785.8M1438.6,498.0 1441.9,500.8 1445.5,503.4 1448.1,506.9 1450.5,509.7 1452.1,513.0 1454.2,516.0 1457.1,518.3 1460.2,521.3 1463.1,524.5 1466.2,527.6 1470.5,530.7 1473.6,535.1 1476.4,537.7 1479.1,540.6 1482.1,543.1 1484.6,546.2 1486.3,549.8 1489.6,552.3 1492.0,555.4 1494.6,559.0 1496.8,562.8 1499.1,566.7 1501.1,570.2 1503.9,573.0 1506.4,576.0 1508.2,580.1 1511.0,583.6 1514.0,586.9 1514.3,590.6 1514.0,594.6 1516.5,597.9 1517.3,601.6 1517.8,605.4 1518.8,609.1 1520.8,612.6 1521.2,616.4 1521.4,620.2 1521.4,624.2 1523.2,627.7 1524.9,631.1 1524.8,634.7 1524.5,638.4 1521.9,641.9 1518.0,643.9 1516.5,639.7 1516.1,635.2 1514.3,631.0 1510.6,627.4 1511.5,631.0 1511.2,634.8 1511.6,638.5 1512.2,642.1 1516.1,645.9 1512.2,648.2 1508.8,651.4 1508.3,647.4 1506.7,643.8 1504.9,640.3 1503.5,645.9 1506.2,648.2 1507.0,651.9 1508.5,655.2 1509.9,659.9 1512.0,664.5 1512.4,669.1 1514.2,673.5 1512.3,676.5 1510.3,679.5 1508.7,682.7 1505.1,680.9 1507.2,686.4 1509.4,689.8 1510.8,693.7 1511.0,697.7 1510.6,701.4 1508.5,704.9 1507.5,708.6 1506.0,712.2 1504.9,715.9 1500.4,717.5 1497.5,721.3 1496.3,726.1 1496.0,730.8 1497.9,734.2 1500.9,736.8 1504.7,740.4 1502.3,742.8 1499.5,745.5 1499.4,750.4 1497.8,754.8 1492.1,758.5 1491.5,762.4 1489.5,765.8 1488.3,769.5 1487.9,765.4 1487.0,761.2 1485.4,757.2 1484.5,753.0 1481.0,756.6 1477.4,762.2 1476.5,757.8 1474.7,753.6 1473.6,749.3 1473.2,744.9 1472.7,740.6 1472.2,736.3 1472.1,732.6 1472.5,728.8 1470.9,725.2 1470.7,721.5 1470.0,717.9 1468.2,722.5 1466.5,727.2 1465.5,731.0 1463.7,734.5 1462.8,738.2 1461.8,743.2 1459.0,747.5 1462.4,749.1 1466.2,749.4 1463.6,753.1 1460.7,756.6 1457.9,758.9 1454.7,760.6 1451.3,761.9 1446.1,766.1 1444.1,761.3 1442.7,756.5 1443.4,753.0 1442.8,749.3 1442.6,745.6 1443.4,742.0 1442.9,738.2 1443.9,734.5 1444.3,730.8 1445.5,726.6 1445.7,722.2 1446.4,717.9 1442.7,714.5 1438.4,712.5 1434.0,713.6 1429.3,714.0 1425.0,714.8 1421.9,717.7 1418.4,720.5 1414.4,722.5 1410.7,725.0 1409.6,728.9 1409.1,732.6 1410.4,736.3 1413.9,739.9 1418.0,742.2 1414.0,742.6 1410.8,745.4 1405.3,747.5M1344.3,786.0 1344.1,782.4 1343.9,778.7 1343.6,775.0 1344.8,771.4 1345.8,767.8 1345.0,764.0 1346.3,760.4 1348.6,756.4 1351.6,752.9 1355.1,750.8 1357.4,747.5 1359.0,751.2 1361.2,754.7 1362.9,757.8 1365.0,760.8 1366.6,764.0 1370.7,769.2M1361.0,498.0 1362.6,501.5 1362.8,505.3 1362.8,509.1 1364.3,512.7 1366.0,516.1 1366.0,520.1 1362.9,523.6 1359.4,526.0 1362.4,528.0 1363.5,531.5 1364.9,534.8 1368.7,536.2 1371.8,538.7 1374.1,542.1 1377.2,544.6 1380.2,547.1 1383.0,549.9 1386.5,551.9 1389.6,554.3 1392.4,557.1 1394.7,559.9 1397.5,562.2 1400.6,564.1 1403.6,566.2 1406.2,568.7 1408.9,571.1 1411.4,573.7 1414.5,575.6 1417.6,578.2 1420.0,581.3 1422.4,584.5 1427.0,587.2 1429.4,592.2 1432.3,595.7 1435.3,599.3 1435.8,604.2 1436.8,608.8 1438.2,612.8 1440.5,616.2 1436.3,614.0 1433.1,610.6 1429.2,609.1 1425.6,607.0 1422.1,604.8 1417.8,604.1 1414.3,602.0 1411.9,598.6 1408.7,596.1 1406.9,592.4 1402.8,589.2 1399.7,584.9 1396.2,582.8 1392.2,581.6 1388.9,578.8 1384.9,577.5 1381.2,575.8 1376.7,577.4 1372.1,576.1 1369.5,578.7 1365.9,580.6 1362.8,582.9 1361.0,588.6 1364.5,591.7 1366.6,595.9 1362.9,599.7 1359.1,599.0 1355.5,597.5 1358.2,601.0 1359.3,605.1 1363.0,607.3 1366.9,609.5 1370.3,612.5 1372.3,615.7 1375.7,617.2 1378.4,619.6 1381.4,621.6 1383.6,624.7 1386.6,626.7 1389.3,629.1 1392.0,631.4 1396.0,633.6 1399.6,636.3 1403.5,638.4 1405.8,641.2 1408.5,643.6 1411.6,645.5 1414.5,647.7 1418.3,650.4 1421.8,653.3 1423.3,656.5 1425.2,659.6 1427.1,662.6 1428.4,666.1 1430.6,668.9 1432.5,672.0 1430.4,675.0 1429.0,678.9 1425.2,681.3 1421.7,684.2 1418.7,682.0 1414.7,681.7 1411.0,680.5 1406.9,680.1 1403.2,680.6 1399.7,682.4 1396.0,682.7 1392.2,682.9 1388.6,684.2 1385.0,684.1 1381.3,683.4 1377.6,684.4 1373.9,683.5 1370.2,684.9 1366.6,687.5 1362.8,690.2 1359.5,694.2 1355.3,697.4 1352.8,700.1 1349.5,701.6 1346.2,703.1 1341.5,704.7 1337.0,706.9 1333.3,707.8 1329.6,708.7 1326.4,712.1 1322.4,714.5 1319.0,717.6 1315.1,720.1 1312.2,722.6 1309.2,725.2 1307.1,729.4 1304.0,732.9 1304.0,728.1 1305.8,723.9 1307.1,719.6 1305.6,715.6 1304.5,711.2 1303.3,706.9 1300.6,703.7 1299.6,699.6M1300.0,516.5 1304.0,515.1 1307.4,512.7 1311.7,509.7 1314.9,505.6 1316.1,501.4 1318.1,497.8M1300.0,568.2 1303.9,570.8 1307.5,573.5 1309.6,577.0 1311.7,580.4 1314.4,583.3 1316.7,586.0 1318.0,589.4 1319.9,592.5 1321.5,596.0 1323.0,599.5 1323.9,603.3 1321.1,605.4 1318.4,607.9 1315.0,609.2 1317.6,613.1 1318.7,618.0 1323.0,620.9 1326.1,625.3 1329.9,626.7 1333.3,629.1 1337.2,634.6 1337.1,638.7 1335.7,642.2 1330.4,642.3 1327.3,639.2 1324.1,637.4 1320.6,636.3 1318.3,633.2 1315.1,635.4 1311.0,636.4 1307.7,634.4 1303.9,634.0 1300.4,630.6M1540.2,786.0 1540.2,789.8 1539.3,793.5 1538.4,797.1 1538.0,800.8 1536.9,804.4 1536.7,808.1 1536.0,811.8 1535.3,815.5 1535.4,819.2 1535.6,823.0 1534.9,826.7 1534.4,830.4 1534.0,834.1 1532.9,837.7 1532.9,841.4 1532.3,845.2 1531.0,848.8 1530.4,852.6 1529.0,856.2 1527.0,859.1 1525.3,862.2 1524.2,865.6 1523.1,869.0 1519.8,871.9 1518.6,875.9 1517.8,880.1 1514.6,882.5 1512.5,885.9 1510.4,889.3 1505.0,893.1 1503.0,896.6 1501.9,900.3 1501.1,904.2 1499.9,907.8 1498.9,911.4 1497.2,914.9 1498.0,918.9 1497.3,922.7 1496.5,926.3 1497.5,930.1 1497.5,933.8 1496.4,937.4 1497.2,941.2 1496.6,944.9 1496.3,948.6 1496.1,952.3 1495.9,956.0 1495.2,959.6 1495.7,963.4 1495.3,967.1 1494.7,970.7 1494.3,974.4 1493.6,978.1 1492.8,981.7 1492.4,985.5 1492.0,989.2 1491.9,992.9 1491.9,996.6 1491.8,1000.4 1491.1,1004.1 1490.4,1007.7 1488.4,1011.4 1486.1,1014.8 1484.5,1018.7 1483.1,1022.4 1481.5,1025.9 1481.0,1029.9 1479.4,1033.7 1477.6,1037.4 1475.9,1041.2 1474.2,1045.4 1472.0,1049.3 1468.7,1052.4 1467.0,1056.2 1463.6,1058.5 1460.9,1061.4 1457.2,1065.1 1453.0,1068.4 1449.9,1070.7 1447.9,1074.1M1348.0,786.0 1346.2,789.1 1344.9,792.5 1342.9,795.5 1339.2,799.3 1334.9,802.5 1332.0,805.7 1328.8,808.6 1325.9,811.9 1323.3,815.5 1320.1,818.4 1316.8,821.2 1313.5,824.2 1310.5,827.3 1307.4,830.3 1303.3,832.6 1299.8,835.7M1590.1,786.0 1590.7,789.7 1591.2,793.4 1592.1,797.0 1592.4,800.7 1592.0,804.5 1592.9,808.2 1592.7,811.9 1593.7,815.6 1592.4,819.4 1592.7,823.0 1594.7,826.6 1594.6,830.3 1594.2,834.1 1594.5,837.8 1594.3,841.5 1595.7,845.1 1596.2,848.8 1596.9,852.5 1597.5,856.1 1596.8,859.9 1597.0,855.5 1598.2,851.2 1599.4,847.0 1598.7,842.7 1600.2,838.7 1601.3,834.6 1601.7,830.4 1600.8,826.2 1600.2,822.1 1600.9,817.8 1600.5,813.7 1599.4,809.6 1598.1,805.5 1597.6,801.3 1597.5,797.1 1597.4,793.3 1597.2,789.5 1595.9,786.0M1518.0,1074.0 1520.6,1070.5 1522.7,1066.6 1525.3,1063.1 1527.1,1059.4 1529.7,1056.0 1531.0,1052.1M1447.8,1074.0 1445.2,1077.0 1443.3,1080.5 1440.5,1083.3 1439.3,1086.8 1437.2,1089.7 1435.4,1092.8 1435.2,1097.3 1433.6,1101.8 1430.1,1106.2 1425.5,1109.0 1423.7,1113.4 1420.5,1116.8 1419.9,1120.4 1418.8,1124.0 1416.4,1128.3 1412.8,1131.4 1409.9,1134.0 1407.3,1136.9 1402.3,1138.0 1397.8,1140.2 1392.9,1141.4 1388.6,1144.1 1385.1,1147.1 1381.6,1150.1 1378.4,1153.4 1375.7,1157.1 1373.3,1160.5 1372.2,1164.6 1368.5,1167.7 1366.3,1171.7 1363.7,1175.6 1361.0,1179.3 1358.5,1182.5 1355.2,1184.8 1351.9,1187.0 1349.3,1189.6 1345.7,1190.6 1342.5,1192.3 1339.8,1196.3 1335.3,1198.1 1332.0,1201.4 1327.7,1203.3 1324.5,1204.9 1321.8,1207.5 1318.7,1209.2 1314.2,1211.5 1309.2,1212.6 1304.5,1214.1 1300.0,1216.3M880.2,709.9 885.4,710.5 890.6,710.3 894.1,710.3 897.3,712.4 900.9,712.5 904.6,713.7 907.6,716.3 911.3,717.6 915.0,718.8 918.3,720.9 921.4,723.1 923.8,725.8 927.0,727.7 929.2,730.7 931.8,733.3 934.6,735.6 937.2,738.2 942.3,742.2M869.9,766.8 873.4,766.5 876.8,765.3 880.2,764.2 885.3,765.4 890.6,765.3 895.8,765.5 900.9,766.6 906.2,766.7 911.3,767.8 916.4,767.6 921.6,767.8 923.9,765.2 926.7,762.8 929.3,760.2 934.6,761.5 938.6,762.4 942.5,763.6 947.2,761.7 952.6,762.6 956.5,762.1 960.4,762.6 964.8,765.6 968.6,768.8 972.3,768.5 976.0,770.1 980.1,772.1 983.7,774.5 987.4,776.8 991.3,778.7 996.5,777.0 1001.8,777.2 1004.8,779.6 1008.4,780.5 1012.0,781.5 1017.2,782.7 1022.5,782.7 1024.7,785.3 1027.6,787.6 1030.4,789.9M880.2,717.6 884.6,718.7 888.6,720.9 893.1,721.8 896.9,722.1 900.3,723.4 903.6,725.2 906.8,726.8 910.2,728.2 913.7,729.3 916.6,731.5 920.7,732.6 924.3,734.6 927.0,737.9 930.5,739.0 933.7,740.8 937.2,742.1 942.3,742.4M828.5,696.9 833.8,697.3 838.8,695.9 844.0,695.2 849.2,694.4 853.7,695.2 858.2,696.0"/>
<path fill="none" stroke="#000" stroke-width="5.0" stroke-linejoin="round" stroke-linecap="round" d="M682.9,428.0 685.4,425.3 687.9,422.6 690.6,420.2 693.6,418.1 695.6,414.8 698.5,412.8 701.0,410.3 704.0,408.3 706.4,405.7 708.8,403.1M749.4,372.6 753.2,372.1 755.6,368.8 759.4,368.3 762.4,366.3 766.4,364.6 769.9,362.0 773.5,359.7M629.3,743.7 628.6,748.0 628.3,752.4 627.8,756.7M876.9,632.9 882.3,630.6M891.7,641.2 897.1,638.1M575.8,823.0 577.4,826.8 578.6,830.8 580.2,834.6 583.1,837.7M573.9,882.1 576.3,884.7 577.9,888.1 580.2,890.9 582.9,893.3M592.4,952.3 594.1,957.0 596.1,961.5M607.2,981.8 609.0,986.0 610.5,990.2 611.0,994.7M647.8,850.7 650.1,855.1 651.6,859.9 652.6,864.5 653.5,869.1 653.7,872.9 653.8,876.7 654.8,880.3M724.5,900.5 725.0,904.2 724.8,908.0 724.5,911.7 725.1,915.4M729.1,922.7 730.5,926.3 731.2,930.0 731.5,933.7M868.6,1268.0 873.3,1269.7M949.9,253.4 953.5,252.1 957.1,251.2 960.9,251.3 964.4,252.9 967.4,255.1 970.8,256.4 973.9,258.4 969.3,259.4 964.6,259.7M1101.4,244.2 1105.5,243.6 1109.7,243.1 1113.9,242.7 1118.0,242.5 1121.6,244.7 1125.2,247.0 1129.1,248.7 1125.6,251.4 1121.8,253.6M935.1,292.2 939.8,291.6 944.4,290.5M900.0,634.7 903.8,636.3M1243.6,1310.5 1247.7,1310.0 1250.9,1307.4 1254.6,1305.9 1258.4,1304.8 1262.0,1303.5 1265.8,1303.1 1269.5,1302.1 1273.3,1301.4M951.7,1212.6 955.5,1213.4 959.2,1214.1M1003.5,1239.4 1007.0,1241.1 1010.8,1241.4M1312.9,1220.0 1316.0,1216.4 1320.0,1214.0M1473.7,1147.9 1476.8,1146.2 1479.7,1144.0 1483.1,1142.7M1349.9,1264.3 1353.4,1262.8 1357.2,1262.2M1300.0,1283.7 1303.7,1282.8M1460.7,1109.1 1465.5,1107.5 1470.0,1105.5"/>
<path fill="none" stroke="#000" stroke-width="4.0" stroke-linejoin="round" stroke-linecap="round" d="M703.2,483.4 705.2,480.3 707.3,477.3 709.3,474.2 711.7,471.3 713.9,468.3 716.1,465.4 718.4,462.4 720.1,459.1 722.1,455.9 724.7,452.5 726.4,448.4M716.2,673.5 717.4,678.4 719.8,682.8M697.7,656.9 698.0,660.6 698.7,664.3 698.3,668.1 699.5,671.7 700.7,675.3M623.8,786.0 625.0,789.6 625.8,793.3M742.0,832.2 745.6,830.1 749.4,828.5 752.9,832.4 749.9,835.6 745.9,837.9 741.9,832.3M975.8,272.8 979.3,271.2 983.2,270.5 986.9,269.4 991.1,270.1 995.1,268.1 999.2,267.1 1003.4,267.3 1007.4,269.7 1003.6,272.0 1000.3,274.3 996.1,274.7 992.5,276.4 988.9,277.0 984.9,275.6 981.3,276.2 976.0,272.5M1116.2,274.7 1120.0,273.8 1123.6,272.2 1127.3,271.2 1131.6,271.9 1136.0,271.4 1140.2,270.3 1136.7,272.7 1132.8,274.7 1128.5,275.9 1124.3,276.5 1119.9,275.8 1116.2,274.6M1129.1,295.9 1133.2,295.5 1137.4,295.0 1141.6,295.5 1145.7,294.6 1148.4,292.3 1151.6,290.9 1155.0,289.8 1158.5,289.1 1162.5,288.7 1166.2,289.0 1170.0,288.8 1173.5,291.0 1169.2,294.4 1166.0,298.6 1161.8,300.1 1157.4,300.3 1153.2,301.7 1148.7,301.0 1144.2,300.8 1140.1,299.1 1136.3,298.5 1132.7,297.1 1129.0,296.3M942.5,306.1 946.2,304.3 950.5,303.6 953.6,300.6 956.9,297.9 961.0,296.9M900.0,322.7 903.6,321.4 907.2,320.2 911.0,320.5M924.0,320.9 928.2,319.3 932.8,318.9 936.9,317.1 940.6,316.4 944.4,317.1 948.2,317.2 951.7,315.2M953.6,379.1 958.0,377.9 961.9,375.2 966.4,374.0 970.5,373.5 974.1,374.6 977.7,375.8 980.3,379.8 982.1,383.9 985.1,387.3 988.4,384.5 991.8,381.5 995.8,379.6 998.1,375.7 1001.2,372.2M966.5,383.7 970.9,383.9 975.0,381.4 979.5,381.9M903.7,570.1 907.2,567.9 911.0,566.1 914.6,564.2 918.6,563.0M1236.3,668.0 1240.4,664.7 1243.7,660.6 1247.6,660.7 1251.1,659.0 1247.4,664.3 1243.3,666.6 1239.9,669.8M1262.1,655.0 1265.5,652.5 1269.4,651.0M1160.5,1031.7 1164.0,1029.7 1165.9,1026.0 1169.8,1029.8 1167.2,1032.9 1164.2,1035.4M1155.0,1279.1 1158.7,1277.7 1162.4,1276.4 1166.5,1276.1 1169.7,1273.5 1173.3,1271.6 1177.2,1270.4 1180.9,1268.9 1184.5,1267.0M1058.9,1336.4 1062.5,1334.9 1066.1,1333.9 1069.9,1334.7 1073.6,1334.2 1077.4,1334.8 1081.1,1334.9 1084.9,1334.9 1088.5,1336.3 1092.1,1335.6 1095.8,1334.6 1099.5,1335.2 1103.2,1334.8 1106.9,1334.1 1110.6,1333.9 1114.3,1334.4 1118.0,1334.5 1121.7,1334.2 1125.8,1333.1 1129.9,1332.2 1134.0,1331.6 1138.3,1331.3 1142.9,1332.7 1147.5,1334.0 1151.3,1333.8 1155.0,1334.0 1158.6,1332.5M1155.0,1192.2 1158.1,1190.2 1160.8,1187.4 1164.4,1186.2 1167.9,1184.9 1171.0,1182.8 1174.2,1180.9 1177.7,1179.4 1181.0,1177.7M1162.4,1199.6 1166.1,1197.8 1169.8,1196.1 1173.7,1194.6 1177.2,1192.3 1180.5,1189.4 1183.8,1186.4 1187.8,1184.7 1191.9,1182.9M1173.4,1203.3 1176.7,1200.7 1180.9,1199.8 1184.5,1197.7 1188.1,1195.8 1192.1,1193.9 1196.1,1192.0 1199.4,1189.1 1203.2,1187.1 1207.0,1185.5 1210.4,1183.1 1214.2,1181.3M1249.2,1245.8 1252.6,1241.9 1256.5,1238.4 1262.0,1234.6M1217.8,1253.2 1221.4,1251.1 1225.2,1249.5M1232.6,1247.7 1238.3,1244.3M1545.7,1048.4 1548.2,1045.0 1550.1,1041.3 1551.4,1037.4 1554.3,1033.8 1556.9,1030.0M1538.3,1063.1 1540.6,1060.3 1541.9,1056.9 1543.7,1053.8M1555.0,1063.1 1556.8,1059.6 1560.1,1057.2 1562.5,1054.0M1494.0,1052.1 1499.6,1048.4M1300.0,1227.3 1303.6,1225.8 1307.3,1224.6 1311.1,1223.6 1314.9,1221.1 1318.7,1218.3 1322.9,1215.1 1326.2,1211.0M1521.7,1074.0 1519.8,1077.7 1517.1,1080.9 1516.0,1085.0 1513.0,1088.1 1512.7,1092.6 1510.9,1096.3 1508.7,1099.8 1506.5,1103.4 1505.1,1107.3 1502.4,1110.5 1501.7,1114.8 1499.3,1118.2 1497.7,1121.4 1496.0,1124.6 1493.7,1127.4 1490.5,1130.6 1488.0,1134.3 1486.6,1138.7 1483.4,1141.9 1481.3,1145.8 1479.2,1149.7 1475.8,1152.1 1473.3,1155.1 1471.6,1158.8 1469.0,1161.8 1467.5,1165.6 1464.3,1168.1 1462.4,1171.6 1459.7,1174.6 1457.1,1177.5 1454.4,1181.2 1451.3,1184.7 1452.2,1188.6 1453.2,1192.3M1555.0,1074.0 1552.9,1077.4 1550.0,1080.2 1547.3,1083.1 1545.4,1086.7 1543.7,1090.1 1541.4,1093.1 1539.7,1096.4 1537.7,1099.5 1536.3,1103.0 1534.0,1106.0 1531.4,1108.7 1530.5,1112.5 1527.7,1116.0 1525.7,1120.0 1523.5,1123.9 1521.2,1127.6 1518.7,1131.3 1516.0,1134.9 1512.5,1136.6 1510.7,1139.8 1509.2,1143.3 1506.8,1146.0 1503.5,1148.8 1500.6,1152.0 1497.8,1155.4 1494.6,1159.5 1490.3,1162.7"/>
<path fill="none" stroke="#000" stroke-width="6.0" stroke-linejoin="round" stroke-linecap="round" d="M636.7,703.1 635.5,707.4 633.7,711.5 632.8,716.0 632.5,720.3 631.4,724.6 631.5,729.0M642.3,535.0 646.0,540.5 645.2,544.4 644.7,548.3 642.5,551.7M895.4,1016.9 895.5,1020.8 897.0,1024.4M1090.3,273.7 1095.0,273.6 1099.5,274.7M1238.1,289.4 1242.8,290.0 1247.4,291.2 1251.0,295.0M1254.7,300.5 1258.3,301.7 1262.2,301.2 1265.8,302.4 1269.5,306.1M1278.8,1299.4 1282.8,1298.2 1286.6,1296.7 1290.0,1294.1 1293.5,1293.5 1296.8,1292.0 1300.1,1290.4M1569.7,732.6 1571.5,736.2 1572.6,740.0 1572.8,743.8 1573.2,747.5M1535.6,806.3 1535.0,810.9 1534.7,815.6M1496.2,922.7 1497.6,927.3 1496.9,932.0M1497.7,939.3 1497.3,943.0 1497.2,946.7M1495.8,1098.0 1499.3,1102.0 1503.2,1105.5M1451.5,1186.7 1456.8,1190.7M1530.9,1085.1 1534.1,1083.3 1537.8,1082.6 1540.4,1079.9M1300.0,1293.9 1304.0,1293.7 1307.8,1292.7 1311.3,1290.8 1314.9,1290.2 1318.3,1289.1 1321.2,1286.9 1324.2,1285.0 1327.5,1283.8 1330.7,1282.3 1333.9,1280.9 1337.0,1279.2 1340.6,1277.2 1344.2,1275.1 1348.1,1273.7 1350.8,1271.2 1354.1,1269.7 1357.4,1268.2 1363.1,1264.7M1314.8,1276.3 1319.5,1275.3 1324.1,1273.8M1357.3,1091.6 1359.9,1088.2 1362.4,1084.7 1367.2,1081.1"/>
<path fill="none" stroke="#000" stroke-width="2.5" stroke-linejoin="round" stroke-linecap="round" d="M692.1,568.2 693.8,572.0 695.6,575.7 695.6,579.5 695.3,583.3 695.6,587.1 698.3,590.4 697.5,594.0 697.9,597.8 697.2,601.4 696.6,597.4 694.5,593.8 694.0,589.7 692.7,585.5 692.3,581.1 693.0,576.8 692.6,572.5 692.8,568.2M677.4,627.3 677.0,631.7 676.5,636.0 675.6,640.3M679.2,682.8 681.4,679.7 683.2,676.5 683.8,672.5 686.5,669.7 688.4,675.4 686.3,678.8 684.3,682.3 682.9,685.9 682.7,690.1 682.4,685.8 679.4,682.7M695.8,697.5 699.2,693.4 700.7,688.4 700.2,692.1 701.3,695.8 702.3,699.4 701.2,703.8 700.6,708.5 697.9,712.4 697.2,708.6 695.8,705.0 696.5,701.2 696.0,697.5M768.8,671.7 773.5,669.8 774.4,675.4 769.8,676.5 768.5,671.7M770.7,712.3 775.3,711.6 775.1,716.9 771.2,716.8 770.5,712.3M747.6,747.4 752.1,746.1 752.5,752.0 748.6,753.3 747.2,747.5M736.5,852.5 734.9,855.8 733.2,858.9 731.0,861.8 730.6,865.7 730.2,869.7 727.6,873.0 727.7,876.7 725.7,880.2 725.5,883.9 726.7,879.3 728.3,874.7 730.6,870.3 732.1,865.5 734.1,862.3 736.9,859.4 737.4,855.3 736.4,852.5M840.0,1019.7 843.5,1017.6 846.0,1021.3 841.9,1023.6 840.2,1019.6M1012.7,623.6 1014.8,619.7 1016.9,615.7 1020.0,612.5 1022.9,615.3 1025.5,618.2 1029.4,618.8 1033.0,619.9 1038.6,619.2 1035.1,621.4 1032.5,624.6 1029.3,627.3 1025.6,629.0 1022.5,631.4 1020.0,634.6 1017.2,631.3 1015.7,627.0 1013.0,623.5M1009.0,642.1 1014.4,638.2 1018.2,641.3 1015.3,643.7 1012.5,646.5 1009.0,642.1M1092.1,597.8 1093.5,601.4 1094.3,605.1 1097.5,603.3 1101.3,602.6 1105.0,601.1M962.8,722.5 966.5,721.8 970.2,721.2 973.9,721.7 977.6,723.4 981.2,725.4 977.4,726.8 973.9,729.0 970.3,726.6 966.4,724.9 962.8,722.5M1262.1,786.0 1264.3,782.6 1266.7,779.2 1268.2,775.4 1270.0,772.3 1272.4,769.6 1273.6,766.1 1275.4,764.4 1272.6,767.4 1271.9,771.3 1270.0,774.8 1269.5,778.8 1267.7,782.5 1266.0,786.1M1068.1,907.9 1073.8,911.4 1072.9,915.4 1071.9,919.1 1073.5,922.2 1074.8,925.6 1076.9,928.6 1082.7,930.6M1014.5,867.3 1015.3,871.0 1016.2,874.7 1017.3,878.4 1018.6,882.0 1018.6,885.7 1018.2,889.5 1018.4,893.2 1019.2,896.8 1019.1,900.6 1019.2,904.3 1018.4,907.9 1018.3,911.6 1014.7,913.7 1013.9,909.2 1014.4,904.9 1014.3,900.5 1013.8,896.3 1013.1,892.0 1013.0,887.7 1012.4,883.4 1011.3,879.1 1012.5,874.7 1012.6,870.7 1014.4,867.3M1184.5,821.1 1188.1,823.1 1186.7,826.5 1185.4,830.2 1184.4,834.0 1180.9,839.6 1178.9,835.9 1180.5,831.1 1182.6,826.6 1184.2,821.0M1092.1,1044.7 1095.9,1041.1 1099.6,1040.1 1103.3,1039.2 1109.0,1042.5 1106.7,1047.0 1103.3,1050.2 1100.0,1053.0 1096.1,1054.4 1093.3,1049.6 1091.9,1044.7M900.0,1205.2 903.7,1206.1 907.4,1207.0 911.4,1207.3 914.8,1209.4 918.5,1210.6 923.4,1211.9 927.7,1214.5 929.5,1218.1 925.0,1217.3 920.3,1217.0 916.7,1215.6 913.1,1214.3 909.3,1213.4 904.4,1212.7 899.9,1211.1M1033.0,1249.5 1036.7,1250.6 1040.3,1251.9 1044.0,1252.7 1047.7,1252.7 1051.5,1252.5 1055.2,1252.4 1058.8,1250.4 1062.6,1251.0M1049.7,1253.6 1053.8,1254.3 1058.0,1253.6 1062.2,1253.3 1066.3,1254.6M1199.3,1160.8 1203.0,1158.4 1206.7,1155.9 1210.4,1153.4 1214.4,1151.8 1218.2,1149.9 1221.5,1147.0 1217.8,1151.6 1214.5,1154.7 1210.2,1156.2 1206.5,1158.7 1202.8,1159.0 1199.2,1160.3M1177.1,1088.8 1181.5,1085.7 1184.6,1081.5 1187.1,1078.4 1190.0,1075.8M943.4,1074.0 944.0,1078.6 944.2,1083.3 948.0,1085.1 949.6,1081.5 950.2,1077.8 946.2,1074.0M1238.1,1234.7 1241.0,1232.0 1243.3,1228.7 1247.1,1227.0 1249.7,1224.2 1253.5,1223.6 1256.4,1221.5 1262.1,1220.0 1258.0,1221.7 1255.3,1225.8 1251.1,1227.4 1247.6,1228.6 1244.7,1230.8 1241.7,1232.7 1238.0,1234.6M1353.6,723.4 1359.1,722.3 1359.0,726.7 1358.6,730.8 1354.9,734.9 1352.5,729.0 1353.3,723.4M1366.5,569.1 1371.9,566.9 1374.5,570.7 1370.3,573.9 1366.4,569.2M1381.3,786.0 1380.8,789.8 1379.2,793.3 1376.5,798.8 1377.8,795.3 1377.9,791.6 1381.2,786.0M1540.2,1074.0 1541.3,1070.0 1543.6,1066.6 1545.2,1062.8 1547.2,1059.3 1548.2,1055.4 1550.8,1052.2 1551.2,1048.2 1553.2,1044.7M934.5,792.7 938.4,794.0 940.9,799.2 937.0,801.6 934.4,797.9 934.2,792.7M950.1,788.8 955.3,790.0 957.1,796.4 952.9,798.4 949.5,794.3 949.5,788.8M973.4,729.3 974.7,722.8 981.2,721.9 982.0,725.5 979.2,727.4 977.1,730.5 973.5,729.0"/>
<path fill="none" stroke="#000" stroke-width="3.0" stroke-linejoin="round" stroke-linecap="round" d="M780.8,745.6 784.5,743.0 788.4,741.0 792.0,738.3M666.3,813.7 667.3,817.4 668.0,821.1 669.6,824.7 670.5,828.4M1278.8,301.5 1283.4,302.7 1288.0,304.0 1286.2,307.9 1282.9,306.6 1279.8,304.9 1278.9,301.4M1082.9,450.2 1086.7,450.1 1090.3,451.1 1093.9,453.1 1090.2,452.3 1086.6,453.4 1082.8,450.3M1207.6,442.8 1212.1,439.7 1214.1,443.7 1210.4,449.3 1209.4,445.8 1207.7,442.8M1288.9,459.4 1291.6,456.7 1295.3,455.5 1296.9,460.5 1291.5,463.8 1289.2,459.2M1180.8,717.9 1184.6,715.2 1186.9,719.0 1183.4,721.3 1180.7,718.0M1288.0,655.0 1291.8,653.5 1295.3,651.1 1295.6,655.2 1296.8,658.9 1293.0,659.5 1289.7,662.2 1288.4,658.9 1288.3,655.0M900.0,932.0 903.4,935.9 907.3,939.4 905.5,935.2 904.6,930.8 903.9,926.4M1195.6,956.0 1199.3,954.1 1197.5,957.6 1197.3,961.5 1195.9,955.9M1090.3,968.9 1093.7,974.7 1091.9,979.9M1112.5,1105.4 1117.0,1104.2 1121.7,1103.3M1037.6,1103.6 1044.1,1105.2 1042.0,1109.0 1037.9,1106.7 1038.1,1103.6M1057.0,1199.6 1061.7,1200.2 1066.3,1201.2M1062.6,1210.7 1068.1,1209.7M1062.6,1197.8 1063.9,1202.0 1064.0,1206.5 1065.2,1210.8M1472.7,1026.2 1476.3,1024.0 1477.9,1027.9 1473.9,1030.3 1472.4,1026.3"/>
<path fill="none" stroke="#000" stroke-width="3.5" stroke-linejoin="round" stroke-linecap="round" d="M862.1,680.9 865.7,683.0 869.5,684.7 866.7,687.8 865.5,691.8 869.0,695.0 873.0,696.2 870.8,699.1 869.0,702.8M880.6,682.8 884.2,684.7 887.8,686.8 885.3,689.7 883.8,693.6M1108.8,1111.0 1113.2,1109.2 1118.0,1109.1 1121.8,1108.8 1125.5,1108.5 1129.2,1107.7M1121.7,1116.5 1125.5,1116.3 1129.1,1115.1 1132.8,1114.6 1136.5,1112.8 1140.3,1111.1"/>
<path fill="none" stroke="#000" stroke-width="8.0" stroke-linejoin="round" stroke-linecap="round" d="M671.8,992.9 673.8,996.5 675.2,1000.5M878.8,1273.5 882.9,1274.6 887.0,1275.5"/>
<path fill="none" stroke="#000" stroke-width="7.0" stroke-linejoin="round" stroke-linecap="round" d="M646.0,1079.5 648.0,1084.1 649.8,1088.7 652.1,1092.2 653.1,1096.3M1010.9,1277.2 1014.3,1279.3 1017.9,1280.4 1021.7,1281.1 1025.5,1281.7M1538.3,771.4 1543.8,775.3"/>
<path fill="none" stroke="#000" stroke-width="4.5" stroke-linejoin="round" stroke-linecap="round" d="M1530.9,1041.0 1534.5,1038.0 1538.0,1035.0 1543.6,1032.8 1543.8,1037.6 1541.8,1041.1 1540.2,1044.7 1538.5,1048.4 1536.5,1052.0 1534.1,1056.1 1531.0,1059.5"/>
<g fill="#000"><circle cx="721.7" cy="387.4" r="1.5"/><circle cx="867.7" cy="366.1" r="1.7"/><circle cx="574.8" cy="730.8" r="2.2"/><circle cx="576.7" cy="738.2" r="2.0"/><circle cx="626.6" cy="560.8" r="1.7"/><circle cx="672.7" cy="573.8" r="1.8"/><circle cx="713.4" cy="555.3" r="1.7"/><circle cx="644.1" cy="577.4" r="1.8"/><circle cx="760.5" cy="733.6" r="1.7"/><circle cx="735.6" cy="753.0" r="1.5"/><circle cx="856.6" cy="743.7" r="1.7"/><circle cx="872.3" cy="775.1" r="1.5"/><circle cx="870.4" cy="1192.2" r="1.7"/><circle cx="1060.7" cy="331.0" r="1.8"/><circle cx="1210.4" cy="297.8" r="1.5"/><circle cx="924.0" cy="300.5" r="1.5"/><circle cx="957.3" cy="542.3" r="2.4"/><circle cx="1101.4" cy="554.4" r="2.0"/><circle cx="1067.2" cy="582.1" r="2.0"/><circle cx="1219.6" cy="568.2" r="1.7"/><circle cx="1243.6" cy="583.0" r="2.2"/><circle cx="1257.5" cy="574.7" r="1.7"/><circle cx="1197.5" cy="628.3" r="1.7"/><circle cx="1224.2" cy="686.5" r="2.0"/><circle cx="992.4" cy="687.4" r="0.9"/><circle cx="927.7" cy="539.6" r="1.3"/><circle cx="1002.5" cy="871.0" r="1.3"/><circle cx="1009.9" cy="915.3" r="1.3"/><circle cx="988.7" cy="948.6" r="1.5"/><circle cx="1143.9" cy="797.1" r="1.5"/><circle cx="1164.2" cy="841.4" r="1.5"/><circle cx="1204.8" cy="828.5" r="1.1"/><circle cx="1227.0" cy="1312.3" r="1.5"/><circle cx="1034.9" cy="1251.7" r="1.3"/><circle cx="1042.3" cy="1191.3" r="1.3"/><circle cx="1047.8" cy="1189.5" r="0.9"/><circle cx="1308.3" cy="417.9" r="2.0"/><circle cx="1336.0" cy="428.9" r="1.8"/><circle cx="1392.4" cy="475.1" r="2.8"/><circle cx="1395.2" cy="478.8" r="2.2"/><circle cx="1564.2" cy="738.2" r="1.5"/><circle cx="1588.2" cy="769.6" r="1.5"/><circle cx="1591.9" cy="780.7" r="1.5"/><circle cx="1337.0" cy="518.3" r="2.2"/><circle cx="1318.5" cy="533.1" r="1.7"/><circle cx="1337.9" cy="634.7" r="1.7"/><circle cx="1394.2" cy="662.4" r="1.3"/><circle cx="1495.8" cy="686.5" r="1.5"/><circle cx="1508.8" cy="685.5" r="1.3"/><circle cx="1407.2" cy="591.3" r="1.5"/><circle cx="1416.4" cy="741.9" r="1.3"/><circle cx="1345.3" cy="937.5" r="2.2"/><circle cx="1492.1" cy="875.6" r="1.7"/><circle cx="1493.1" cy="883.9" r="1.5"/><circle cx="1521.7" cy="918.1" r="1.7"/><circle cx="1405.3" cy="1041.0" r="2.2"/><circle cx="1447.8" cy="893.2" r="0.9"/><circle cx="1514.3" cy="1066.8" r="1.5"/><circle cx="855.6" cy="743.5" r="1.8"/><circle cx="872.4" cy="774.5" r="1.7"/><circle cx="890.6" cy="686.6" r="1.3"/><circle cx="889.3" cy="691.7" r="1.0"/></g>
<g font-size="27.5" style="font-weight:normal" stroke="#000" stroke-width="0.9" text-anchor="middle"><text transform="translate(1127.0 385.0) rotate(-15)" y="9.8" style="font-weight:normal">300</text><text transform="translate(1144.5 417.0) rotate(-18)" y="9.8" style="font-weight:normal">380</text><text transform="translate(888.0 556.0) rotate(-20)" y="9.8" style="font-weight:normal">380</text><text transform="translate(1385.0 757.0) rotate(-58)" y="9.8" style="font-weight:normal">300</text><text transform="translate(869.5 690.0) rotate(-60)" y="9.8" style="font-weight:normal">380</text><text transform="translate(784.5 915.0) rotate(84)" y="9.8" style="font-weight:normal">300</text><text transform="translate(820.5 981.0) rotate(-40)" y="9.8" style="font-weight:normal">300</text><text transform="translate(1167.0 920.0) rotate(-45)" y="9.8" style="font-weight:normal">300</text><text transform="translate(1079.0 1115.5) rotate(4)" y="9.8" style="font-weight:normal">300</text><text transform="translate(1113.5 1207.0) rotate(-33)" y="9.8" style="font-weight:normal">300</text><text transform="translate(1127.0 1112.0) rotate(-15)" y="9.8" style="font-weight:normal">300</text></g>
<path fill="none" stroke="#fff" stroke-width="5.0" stroke-linejoin="round" stroke-linecap="round" d="M855.7,304.6 859.1,303.7 862.1,301.7 865.9,302.6 869.5,303.7 873.3,303.2 876.9,301.9M840.0,570.1 843.8,570.6 847.4,571.5 851.3,571.6 854.8,573.4 858.4,572.7 862.0,571.7 865.8,572.1 869.5,571.9M725.4,727.1 728.9,725.4 732.5,723.7 736.4,723.3 739.9,721.5 743.6,720.1 747.5,719.6 748.4,724.0 748.7,728.4 749.6,732.6 744.6,734.1 740.2,736.4 736.4,737.3 732.8,738.7 729.0,739.7 725.0,743.3 729.5,743.7 733.0,741.8 736.5,740.0 741.1,739.9 745.4,738.7 749.5,736.7M636.7,888.5 640.4,889.7 644.2,890.8 647.8,892.2 652.1,892.9 656.5,892.1 660.7,893.0M555.4,948.6 557.9,952.5 560.9,956.1M588.7,989.2 590.1,993.1 591.9,996.9 594.0,1000.4M964.7,498.0 979.4,483.4 996.1,468.7M1001.6,462.2 1016.4,451.1M964.7,498.0 955.4,509.1 949.9,518.3M1125.4,1085.1 1128.9,1082.0 1132.9,1079.7 1134.8,1082.5 1136.8,1085.5 1138.2,1088.8 1144.0,1092.4M1262.1,1201.5 1266.6,1199.2 1271.3,1197.7 1275.8,1195.4 1280.5,1193.9M1325.9,1170.1 1329.9,1167.8 1333.3,1164.6 1336.7,1162.4 1339.0,1159.2M1339.7,1192.2 1343.8,1192.6 1347.6,1193.9 1351.6,1194.7 1355.4,1196.0M1519.9,1105.4 1524.5,1100.8"/>
<path fill="none" stroke="#fff" stroke-width="3.0" stroke-linejoin="round" stroke-linecap="round" d="M882.4,300.2 888.0,299.0M895.4,296.8 900.0,295.3M581.3,885.8 585.1,887.4 588.7,889.4 588.0,893.1 587.9,896.9 586.8,900.5 585.9,904.4 584.1,907.9 582.3,911.5 581.0,915.2 581.8,919.0 582.7,922.7 583.0,926.4M1155.0,468.7 1157.7,473.3M1103.2,1074.0 1107.3,1075.1 1110.7,1077.6 1114.3,1076.8 1117.9,1075.6 1121.6,1075.4M1638.1,727.1 1637.8,730.8 1636.7,734.5 1635.8,738.1"/>
<path fill="none" stroke="#fff" stroke-width="2.9" stroke-linejoin="round" stroke-linecap="round" d="M594.2,607.0 597.2,604.4 600.5,602.3 603.4,599.5 606.2,597.2 608.7,594.6 611.5,592.3 614.7,590.5 617.7,588.0 620.6,585.4 623.0,582.1 625.9,579.5 629.1,577.2 632.5,575.9 635.5,574.0 639.2,573.7 642.2,571.8 645.9,570.7 649.6,569.8 653.3,568.8 657.0,568.1 660.7,566.2 664.6,564.8 668.2,562.8 671.0,559.4 673.8,556.0 677.1,553.2 680.8,551.1 684.3,548.8 688.5,547.9 692.1,546.8 695.8,545.7 699.2,543.9 703.2,544.1 707.5,542.9 711.7,541.7 716.2,541.4 719.9,542.3 723.7,542.7 727.3,543.9 730.4,546.5 733.4,549.1 736.4,551.7 739.5,553.5 742.6,555.4 745.7,557.1 748.6,560.5 752.1,563.1 755.1,566.2 758.8,570.0 762.4,573.7 765.8,576.8 769.8,579.3 773.1,576.8 777.0,575.3 780.9,573.8 784.3,571.4 787.9,569.5 791.7,567.8 795.5,567.0 799.3,567.0 803.0,566.3 806.7,566.2 810.3,565.0 814.0,564.2 817.8,564.3 821.5,563.7 825.2,564.8 828.9,565.1 832.6,564.8 835.5,562.0 838.2,559.1 832.7,555.1 828.7,554.8 824.9,555.0 821.5,557.1 824.2,560.6 827.4,563.5 830.7,566.4 835.6,567.7 840.1,569.7 843.4,568.1 847.1,567.5 851.0,567.9 854.8,568.1 858.5,567.1 862.2,566.6 866.3,568.2 870.6,569.3 875.0,570.1 879.2,568.3 883.8,568.1 888.0,566.5 892.2,566.9 896.0,565.5 900.0,564.6M596.1,612.5 599.9,611.6 603.5,610.3 607.1,608.8 611.3,607.0 614.6,604.0 618.3,601.6 622.4,599.7 625.8,596.8 629.4,594.1 632.7,591.2 636.8,589.2 640.3,586.5 644.1,584.7 647.7,582.8 643.9,579.5 640.7,581.3 636.9,582.3 633.2,583.4 630.0,585.3 626.8,587.0 623.7,589.2 620.3,590.7 617.4,593.7 613.8,596.2 610.7,599.0 607.3,601.6 603.7,604.2 599.7,606.3 595.9,608.6 594.4,606.9M758.7,579.3 761.8,581.0 765.0,582.4 768.1,584.0 771.6,584.9 774.8,583.0 778.1,581.1 781.5,579.6 784.5,577.4 788.4,575.9 791.8,573.4 795.5,571.7 799.3,568.2 802.9,564.5M594.2,608.9 593.0,612.4 592.4,616.1 591.7,619.8 591.6,623.6 591.3,627.3 591.1,631.0 590.4,634.7 587.4,637.7 583.5,640.0 581.2,643.8 577.4,644.3 573.8,645.5 571.1,648.5 568.4,651.4 566.8,654.8 565.4,658.3 564.1,661.8 561.3,664.5 561.1,668.4 558.8,671.7 558.5,675.6 557.0,679.2 555.4,682.7 554.1,686.4 553.9,690.4 553.0,694.1 551.2,697.6 550.1,701.3 549.6,705.2 547.8,708.7 546.8,712.4 545.9,716.2 544.5,719.8 544.4,723.6 544.3,727.4 543.1,731.0 542.3,734.7 540.9,738.2 539.7,741.8 539.2,745.6 538.3,749.2 537.7,753.0 537.0,756.7 536.9,760.3 536.8,764.0 537.1,767.7 536.1,771.4 536.1,775.0 536.4,778.7 535.5,782.4 535.3,786.0M566.5,710.5 570.0,712.7 573.9,714.2 578.5,716.0 583.0,718.2 588.6,720.1 589.6,723.4 590.8,727.0 592.3,730.6 592.9,734.4 595.0,738.4 596.1,742.7 596.4,747.3 596.6,751.2 595.9,754.9 595.7,758.6 595.0,762.2 594.5,765.9 594.1,769.9 593.2,773.9 593.2,778.0 592.9,782.0 592.7,786.1M566.5,710.5 563.7,713.8 560.9,717.2 557.2,719.6 555.7,722.9 554.4,726.1 553.6,729.6 551.7,732.6 551.1,736.4 550.2,740.1 549.5,743.9 547.9,747.4 548.5,751.1 548.6,754.8 548.7,758.5 549.3,762.2 549.2,765.9 549.6,769.9 550.3,773.9 550.7,778.0 551.9,781.9 551.9,786.0M832.6,664.3 838.2,660.8 839.2,664.2 839.8,667.9 840.0,671.7 843.7,675.3 841.2,679.3 838.0,682.7 838.9,686.4 839.3,690.2 840.1,693.8 836.4,697.7 835.6,693.9 835.8,690.1 835.8,686.3 835.0,682.7 832.9,678.0 830.8,673.5 832.9,669.2 832.6,664.3M804.8,680.9 808.9,683.2 812.4,686.3 810.5,689.6 808.8,692.8 806.8,695.7 806.0,691.9 804.9,688.3 804.7,684.6 804.9,680.9M878.8,660.6 881.7,658.6 884.6,656.3 888.0,655.1 889.8,658.2 891.8,661.2 893.7,664.2 890.0,666.9 887.1,670.2 884.1,673.3 887.6,676.9 891.6,679.2 895.5,676.5 899.9,675.2M880.6,682.8 884.1,684.7 886.7,687.8 889.7,690.3 894.9,689.3 900.0,688.4M773.4,771.4 776.2,769.0 779.2,766.8 782.4,764.9 785.1,762.4 788.3,760.4 791.9,759.7 795.6,759.5 799.3,758.6 803.0,758.2 806.7,760.3 810.4,762.1 814.0,764.2 817.7,767.8 821.5,771.4 823.3,775.1 825.5,778.7 829.0,782.3 832.4,786.2M869.5,786.0 871.9,782.4 873.5,778.3 875.8,774.7 878.9,771.5 881.6,768.8 885.1,767.6 888.4,765.8 891.6,764.0 895.9,763.3 900.0,762.2M867.7,743.7 870.5,740.1 873.3,736.4 877.0,735.4 880.7,734.2 884.4,732.9 887.2,734.7 890.6,736.1 893.5,738.3 891.7,741.3 889.7,744.3 887.7,747.2 884.7,748.9 881.5,750.5 878.7,752.9 875.1,754.9 871.5,756.9 875.8,758.9 880.6,760.4 884.8,759.7 888.5,757.7 892.5,756.7 896.2,754.7 900.0,753.0M876.9,716.0 880.1,712.8 884.2,711.0 888.2,709.0 892.1,707.7 895.9,705.9 899.9,704.7M581.3,865.4 584.8,862.5 588.6,859.7 592.2,857.7 595.8,855.6 599.8,854.3 603.4,856.4 607.1,858.1 610.8,860.0 614.3,863.9 618.3,867.2 620.6,870.4 623.7,873.0 625.9,876.4 627.7,880.5 630.3,884.1 632.9,887.7 636.0,892.1 640.0,895.4 644.7,894.4 647.8,891.4 651.4,889.3 655.2,889.3 658.9,889.1 661.5,892.8 662.7,896.8 667.4,898.3 671.9,900.2 675.0,903.9 677.6,907.8 681.8,910.9 684.8,915.3 686.8,918.9 688.5,922.7 692.1,921.4 695.7,920.5 700.0,923.1 703.5,926.1 707.2,929.8 710.7,933.7 713.7,937.3 716.0,941.3 713.9,945.3 711.0,948.9 714.7,951.9 718.2,955.7 722.2,959.2 725.6,963.1 729.6,965.5 733.1,968.5 737.3,970.6 740.4,974.2 744.3,975.4 747.7,977.8 751.7,981.4 754.9,985.6 758.7,988.2 762.5,990.9 764.8,994.2 767.8,996.7 768.9,1000.5 770.9,1003.9 772.6,1007.5 773.6,1011.3 776.8,1009.2 780.7,1008.9 782.0,1005.5 784.5,1002.2 783.6,998.5 782.8,994.7 782.5,990.9 780.7,987.4 781.9,982.5 784.3,978.1 788.2,977.2 791.8,976.3 795.6,976.0 799.4,973.6 803.0,970.7 802.1,967.1 803.1,963.4 803.1,959.7 802.9,955.9 804.0,952.2 805.0,948.6 805.1,943.7 803.4,939.3 807.5,937.7 810.6,934.1 812.6,929.9 815.2,926.3 817.7,922.7 820.1,918.9 822.7,915.3 825.1,911.6 827.4,908.1 828.4,904.0 830.7,900.6 826.2,898.5 821.5,896.9 817.8,897.8 814.1,898.7 811.5,894.8 808.5,891.3 811.1,887.4 813.9,883.8 816.6,881.3 819.4,879.0 822.2,876.8 825.1,874.6 827.2,871.1 828.6,867.2 830.4,863.5 831.6,860.0 830.9,856.1 831.9,852.5 832.9,848.9 836.5,845.3 840.0,841.5 842.1,837.9 843.3,833.8 845.6,830.4 844.7,826.6 843.8,822.9 842.0,826.2 840.2,829.3 838.0,832.1 836.1,829.2 833.8,826.4 832.7,822.9 836.4,819.4 840.2,815.8 843.5,813.4 847.0,811.3 850.9,809.7 854.5,808.0 858.3,807.1 862.1,806.1 866.4,805.3 870.7,804.5 875.0,804.3 879.4,804.0 883.7,803.2 888.0,802.5 892.0,800.9 896.0,799.0 900.1,797.4M535.1,786.0 534.8,789.7 533.8,793.3 533.8,797.1 533.6,800.8 533.4,804.5 533.3,808.2 533.0,811.9 532.3,815.6 532.4,819.3 531.9,823.0 531.9,826.6 532.1,830.3 532.5,834.0 533.0,837.7 533.1,841.4 536.9,842.4 540.6,843.3 542.0,839.6 543.8,836.1 544.8,832.3 544.3,828.0 544.6,823.7 543.4,819.7 542.6,815.5 542.5,811.8 542.7,808.0 542.1,804.4 541.0,800.7 546.3,797.3 549.5,799.2 552.2,802.2 555.5,804.3 557.4,808.1 559.5,811.7 558.0,808.0 558.8,804.3 559.2,800.6 560.8,797.1 560.3,793.4 560.0,789.7 559.4,785.9M533.3,841.4 533.6,845.2 534.3,848.9 535.2,852.6 535.4,856.4 536.6,860.0 537.0,863.7 537.6,867.5 538.8,871.1 539.8,874.7 540.4,878.4 541.2,882.2 543.0,885.7 544.1,889.4 546.0,892.9 546.4,896.8 548.2,900.3 549.1,904.0 550.2,907.7 551.6,911.3 552.2,915.2 553.7,918.8 555.2,922.3 554.9,926.4 556.3,930.1 557.6,933.7 559.3,937.3 560.4,941.1 561.7,944.9 563.1,948.6 564.8,952.2 567.0,955.6 568.1,959.5 568.5,963.6 570.6,967.1 571.9,970.8 573.8,974.3 574.5,978.4 575.7,982.2 577.9,985.6 579.3,989.3 580.7,992.9 580.8,996.9 581.5,1000.7 583.9,1004.0 584.8,1007.8 585.7,1011.5 587.2,1015.1 588.6,1018.7 589.9,1022.3 590.9,1026.1 593.0,1029.5 593.1,1033.5 594.3,1037.2 595.3,1040.9 596.4,1044.6 597.9,1049.3 599.7,1053.9 600.6,1057.9 601.9,1061.8 602.2,1065.9 603.4,1069.9 603.9,1074.0M590.5,786.0 593.1,789.3 594.9,793.1 596.2,797.0 596.5,801.2 597.9,805.3 598.9,809.4 598.3,813.7 597.8,817.5 596.9,821.2 596.2,824.9 595.7,828.6 594.3,832.2 592.3,836.2 589.3,839.6 586.7,843.2 584.5,847.3 581.3,850.7 579.8,855.2 579.4,859.9 581.3,865.5M660.7,800.8 665.5,799.2 670.1,797.5 673.7,797.7 677.3,798.9 681.0,799.2 685.1,798.7 688.8,797.4 692.3,795.7 696.7,793.7 699.9,790.2 703.5,788.4 707.1,786.4M662.6,804.5 665.7,806.2 668.7,808.3 671.8,810.1 675.4,808.8 679.1,807.9 682.8,807.7 686.3,809.5 688.9,812.2 692.1,813.9 696.8,812.8 701.4,812.0 704.3,809.2 706.9,806.1 710.6,804.5 711.8,800.9 712.3,797.2 712.9,793.5 710.8,789.6 708.6,786.1M675.5,817.4 678.4,819.5 681.4,821.5 684.9,822.7 688.3,820.8 692.1,819.1 693.1,823.9 693.7,828.6 692.3,831.6 690.8,835.0 688.8,837.9 682.9,834.1 678.7,831.9 675.5,828.5 676.7,833.1 677.5,837.7 680.3,840.4 682.6,843.7 684.9,846.9 690.5,850.4M664.4,832.2 665.8,835.5 668.4,838.2 670.2,841.3 671.8,844.5 674.0,847.4 675.6,850.6 677.9,853.4 680.3,856.2 681.5,859.6 683.1,864.4 684.8,869.1 687.4,872.4 688.3,876.6 684.7,878.3 682.3,874.7 679.8,871.0 677.3,867.3 675.0,863.5 672.9,859.6 670.3,856.0 669.7,852.1 667.5,848.7 667.0,844.7 664.7,841.3 664.8,836.8 664.6,832.2M777.1,786.0 774.1,789.3 772.2,793.4 769.9,797.2 768.4,801.0 766.7,804.8 764.4,808.3 764.7,812.1 763.1,815.6 762.3,819.3 758.4,822.7 754.8,826.5 751.1,827.1 748.0,828.9 745.4,831.6 741.1,833.7 738.1,837.4 734.5,841.3 737.0,845.4 740.0,849.0 744.3,847.9 747.9,845.8 751.8,844.2 755.1,841.7 758.6,843.4 762.5,844.9 766.4,846.3 769.7,848.9 773.6,849.2 777.1,850.7 781.0,849.2 784.7,847.3 788.2,845.1 791.7,842.1 795.6,839.6 799.4,838.5 802.7,836.3 806.6,835.6 810.9,836.6 814.3,839.2 817.6,838.0 821.2,837.0 825.1,837.5 827.1,834.1 827.8,829.8 830.3,826.5 832.4,822.9M836.3,786.0 834.3,789.7 832.0,793.1 830.9,797.2 829.6,801.1 827.3,804.6 829.8,808.2 832.6,811.8M843.6,832.2 845.2,836.4 846.7,840.6 847.5,845.1 849.1,848.6 849.9,852.3 850.9,856.0 851.3,859.8 848.9,862.8 847.0,865.9 845.6,869.2 843.2,872.0 841.7,875.3 840.1,878.4 839.9,882.1 839.8,885.8 843.8,885.0 847.3,883.1 851.0,882.0 854.9,881.4 858.8,880.8 862.2,878.7 866.4,875.2 869.5,871.0 872.0,867.3 874.4,863.6 876.8,859.8 879.0,856.8 881.5,853.9 882.6,850.3 884.4,847.0 888.6,845.0 892.0,841.9 895.8,839.5 900.1,837.9M718.0,906.1 721.5,907.3 724.6,909.0 727.4,911.4 732.4,912.2 736.5,915.2 740.4,918.8 744.1,922.5 746.5,925.7 748.4,929.2 751.3,931.9 754.2,934.7 756.6,937.8 758.7,941.1 761.3,944.1 764.7,946.5 766.4,950.2 769.0,953.1 771.4,956.2 773.4,959.7 776.6,962.7 779.6,965.9 782.9,968.7 785.9,971.2 789.4,973.1 792.1,976.1M718.0,906.1 719.9,909.8 721.7,913.5 724.1,916.8 727.3,919.1 730.9,920.9 733.6,924.4 736.5,927.9 738.5,931.9 740.6,936.0 743.6,939.5 738.3,937.5 735.2,940.9 732.4,944.6 732.0,949.5 731.0,954.1 734.9,956.6 738.4,959.6 740.8,962.8 743.1,966.0 745.5,969.1 750.1,971.4 755.0,972.6 758.7,971.8 762.3,970.7 759.0,966.7 755.0,963.3 755.9,959.7 756.1,956.0 756.9,952.3 754.6,948.8 753.2,944.9M710.6,948.6 713.2,952.2 716.1,955.6 718.1,959.6 720.7,963.1 723.9,966.1 727.1,969.1 730.0,972.3 733.5,975.0 736.4,978.2 739.1,980.7 741.2,983.8 744.4,985.5 747.5,987.5 751.1,990.1 754.6,992.8 758.4,995.1 762.2,997.0 766.1,998.4M867.7,832.2 873.2,829.4 876.1,833.9 871.7,839.0 869.1,835.6 867.6,832.2M900.0,939.3 897.3,942.0 893.6,943.4 890.6,945.8 887.9,948.4 885.5,952.2 882.6,955.6 880.5,959.6 879.4,963.4 877.7,966.9 876.6,970.7 878.9,974.2 882.0,976.8 884.1,980.2 885.9,983.8 887.5,987.6 892.1,985.8 896.0,983.8 900.1,982.0M1169.7,498.0 1170.9,494.4 1171.9,490.7 1173.7,487.2 1176.5,484.1 1179.7,481.1 1182.9,478.1 1185.6,475.8 1189.1,474.7 1192.0,472.6 1195.9,470.3 1199.7,468.0 1203.2,465.2 1207.1,464.0 1210.6,461.6 1214.3,459.8 1219.7,457.9 1219.5,461.3 1218.8,464.9 1218.5,468.6 1217.5,472.3 1217.8,476.0 1217.3,479.7 1217.6,483.4 1217.0,487.1 1215.6,490.7 1215.0,494.4 1213.8,498.0M966.5,503.5 969.0,506.9 970.4,510.8 974.8,509.9 979.5,509.2 984.1,508.3 988.7,507.4 992.2,511.2 996.0,514.7 999.9,514.2 1003.6,513.1 1006.8,516.8 1010.8,520.2 1013.2,523.6 1014.7,527.5 1012.4,531.1 1010.8,534.9 1007.8,537.5 1005.0,540.2 1002.1,542.8 999.4,545.7 1000.3,550.7 1001.6,555.3 1006.1,553.0 1010.8,551.4 1015.5,550.9 1020.1,551.3 1025.2,552.2 1029.5,555.0 1025.8,560.9 1022.2,563.1 1018.3,564.6 1014.5,566.2 1010.8,568.1 1014.7,570.8 1018.4,573.6 1021.8,576.7 1025.6,579.3 1029.4,582.9 1027.2,586.5 1025.6,590.4 1023.6,594.0 1021.1,597.4 1020.0,601.4 1017.2,604.2 1014.0,606.5 1010.8,608.7 1007.2,610.5 1004.3,613.3 1001.5,616.0 997.1,616.7 992.8,618.1 988.6,619.8 984.9,621.0 981.4,622.9 977.5,623.7 974.0,625.8 969.6,626.8 965.5,628.8 960.9,629.1 958.1,631.5 954.5,631.9 951.3,633.4 948.2,635.0 943.9,637.9 938.9,638.7 938.2,642.3 936.7,645.9 935.3,649.6 934.1,653.3 931.9,656.6 931.1,660.5 927.3,663.9 924.0,668.0 920.1,671.4 916.6,675.3 912.9,679.0 909.2,682.7 906.2,684.6 903.2,686.6 900.0,688.4M946.2,525.7 944.5,529.3 943.9,533.2 942.6,536.8 945.9,540.0 948.4,543.9M1040.4,557.1 1043.9,554.8 1047.9,553.5 1048.7,548.8 1049.4,544.1 1053.3,543.2 1057.1,542.4 1060.2,544.1 1063.1,546.2 1066.1,548.2 1069.9,549.9 1073.6,551.7 1077.3,557.2 1079.5,554.1 1080.4,550.3 1082.7,547.3 1084.7,544.1 1090.3,542.2 1088.8,538.5 1086.9,534.8 1085.2,531.1 1082.9,527.6 1081.7,523.9 1082.2,520.2 1081.8,516.5 1081.1,512.8 1080.7,509.1 1081.4,505.4 1080.3,501.7 1080.9,498.0M1082.0,525.7 1087.0,524.3 1092.1,523.7 1095.6,521.6 1099.6,520.3 1103.2,518.2 1106.7,515.9 1110.5,514.5 1114.2,512.5 1117.8,510.6 1121.5,508.6 1125.4,507.3 1128.9,509.5 1132.6,511.3 1136.5,511.3 1140.2,510.8 1143.9,511.0 1147.7,511.7 1151.4,511.1 1155.0,509.5 1158.7,509.2 1162.6,503.7 1166.0,501.5 1169.2,498.8 1173.3,497.8M1040.4,557.1 1044.6,559.3 1047.9,562.5 1051.2,565.1 1055.3,566.1 1059.0,568.1 1062.9,570.2 1066.3,573.1 1070.0,575.6 1073.6,576.5 1076.6,578.6 1079.4,580.9 1082.6,582.5 1085.7,584.3 1088.4,586.8 1092.1,588.2 1095.8,589.9 1099.5,591.4 1103.2,592.4 1106.7,593.9 1110.5,594.5 1111.9,589.5 1112.4,584.8 1117.9,588.7 1122.9,589.7 1127.2,592.4 1131.5,595.0 1136.5,595.9 1139.6,597.7 1142.7,599.6 1145.9,601.2 1147.5,605.0 1147.6,608.8 1150.4,611.7 1154.0,613.5 1156.9,616.2 1160.3,620.2 1163.9,623.9 1165.7,628.4 1167.8,632.9 1169.8,636.4 1172.6,639.2 1175.4,642.0 1177.3,645.1 1179.3,648.1 1180.8,651.4 1184.4,649.3 1188.1,647.5 1193.7,645.7 1196.6,649.5 1199.3,653.2 1203.1,656.8 1206.7,660.6 1210.5,661.1 1214.1,662.4 1215.5,666.4 1217.8,669.8 1214.2,672.7 1210.3,675.2 1210.6,679.2 1209.6,682.8 1208.9,686.5 1211.8,689.8 1214.2,693.7 1216.5,697.8 1219.4,701.4 1219.4,705.1 1220.4,708.7 1221.3,712.3 1221.4,716.1 1222.6,719.7 1223.1,723.4 1225.1,727.9 1228.5,731.1 1232.1,735.0 1236.0,738.4M1147.6,533.1 1150.3,529.3 1153.3,525.8 1157.7,523.8 1162.3,521.8 1166.1,520.3 1169.8,518.5 1173.4,516.3 1177.3,515.0 1180.7,512.5 1184.4,510.1 1187.8,507.3 1192.0,505.5 1195.9,503.3 1199.1,500.1 1203.1,498.1M1147.6,533.1 1151.2,531.9 1155.0,532.1 1158.6,531.0 1162.4,530.5 1166.1,529.6 1169.7,530.8 1173.6,532.1 1177.2,533.4 1180.9,534.8 1184.8,534.9 1188.2,536.7 1190.8,534.3 1193.5,531.8 1196.2,529.5 1199.2,527.4 1202.9,526.1 1206.8,525.9 1210.3,527.8 1214.4,528.8 1217.7,531.4 1220.8,535.6 1225.2,538.6 1228.6,540.9 1232.2,543.0 1236.2,544.3 1240.1,545.7 1243.4,548.4 1247.3,549.8 1250.9,551.4 1254.8,552.0 1258.4,553.4 1262.1,553.4 1265.9,553.5 1269.5,553.0 1273.2,552.2 1276.9,552.0 1280.6,551.6 1284.3,551.2 1288.0,551.8 1291.9,550.5 1296.1,550.7 1300.0,549.5M1151.3,655.0 1153.7,658.2 1156.7,660.6 1159.4,664.5 1162.1,668.2 1163.5,672.0 1165.7,675.5 1169.4,679.4 1173.3,682.9 1175.7,678.7 1179.0,675.4 1176.0,671.8 1173.2,668.2 1168.7,666.5 1164.1,664.6 1161.5,661.5 1158.7,658.7 1155.2,656.5 1151.3,655.1M1175.3,655.0 1180.8,653.1 1180.6,658.0 1179.3,662.5 1176.0,659.3 1174.9,655.2M1204.8,728.9 1209.4,727.7 1214.1,727.0 1217.5,729.5 1221.4,730.9 1219.5,734.4 1217.9,738.2 1214.6,741.1 1210.3,741.6 1206.7,743.8 1204.7,740.1 1203.0,736.3 1203.7,732.6 1205.0,729.0M1184.5,756.7 1188.5,756.2 1192.2,755.1 1195.6,753.1 1199.9,755.7 1204.8,756.8 1208.6,760.3 1212.4,763.9 1213.4,767.7 1213.8,771.4 1214.3,775.1 1215.9,778.6 1217.8,782.0 1218.0,786.0M1164.2,775.1 1167.0,772.8 1169.9,770.7 1173.4,769.5 1176.9,767.7 1180.6,766.3 1184.5,765.9 1188.2,767.8 1191.8,769.8 1187.9,772.9 1184.4,776.9 1181.0,778.1 1178.0,780.1 1175.1,782.2 1171.6,780.0 1167.7,777.9 1164.2,775.2M1278.8,522.0 1281.7,518.8 1284.6,515.6 1287.9,512.7 1290.4,508.8 1293.5,505.4 1296.8,501.7 1300.0,498.0M1288.0,516.5 1291.4,520.5 1295.3,523.9 1300.1,527.5M900.0,913.5 903.3,910.2 907.5,908.1 911.4,906.7 915.0,904.6 919.3,901.4 922.5,897.2 926.3,895.9 929.6,893.2 926.8,896.9 924.3,900.7 927.4,898.0 931.4,896.7 932.7,892.9 934.3,889.0 936.6,885.6 939.7,881.2 944.1,878.2 945.9,875.1 947.9,872.1 949.7,869.0 952.1,865.9 954.5,862.8 957.1,859.8 959.6,855.5 961.1,850.7 958.8,847.8 957.5,844.4 955.4,841.4 955.5,836.8 955.2,832.2 959.1,828.5 963.1,825.0 966.7,823.4 970.3,821.2 974.0,821.8 977.5,823.2 982.2,823.8 986.8,824.9 991.6,823.2 996.0,820.8 999.8,821.6 1003.5,822.4 1007.2,822.9 1010.5,825.4 1014.5,826.8 1018.3,828.5 1021.9,829.5 1025.6,830.0 1029.3,830.3 1032.9,831.8 1036.6,833.1 1040.4,834.0 1044.2,837.6 1047.6,841.6 1049.1,844.8 1050.8,848.0 1053.0,850.9 1049.0,848.4 1044.2,848.1 1043.6,852.9 1045.6,856.3 1050.2,859.0 1055.0,860.3 1057.4,863.3 1060.5,865.7 1057.9,869.1 1054.9,872.6 1051.2,875.2 1047.8,878.4 1045.2,882.2 1042.0,885.6 1040.4,890.4 1038.5,895.0 1034.9,896.9 1032.8,900.3 1032.4,904.2 1031.6,907.9 1032.6,911.6 1030.8,914.5 1029.0,917.6 1027.6,920.9 1024.4,924.2 1022.3,928.1 1020.1,932.0 1016.8,936.0 1012.8,939.4 1010.2,942.4 1008.0,945.7 1005.2,948.5 999.7,952.1 996.0,955.9M900.0,978.1 903.9,975.6 907.3,972.4 912.0,970.7 916.7,969.0 919.4,965.5 922.6,962.6 925.9,959.7 929.4,961.9 933.2,963.5 936.9,964.9 940.6,965.9 944.2,967.4 948.0,966.4 951.8,966.2 955.4,965.2 959.0,963.7 962.9,963.1 966.6,961.6 970.2,962.2 974.0,962.3 977.6,963.5 981.4,963.2 985.1,964.2 988.7,965.1 992.6,963.7 996.4,962.2 999.8,959.7 1000.9,955.6 1003.5,952.3M918.5,896.9 922.3,895.3 925.8,892.9 927.6,889.4 929.5,885.8 931.6,889.4 933.2,893.2 930.6,896.9 927.9,900.7 923.0,898.9 918.4,897.0M985.0,994.8 988.7,992.0 992.4,989.3 996.2,994.7 1000.0,996.3 1003.6,998.2 1007.3,998.5 1010.9,997.6 1014.6,997.0 1018.3,999.4 1022.1,1002.0 1023.8,1005.6 1024.1,1009.5 1021.2,1013.4 1018.3,1017.0 1013.6,1017.6 1009.0,1018.8 1004.5,1020.2 999.8,1020.8 996.3,1017.6 992.3,1015.1 986.8,1011.4 985.7,1007.8 984.9,1004.0 984.3,999.4 984.5,994.8M1099.5,882.1 1102.8,878.0 1106.8,874.6 1110.4,871.6 1114.4,869.2 1118.0,870.3 1121.6,871.4 1121.7,874.9 1123.5,878.4 1118.0,882.0 1120.2,885.6 1121.6,889.5 1125.7,890.6 1129.2,893.0 1123.8,897.2 1121.6,899.9 1119.7,902.9 1118.0,906.1 1115.1,903.5 1112.2,900.8 1110.0,897.2 1108.4,893.3 1103.0,889.9 1100.6,886.2 1099.3,882.2M1195.6,830.3 1201.2,832.1 1202.5,836.7 1203.0,841.4 1203.8,845.1 1204.8,848.7 1205.2,852.5 1206.7,855.5 1208.3,858.7 1210.0,861.8 1210.5,865.4 1212.5,869.4 1215.3,872.8 1217.9,876.5 1221.1,880.6 1225.0,884.1 1228.8,885.2 1232.5,885.9 1234.2,889.6 1229.7,891.1 1225.2,893.2 1220.5,891.5 1215.9,889.5 1214.2,885.3 1210.6,882.4 1208.4,878.5 1206.0,875.0 1204.4,871.2 1202.4,867.6 1201.2,864.2 1199.6,861.1 1198.2,857.9 1197.5,854.4 1197.2,850.0 1196.3,845.7 1195.4,841.5 1194.7,837.7 1195.1,834.0 1195.4,830.3M1221.5,786.0 1225.2,788.4 1228.9,790.9 1232.7,793.2 1234.1,797.2 1236.5,800.7 1238.4,804.3 1240.8,808.3 1243.7,811.8 1247.2,808.8 1251.0,806.2 1251.8,810.2 1254.1,813.5 1254.7,817.4 1251.0,820.1 1247.4,823.1 1246.0,826.3 1243.7,829.2 1242.1,832.4 1237.5,834.8 1232.6,835.9 1235.7,840.2 1239.9,843.3 1243.9,846.7 1247.3,850.7 1250.4,854.3 1254.7,856.2 1258.4,856.9 1262.0,857.9 1265.8,858.3 1271.3,856.0 1268.5,858.9 1265.1,861.0 1262.0,863.5 1259.1,865.6 1256.3,867.9 1253.4,870.0 1250.9,872.7 1246.6,875.8 1243.5,880.1 1247.3,881.5 1251.0,882.2 1252.9,885.8 1254.5,889.6 1251.3,893.5 1247.4,896.9 1245.7,900.0 1243.9,903.2 1241.8,906.1 1239.1,909.0 1236.8,912.2 1234.4,915.3 1230.9,911.5 1230.5,915.4 1229.3,919.0 1228.5,922.7 1227.8,926.5 1226.6,930.2 1225.2,933.8 1223.3,937.4 1221.2,940.8 1218.0,943.2 1214.5,948.8M1247.3,828.5 1251.8,829.4 1256.0,830.8 1260.3,832.1 1264.5,833.9 1269.1,834.1 1273.2,835.8 1277.1,836.7 1280.7,838.1 1284.3,839.5 1288.5,842.7 1291.7,846.9 1290.3,851.8 1288.0,856.2 1286.4,852.6 1285.2,848.9 1284.0,845.2 1280.6,843.3 1277.0,841.3M1214.1,948.6 1210.5,947.0 1206.8,945.8 1203.1,944.7 1199.3,944.7 1195.6,944.5 1191.9,944.1 1188.2,944.8 1184.5,945.3 1180.7,944.9 1177.0,945.5 1173.5,946.9 1169.7,946.2 1166.0,945.5 1162.3,945.0 1159.1,947.5 1155.1,948.8 1152.3,951.5 1149.3,954.2 1147.3,957.6 1144.6,960.5 1141.9,963.4 1140.2,967.1 1138.8,971.0 1137.1,974.8 1134.7,978.2 1133.0,981.4 1130.8,984.2 1129.0,987.3 1129.2,991.2 1130.8,994.7 1131.1,998.4 1131.1,1002.4 1128.9,1005.8 1127.6,1009.4 1127.1,1013.2 1125.4,1016.7 1125.4,1020.8 1123.6,1024.4 1122.1,1027.6 1119.7,1030.4 1117.9,1033.5 1115.3,1037.3 1112.5,1041.0 1109.5,1044.5 1106.8,1048.2 1105.6,1052.0 1105.0,1055.9 1103.2,1059.4 1104.7,1063.1 1105.8,1066.8 1107.2,1070.4 1110.6,1074.1M1214.1,948.6 1218.6,950.8 1223.3,952.5 1225.1,956.7 1228.8,959.8 1225.3,961.8 1221.6,963.6 1217.6,963.2 1214.0,961.8 1209.9,964.5 1204.9,965.4 1200.2,966.0 1195.7,967.4 1199.3,967.9 1202.9,969.3 1206.7,970.0 1210.3,971.1 1213.8,974.7 1217.8,978.1 1221.6,978.2 1225.2,977.3 1228.9,976.5 1227.2,972.5 1225.4,968.8 1229.7,968.4 1233.8,966.6 1238.2,965.6M1166.1,994.8 1170.0,994.7 1173.5,993.1 1178.7,997.0 1177.2,1000.1 1176.1,1003.7 1176.8,1007.7 1175.2,1011.2 1174.7,1015.1 1173.5,1018.8 1175.2,1022.3 1176.9,1025.9 1177.3,1029.8 1181.7,1032.7 1184.8,1037.0 1188.3,1037.9 1192.0,1038.9 1195.3,1036.6 1198.9,1034.6 1202.8,1033.2 1206.0,1031.0 1209.0,1028.4 1212.2,1026.1 1217.7,1024.0 1217.0,1028.1 1214.6,1030.8 1212.5,1033.7 1210.1,1037.2 1206.7,1039.3 1203.1,1041.1 1199.9,1045.2 1195.9,1048.6 1193.5,1051.7 1190.9,1054.7 1188.2,1057.5 1186.8,1062.4 1184.4,1066.8 1180.8,1070.4 1177.1,1074.0M1166.1,994.8 1165.5,999.1 1164.9,1003.4 1164.3,1007.7 1163.2,1011.4 1161.9,1015.0 1161.3,1018.8 1160.5,1022.5 1160.4,1026.9 1159.7,1031.2 1158.8,1035.4 1159.5,1039.8 1160.8,1044.1 1162.0,1048.5 1165.7,1050.9 1169.7,1052.1 1172.7,1056.5 1176.7,1059.9 1174.9,1062.8 1174.1,1066.4 1173.5,1070.2 1173.1,1074.0M900.0,791.5 903.6,794.4 907.6,796.8 912.0,795.3 916.6,793.3 919.3,797.0 921.4,800.9 923.9,804.6 922.2,808.2 920.2,811.8 918.3,815.5 915.0,812.4 911.1,810.0 907.5,811.2 903.8,811.9 900.0,812.0M933.3,793.4 937.9,791.7 942.4,789.5 944.7,793.8 947.7,797.3 951.2,801.3 955.4,804.5 959.1,802.7 962.8,800.7 966.2,797.9 969.7,795.1 973.7,793.1 978.5,792.4 983.2,791.8 986.4,794.9 990.3,797.4 993.3,800.8 996.0,804.5 1000.0,804.4 1003.6,803.0 1006.2,807.3 1010.4,810.5 1012.8,814.3 1016.1,817.6M948.0,786.0 950.9,789.6 953.6,793.4 952.8,797.1 951.8,800.8M924.0,817.4 927.8,815.7 931.4,813.7 934.0,817.6 936.8,821.2 933.6,824.3 931.3,828.4 927.7,826.7 924.1,824.7 923.7,821.1 923.9,817.4M1021.9,1107.3 1025.5,1105.7 1029.3,1105.2 1032.7,1102.3 1036.6,1099.7 1042.3,1101.7 1044.0,1097.1 1045.9,1092.5 1046.9,1088.8 1048.0,1085.2 1047.9,1081.4 1045.9,1077.7 1044.3,1073.9M1053.3,1074.0 1054.7,1078.8 1057.2,1083.2 1059.8,1086.5 1061.1,1090.4 1063.4,1087.7 1066.1,1084.9 1066.1,1081.3 1064.5,1077.8 1064.3,1074.0M1021.9,1107.3 1021.4,1112.0 1019.9,1116.4 1018.8,1120.1 1018.2,1123.9 1021.9,1124.6 1025.6,1125.2 1029.3,1125.7 1033.7,1123.3 1038.5,1121.8 1042.1,1119.0 1045.9,1116.4 1048.2,1121.9 1050.7,1125.6 1053.4,1129.4 1057.3,1130.7 1060.8,1133.1 1064.4,1133.8 1068.2,1134.0 1071.8,1134.9 1075.5,1134.4 1079.3,1134.0 1083.0,1133.5 1086.2,1130.9 1089.4,1128.6 1092.2,1125.8 1095.9,1120.2M1047.8,1138.7 1051.4,1137.7 1055.2,1137.3 1058.9,1136.9 1062.5,1138.2 1066.2,1138.3 1070.0,1138.8 1073.7,1138.4 1077.4,1137.7 1081.1,1136.9 1084.7,1134.9 1088.4,1133.0 1094.1,1129.6 1098.8,1128.0 1103.5,1126.3 1107.4,1123.7 1110.3,1120.5 1112.9,1117.0 1116.1,1115.6 1119.0,1113.3 1122.0,1111.4 1124.9,1109.1 1127.5,1106.6 1130.5,1104.6 1133.1,1102.0 1136.8,1099.4 1140.3,1096.4 1143.7,1098.4 1147.5,1100.1 1151.4,1101.5 1154.8,1100.0 1158.7,1099.5 1162.4,1098.1 1165.9,1095.3 1169.6,1092.9 1173.4,1090.5 1177.2,1090.1 1180.8,1089.3 1184.6,1088.9 1187.7,1085.4 1190.0,1081.3 1190.7,1077.6 1192.2,1074.1M1049.7,1153.4 1053.7,1152.3 1057.1,1149.8 1061.7,1148.9 1066.3,1148.1 1071.9,1144.3 1069.5,1147.7 1068.0,1151.5 1064.4,1153.4 1060.7,1155.3 1057.0,1155.8 1053.3,1155.4 1057.2,1160.7 1060.5,1163.1 1064.4,1164.6 1067.0,1168.4 1070.2,1171.7 1071.9,1176.5 1073.7,1181.1 1073.1,1184.9 1072.0,1188.6 1066.4,1190.8 1061.4,1189.2 1057.0,1186.9 1052.5,1185.4 1047.8,1184.9 1044.1,1185.8 1040.4,1185.5 1036.7,1184.8 1033.0,1184.2 1029.2,1184.5 1025.6,1183.2 1022.3,1185.5 1018.2,1186.7 1016.4,1190.4 1014.8,1194.2 1016.1,1198.7 1015.0,1203.3 1013.3,1207.3 1011.2,1210.9 1012.9,1214.1 1013.0,1218.0 1010.7,1223.6 1015.3,1225.5 1020.0,1225.8 1024.5,1228.0 1029.4,1229.0 1033.2,1234.6 1036.8,1234.1 1040.5,1233.1 1044.2,1233.0 1047.9,1232.2 1051.5,1231.3 1055.2,1231.2 1058.9,1230.8 1062.6,1231.2 1066.5,1229.6 1070.0,1227.4 1073.7,1224.3 1075.7,1220.1 1078.0,1216.6 1079.1,1212.5 1082.3,1210.1 1084.6,1206.8 1088.3,1204.0 1092.2,1201.5 1096.3,1199.3 1099.7,1196.2 1103.3,1192.4 1108.0,1190.7 1112.6,1188.9 1117.2,1187.1 1121.8,1185.0 1125.3,1183.4 1129.0,1182.1 1132.8,1181.1 1136.6,1180.5 1140.2,1179.3 1144.0,1179.7 1147.6,1180.9 1146.4,1185.2 1143.9,1188.5 1140.3,1194.2M1071.8,1144.2 1074.8,1141.6 1077.2,1138.5 1081.3,1137.2 1084.8,1135.0M1164.2,1166.4 1167.9,1165.4 1171.7,1164.8 1175.0,1166.9 1178.9,1168.3 1181.8,1171.0 1184.6,1173.7 1188.5,1175.1 1191.9,1177.5 1195.4,1179.7 1199.4,1181.0 1202.7,1183.6 1206.8,1184.7 1210.8,1188.2 1214.3,1192.1 1209.8,1195.0 1204.9,1196.1 1200.9,1194.6 1197.4,1192.4 1192.4,1191.6 1188.1,1188.8 1184.2,1187.3 1180.7,1185.2 1176.9,1182.3 1173.3,1179.5 1170.3,1176.9 1167.8,1173.9 1165.8,1170.2 1164.3,1166.3M1203.0,1192.2 1201.3,1196.0 1199.2,1199.6 1197.6,1203.4 1195.6,1207.0 1191.7,1208.5 1188.2,1210.8 1183.7,1212.0 1179.0,1212.5 1175.3,1214.5 1179.8,1216.0 1184.4,1216.7 1188.2,1217.0 1191.9,1216.4 1195.6,1216.6 1199.3,1210.7M1143.9,1188.5 1147.5,1194.1 1147.1,1197.9 1145.9,1201.5 1151.3,1203.2 1153.2,1206.8 1153.5,1210.6 1147.9,1214.9 1141.7,1211.1 1141.3,1206.1 1141.5,1201.5 1141.1,1196.9 1143.0,1192.8 1143.7,1188.5M1033.0,1236.6 1036.7,1237.8 1040.4,1239.0 1044.2,1240.1 1048.4,1240.2 1052.7,1240.7 1057.0,1240.4 1061.3,1239.1 1065.6,1238.5 1069.9,1238.2 1073.4,1236.3 1077.0,1235.2 1080.6,1233.9 1084.6,1234.0 1088.2,1232.7 1091.9,1231.9 1095.4,1230.1 1099.5,1230.7 1103.2,1230.5 1106.9,1229.6 1110.6,1229.4 1114.3,1229.2 1118.1,1229.2 1121.8,1228.9 1125.5,1228.4 1129.1,1227.5 1132.9,1227.0 1136.5,1225.6 1140.0,1223.7 1143.9,1223.6 1148.3,1223.6 1152.6,1222.8 1156.8,1221.6 1160.2,1224.0 1162.4,1227.3 1161.4,1231.0 1160.8,1234.8 1162.4,1240.3 1166.2,1240.2 1169.7,1241.5 1173.4,1242.2 1177.8,1242.0 1182.0,1240.8 1186.4,1240.3 1190.6,1239.4 1195.0,1239.2 1199.3,1238.5 1203.0,1239.8 1206.7,1240.9 1210.5,1241.7 1214.7,1241.8 1219.0,1241.9 1223.3,1241.7 1226.9,1240.7 1230.7,1239.5 1234.4,1238.4 1238.1,1237.4 1241.7,1236.2 1243.4,1232.7 1245.5,1229.2 1249.1,1226.3 1253.0,1223.8 1255.9,1221.6 1259.3,1220.4 1262.1,1218.0 1265.8,1216.8 1269.3,1215.1 1273.2,1214.5 1276.8,1213.0 1280.4,1211.4 1284.3,1210.7 1288.2,1209.8 1292.2,1209.1 1296.1,1208.0 1300.0,1207.1M1033.0,1236.6 1030.1,1239.2 1026.2,1240.7 1023.7,1243.8 1020.1,1244.6 1016.4,1245.1 1012.7,1245.9 1009.6,1247.6 1006.8,1249.9 1003.8,1251.9 1001.1,1255.4 998.1,1258.9 993.5,1261.0 988.9,1262.9 985.2,1264.5 981.2,1264.7 977.7,1266.5 973.9,1266.6 970.1,1266.9 966.5,1268.2 963.1,1270.3 959.4,1272.2 955.3,1273.4 951.6,1274.3 948.0,1276.0 944.3,1277.2 940.7,1278.6 936.9,1279.6 933.2,1280.7 927.7,1282.9 929.7,1286.4 931.4,1290.2 933.3,1295.7 930.6,1298.6 927.5,1301.1 922.1,1302.8 923.0,1307.3 925.6,1310.6 929.1,1313.3 933.0,1314.8 937.0,1316.0 940.3,1317.1 943.2,1319.2 946.3,1321.0 949.9,1321.5 953.0,1323.3 956.5,1323.9 959.9,1324.9 962.9,1326.8 966.7,1327.7 970.0,1330.0 973.8,1331.0 977.6,1331.6 981.5,1331.6 985.0,1332.9 988.7,1333.5 992.4,1334.2 996.2,1334.6 999.8,1336.0 1003.5,1336.7 1007.1,1337.9 1010.9,1338.1 1014.5,1339.0 1018.2,1339.2 1021.9,1339.9 1025.6,1339.6 1029.3,1340.2 1033.0,1340.1 1036.7,1339.9 1040.4,1340.6 1044.1,1340.1 1047.8,1340.6M1214.1,1192.2 1217.6,1194.5 1221.4,1196.0 1225.5,1194.6 1228.9,1192.2 1232.6,1190.6 1236.3,1188.6 1237.8,1185.1 1240.4,1182.3 1241.9,1178.9 1243.8,1175.7 1247.2,1173.4 1251.0,1171.8 1254.5,1169.6 1258.6,1168.5 1263.0,1167.0 1267.6,1166.2 1271.3,1163.5 1275.0,1160.7 1273.4,1156.4 1272.9,1151.7 1272.2,1147.0 1271.2,1142.4 1272.6,1138.0 1274.3,1133.9 1274.9,1129.4 1275.6,1125.7 1276.2,1122.0 1276.7,1118.3 1280.9,1115.0 1284.4,1111.1 1289.0,1109.3 1293.6,1107.3 1299.9,1109.5M1243.6,1175.6 1245.7,1179.2 1247.3,1183.0 1251.0,1184.0 1254.7,1184.9 1258.4,1184.9 1262.1,1184.8 1256.7,1188.8 1251.4,1192.7 1248.4,1195.2 1245.6,1197.9 1250.3,1198.0 1254.8,1199.4 1252.3,1196.3 1251.1,1192.2M1273.2,1170.1 1277.0,1168.5 1280.6,1166.4 1284.7,1165.3 1288.1,1162.9 1291.8,1160.1 1295.4,1157.1 1300.1,1155.5M1269.5,1177.5 1274.1,1178.5 1278.8,1179.2 1282.6,1180.0 1286.5,1180.7 1290.0,1182.7 1293.2,1181.1 1297.0,1180.0 1300.1,1177.6M1361.0,439.1 1364.0,436.3 1367.5,434.0 1370.3,430.9 1373.9,432.0 1377.4,433.9 1381.2,434.8 1384.3,438.2 1387.9,441.1 1392.0,443.3 1395.2,446.4 1399.3,447.4 1403.2,448.8 1405.6,451.4 1408.8,453.2 1412.0,455.0 1414.6,457.5 1418.8,459.1 1422.2,462.1 1425.8,464.7 1429.4,466.1 1433.1,467.3 1436.7,468.9 1441.3,470.5 1445.9,472.4 1444.0,475.4 1442.5,478.5 1441.4,481.9 1440.3,485.2 1436.7,481.6 1433.1,477.8 1429.4,475.9 1425.7,474.0 1422.1,472.1 1418.2,470.6 1414.6,468.6 1410.8,467.0 1407.4,465.3 1404.5,463.2 1401.9,460.7 1399.4,458.1 1396.0,455.8 1392.1,454.5 1388.7,452.1 1384.9,451.1 1381.6,448.7 1377.7,448.2 1373.9,447.5 1370.2,446.9 1366.5,448.0 1363.1,449.7 1360.1,451.6 1357.1,453.5 1353.0,454.6 1349.9,457.6 1347.9,454.0 1346.5,450.1 1350.5,447.1 1353.6,442.8 1357.3,441.0 1360.9,439.0M1305.5,450.2 1310.3,448.6 1314.8,446.5 1319.2,447.4 1323.6,448.2 1327.7,450.3 1331.0,451.7 1333.9,453.8 1336.9,455.8 1341.3,453.8 1344.5,450.5 1342.0,453.7 1340.3,457.4 1338.6,461.2 1335.3,463.2 1332.7,466.3 1329.4,468.4 1326.1,466.9 1322.5,465.1 1318.6,464.7 1315.6,462.2 1312.0,460.4 1309.1,457.8 1307.3,453.9 1305.3,450.3M1300.0,483.4 1303.4,479.4 1307.4,476.0 1310.7,472.0 1314.8,468.7 1319.3,467.4 1324.0,466.6 1326.5,470.8 1329.3,474.4 1326.6,476.9 1324.2,480.0 1321.9,483.2 1318.2,485.5 1314.4,487.9 1310.9,490.6 1307.0,494.0 1303.6,498.0M1325.9,498.0 1329.5,497.0 1333.3,496.5 1336.9,495.1 1340.7,494.7 1344.3,493.3 1348.0,492.7 1352.4,493.5 1356.7,494.4 1361.0,495.3M1429.3,495.5 1433.1,495.9 1436.7,497.5 1440.5,497.8M1361.0,503.5 1363.9,501.5 1367.4,500.3 1370.2,498.0M1379.4,503.5 1382.3,506.3 1384.9,509.3 1388.7,510.9 1392.4,512.2 1396.2,512.9 1399.8,514.4 1403.5,514.7 1407.3,515.3 1410.9,516.2 1414.7,518.0 1418.5,519.7 1422.0,522.0 1421.7,517.6 1422.8,513.3 1423.4,509.0 1425.1,505.1 1426.8,501.3 1429.1,497.9M1436.7,516.5 1439.4,513.6 1442.8,511.4 1446.0,509.1 1451.5,507.2 1449.5,510.4 1448.1,513.9 1446.0,517.0 1443.9,520.0 1441.0,523.5 1439.6,527.9 1436.9,531.3 1433.2,535.2 1436.5,538.8 1440.3,542.5 1442.6,546.2 1444.9,550.0 1447.7,553.5 1444.1,555.3 1440.5,557.3 1440.5,562.7 1444.6,563.5 1448.2,565.6 1451.5,568.2 1455.0,569.4 1458.0,571.3 1460.7,573.8 1464.3,576.7 1468.1,579.3 1467.6,575.6 1467.2,571.9 1468.1,568.2 1465.7,565.4 1464.6,562.0 1462.5,559.0 1462.0,554.3 1460.8,549.7 1457.1,544.2 1459.4,547.5 1462.6,549.9 1466.1,551.8 1469.0,554.0 1472.5,555.2 1475.3,557.5 1478.9,553.9 1481.3,549.9 1483.8,545.5 1485.2,540.7 1487.3,536.2 1488.7,531.3 1494.0,527.6M1482.9,535.0 1485.6,531.5 1488.8,528.5 1491.9,525.5 1496.8,526.2 1501.4,527.4 1505.1,529.3 1509.1,530.6 1512.4,533.2 1515.4,535.7 1518.4,538.4 1521.5,540.8 1524.0,543.4 1526.8,545.6 1529.9,547.5 1532.6,549.9 1535.5,553.2 1539.0,555.8 1541.9,559.1 1544.3,562.8 1547.4,566.1 1549.4,570.1 1551.5,574.0 1553.9,577.7 1556.7,581.2 1559.0,584.5 1561.5,587.5 1564.1,590.5 1567.9,594.1 1571.8,597.6 1574.4,601.4 1576.9,605.4 1577.7,609.0 1578.8,612.6 1573.6,608.7 1574.7,613.4 1575.1,618.1 1576.8,621.4 1579.1,624.2 1580.8,627.3 1582.5,630.7 1584.6,633.8 1585.4,637.6 1587.8,640.5 1589.8,636.2 1590.8,632.1 1591.3,627.9 1591.8,623.6 1592.2,619.9 1591.8,616.2 1592.7,612.5 1592.1,608.9 1595.5,606.0 1599.4,603.4 1600.8,608.1 1603.2,612.5 1604.6,616.2 1606.1,619.8 1606.9,623.7 1608.5,627.4 1609.2,631.0 1609.7,634.8 1610.2,638.5 1610.8,642.3 1611.7,645.9 1611.8,649.6 1612.4,653.3 1613.1,656.9 1613.4,660.6 1614.0,664.3 1614.2,668.0 1613.8,671.8 1614.6,675.4 1614.4,679.2 1615.4,682.8 1616.7,686.5 1619.7,688.9 1621.3,692.1 1623.2,695.8 1625.1,699.4 1620.9,701.4 1617.7,704.8 1615.8,707.9 1614.2,711.1 1612.0,714.1 1612.5,717.9 1612.9,721.6 1614.0,725.3 1615.1,728.9 1615.9,732.5 1616.1,736.3 1612.3,740.1 1608.6,743.8 1607.6,747.1 1606.3,750.4 1605.0,753.7 1603.0,756.7 1601.8,760.7 1599.9,764.4 1597.9,768.0 1598.6,771.6 1597.8,775.2 1596.9,778.8 1597.1,782.5 1595.7,786.0M1510.6,516.5 1514.2,514.9 1517.9,513.5 1521.8,515.8 1525.5,518.2 1523.3,523.8 1519.8,523.5 1516.2,522.7 1513.2,519.8 1510.6,516.5M1530.9,501.7 1535.2,499.0 1540.1,497.7 1544.8,500.8 1547.8,505.1 1546.3,509.4 1544.4,513.0 1539.7,511.9 1536.3,509.4 1533.0,506.0 1530.9,501.7M1595.6,786.0 1595.9,789.9 1597.4,793.4 1598.2,797.1 1598.9,800.9 1600.6,804.5 1601.0,808.6 1603.5,811.8 1604.5,815.7 1605.7,819.7 1606.7,823.9 1607.7,828.0 1608.5,832.2 1609.5,836.3 1610.5,840.5 1611.5,844.6 1612.1,848.8 1612.3,853.0 1613.6,857.1 1614.0,861.2 1614.1,865.4 1612.8,870.0 1611.9,874.6 1617.7,876.7 1620.1,879.7 1623.3,882.1 1623.5,878.3 1624.9,874.7 1625.2,871.0 1627.8,867.2 1630.8,863.7 1630.5,867.4 1629.1,870.9 1628.6,874.6 1625.7,878.1 1623.5,882.2 1623.3,885.8 1622.7,889.5 1622.3,893.2 1621.4,896.8 1619.7,900.3 1619.4,904.2 1617.8,907.7 1617.3,911.5 1614.5,914.8 1612.4,918.7 1610.1,922.5 1607.5,924.9 1604.9,927.4 1601.4,928.9 1599.1,931.7 1595.5,933.6 1591.7,935.3 1588.3,937.7 1584.7,939.2 1580.9,939.1 1577.3,940.0 1573.5,939.6 1576.3,942.5 1577.5,946.5 1576.2,951.7 1573.3,955.9 1571.1,958.8 1569.5,962.0 1567.8,965.2 1566.6,960.4 1564.6,955.8 1564.2,959.8 1565.1,963.4 1566.1,967.1 1562.0,970.4 1558.6,974.4 1555.9,976.8 1552.9,978.8 1549.6,980.3 1546.4,984.4 1542.2,987.5 1540.5,991.0 1538.8,994.5 1538.2,998.4 1536.7,1002.1 1535.1,1005.7 1533.3,1009.2 1532.4,1013.1 1530.3,1016.0 1528.5,1019.1 1527.6,1022.5 1526.8,1026.0 1524.2,1029.3 1523.6,1033.6 1521.6,1037.2 1520.1,1041.0 1517.8,1044.2 1514.6,1046.8 1511.2,1050.7 1507.0,1054.0 1503.9,1057.6 1499.8,1059.8 1497.4,1063.6 1494.2,1067.0 1493.5,1071.1 1490.7,1074.2M1499.5,1061.3 1503.3,1062.0 1506.9,1063.1 1510.4,1060.4 1512.5,1056.4 1516.2,1054.0 1519.6,1051.9 1522.1,1048.7 1525.5,1046.6 1526.4,1050.6 1528.7,1054.1 1526.1,1058.0 1525.1,1063.0M1399.8,1013.3 1395.9,1013.4 1392.4,1012.1 1388.6,1011.7 1385.9,1013.7 1382.5,1015.1 1379.4,1016.9 1377.9,1020.2 1375.7,1023.1 1373.9,1026.2 1372.4,1029.8 1371.6,1033.6 1370.3,1037.3 1369.1,1041.0 1367.0,1044.4 1366.3,1048.3 1368.2,1052.1 1370.0,1055.8 1374.9,1057.4 1379.5,1059.4 1383.2,1059.5 1387.0,1059.8 1390.6,1061.1 1395.2,1059.7 1399.9,1057.8 1402.4,1060.6 1405.1,1063.3 1407.8,1066.5 1409.1,1070.5 1414.5,1074.0M1399.8,1013.3 1396.3,1017.2 1392.4,1020.7 1389.6,1024.9 1388.7,1029.9 1387.8,1033.6 1386.7,1037.2 1391.5,1036.8 1396.1,1035.4 1400.6,1034.1 1405.3,1033.5 1409.9,1032.4 1414.5,1031.7 1418.2,1029.8 1421.8,1027.7 1422.7,1031.7 1422.6,1035.4 1418.5,1041.1 1421.9,1040.0 1425.5,1039.1 1429.3,1038.8 1433.5,1041.3 1436.7,1044.6 1442.4,1046.2 1440.4,1050.2 1438.8,1054.0 1437.7,1058.9 1434.9,1063.2 1431.6,1067.2 1427.4,1070.5 1423.7,1072.0 1420.0,1073.8M1414.5,967.1 1418.3,972.6 1421.7,970.9 1425.6,970.7 1428.5,973.4 1431.4,976.1 1431.0,980.9 1431.5,985.5 1429.8,988.9 1427.4,991.6 1425.6,994.8 1421.9,993.0 1418.3,990.9 1416.0,987.0 1412.9,983.6 1413.6,979.6 1413.5,975.4 1413.9,971.2 1414.6,967.1M1300.0,1116.5 1303.3,1114.8 1306.1,1112.6 1308.8,1110.2 1311.1,1107.3 1314.7,1105.3 1318.5,1103.7 1322.0,1101.4 1325.7,1100.1 1329.7,1099.7 1333.2,1097.9 1336.9,1096.3 1340.9,1095.6 1344.4,1093.5 1348.0,1092.5 1351.7,1092.4 1355.4,1092.3 1357.4,1098.0 1355.4,1101.7 1353.4,1105.3 1349.2,1107.3 1346.0,1110.7 1343.2,1113.0 1340.2,1115.0 1336.9,1116.3 1333.4,1118.6 1329.8,1120.6 1326.0,1122.4 1322.5,1124.6 1318.6,1126.0 1314.8,1127.7 1311.4,1129.6 1308.4,1132.2 1305.5,1135.0 1302.7,1137.6 1299.9,1140.4M1300.0,1101.7 1302.1,1098.3 1305.3,1095.9 1307.7,1092.7 1310.4,1089.8 1312.5,1086.4 1314.8,1083.2 1318.5,1079.6 1318.3,1084.2 1318.3,1088.8 1316.4,1092.2 1313.2,1094.6 1310.8,1097.8 1307.0,1101.4 1303.6,1105.3M1300.0,1173.8 1303.2,1170.4 1307.2,1167.9 1310.9,1166.4 1314.7,1165.5 1318.4,1164.4 1321.2,1162.1 1324.1,1159.9 1327.6,1158.8 1330.0,1155.5 1333.6,1153.7 1336.8,1151.4 1340.0,1148.1 1343.4,1145.1 1345.7,1149.3 1347.9,1153.5 1348.5,1157.2 1349.6,1160.8 1349.8,1164.5 1350.2,1168.3 1349.4,1171.9 1349.4,1175.7 1347.1,1179.6 1344.6,1183.2 1341.1,1187.1 1336.8,1190.3 1333.6,1191.9 1330.7,1193.9 1327.6,1195.8 1324.8,1198.1 1321.1,1198.8 1318.4,1201.3 1313.7,1203.0 1309.1,1204.7 1304.4,1205.7 1300.0,1207.9M1339.7,1192.2 1343.9,1193.2 1348.0,1194.3 1351.7,1195.4 1355.5,1196.4 1359.2,1197.7 1362.9,1197.9 1366.4,1199.6 1370.2,1199.9 1374.8,1200.5 1379.4,1201.8 1383.2,1201.3 1386.8,1200.3 1390.6,1199.8 1396.0,1201.6 1399.7,1203.1 1403.5,1204.1 1407.0,1202.5 1410.6,1201.3 1414.5,1201.3 1418.3,1200.4 1422.0,1199.1 1425.7,1198.1 1429.7,1196.7 1433.5,1195.1 1436.7,1192.3 1439.7,1190.2 1442.7,1188.2 1445.8,1186.5 1449.3,1184.2 1453.2,1182.7 1458.9,1179.3M1357.3,1180.2 1357.8,1185.4 1358.8,1190.5 1361.0,1186.7 1365.4,1186.8 1369.7,1187.4 1373.9,1188.4 1377.5,1187.2 1381.2,1186.7 1384.9,1186.4 1388.8,1186.7 1392.6,1186.6 1396.1,1185.3 1400.2,1185.5 1403.6,1183.5 1406.4,1186.8 1410.6,1188.9 1414.5,1187.1 1418.1,1185.6 1421.8,1184.5 1425.3,1182.7 1429.2,1182.0 1433.1,1181.3 1436.8,1180.6 1440.5,1179.6 1444.1,1178.2 1447.9,1178.9 1451.5,1180.2 1457.0,1179.3M1458.9,1179.3 1461.7,1176.5 1463.8,1173.1 1466.5,1170.3 1468.9,1167.1 1471.5,1164.1 1473.8,1160.9 1476.9,1158.4 1478.4,1154.5 1480.9,1151.5 1483.7,1148.7 1486.5,1145.9 1488.6,1142.5 1491.7,1139.9 1493.7,1136.5 1495.8,1133.1 1497.7,1129.5 1500.1,1126.4 1503.0,1123.7 1505.2,1120.9 1506.8,1117.6 1508.7,1114.6 1510.4,1110.8 1512.2,1107.1 1514.3,1103.5 1516.3,1099.9 1517.7,1096.0 1519.8,1092.4 1520.4,1088.5 1521.9,1084.9 1523.4,1081.3 1523.9,1077.7 1524.3,1074.0M1442.3,1109.1 1443.5,1105.5 1444.1,1101.7 1447.6,1098.7 1451.4,1096.0 1456.0,1094.1 1460.7,1092.4 1465.0,1089.7 1470.0,1088.9 1473.1,1087.0 1476.4,1085.5 1479.3,1083.4 1483.1,1080.7 1486.6,1077.8 1492.3,1074.2M1442.3,1109.1 1446.8,1108.2 1451.5,1107.8 1455.8,1105.7 1460.7,1105.2 1465.3,1104.2 1470.0,1103.6 1473.6,1101.7 1477.4,1099.9 1481.3,1097.4 1484.8,1094.4 1487.4,1091.4 1490.4,1088.9 1492.7,1085.4 1494.2,1081.5 1494.9,1077.8 1495.2,1074.0M880.2,717.6 884.2,718.5 887.9,720.3 891.6,722.2 895.7,722.8 899.4,724.7 903.5,725.2 907.4,728.0 911.4,730.3 915.3,732.9 918.9,736.0 921.7,738.5 925.3,739.8 927.9,743.6 924.2,747.4 920.6,744.4 916.5,742.1 913.8,739.3 910.2,738.0 906.5,735.8 902.3,735.3 900.2,738.9 898.2,742.1 895.8,744.9 893.0,747.2 889.2,742.3 887.6,738.8 885.2,735.8 882.7,729.3 877.6,733.1 875.1,736.4 872.3,739.5 870.7,743.3 869.7,747.3 872.4,753.9 877.7,750.0 882.8,748.5 885.6,751.0 888.2,753.6 885.3,759.0 880.2,762.9 875.1,761.4 869.9,759.0 866.0,761.6M882.8,712.4 885.1,709.3 886.4,705.6 888.0,702.1 890.4,699.4 893.2,697.0 895.6,694.2 898.3,691.8 900.2,688.0 903.3,685.1 906.2,682.5 909.7,681.0 912.5,678.0 916.2,675.9 919.4,672.7 922.9,669.8 924.8,666.5 928.0,664.5 934.6,665.8 934.8,660.6 935.6,655.5 937.3,651.7 938.7,647.8 940.7,644.2 941.1,640.0M878.9,655.5 884.1,652.9 890.5,654.3 894.4,652.9 893.3,657.8 890.8,662.1 892.3,665.7 892.2,669.7 890.2,673.2 888.2,676.4 884.1,673.7 880.4,668.3 882.9,663.4 877.7,661.7 879.3,655.6M831.0,663.3 834.9,662.0 838.8,660.7 842.6,666.0 845.3,672.3 840.3,676.5 841.2,680.0 841.7,683.9 840.4,688.0 839.4,691.9 836.4,695.7 835.2,691.8 834.8,687.9 834.5,683.8 836.1,680.1 833.9,677.1 832.3,673.7 831.3,668.5 830.5,663.4M805.2,678.8 809.0,677.5 811.0,681.4 812.9,685.3 811.9,689.9 810.2,694.3 806.4,696.8 806.0,693.0 805.0,689.2 804.4,684.0 804.8,678.8M928.1,685.3 934.5,682.6 941.0,684.0 944.7,689.3 948.6,694.4 953.8,697.2 952.6,700.8 951.2,704.6 948.8,707.3 946.1,709.8 942.7,711.4 939.6,713.5 934.5,716.3 930.7,712.4 933.3,706.0 930.8,700.7 927.9,694.4 926.9,689.1 928.1,685.3M913.8,717.6 914.4,714.1 915.7,710.8 916.5,707.3 919.7,703.1 921.4,698.1 925.4,696.7 929.5,696.0M955.2,712.4 959.4,711.1 963.2,708.9 966.8,707.6 970.8,707.2 972.2,711.1 973.3,715.0 974.2,718.9 974.7,722.8 973.6,726.8 972.1,730.6 966.8,729.4 964.8,726.1 962.9,722.8 957.9,720.0 951.3,722.6 946.2,722.2 942.1,725.1 941.9,730.6 947.4,733.4 952.7,735.7 958.0,738.0 955.1,742.1 948.8,742.4 943.5,739.7 940.8,743.4M966.9,735.7 973.3,733.0 977.3,738.2 975.0,744.9 969.5,746.3 965.6,742.2 966.7,735.7M903.5,753.8 906.7,751.8 909.9,749.9 913.6,745.9 919.1,747.2 921.6,750.0 924.0,752.8 926.7,757.8 922.8,762.8 916.5,765.6 909.9,764.6 906.1,760.3 903.4,753.9M939.7,751.3 944.9,748.7 951.3,750.1 954.9,755.4 952.3,761.5 946.1,763.9 941.2,760.1 937.0,756.6 939.5,751.1M968.2,756.4 974.8,754.1 979.8,755.2 978.5,761.6 972.0,764.0 968.2,761.6 968.5,756.4M913.8,769.4 917.8,769.0 921.6,768.0 926.8,771.9 926.1,775.8 925.5,779.7 920.3,780.9 915.1,777.2 913.7,773.4 913.9,769.4M933.2,769.4 937.2,768.2 939.7,772.0 937.3,774.7 933.2,773.3 933.3,769.4M959.1,774.5 963.1,769.4 968.3,767.1M864.7,792.7 868.0,790.2 871.3,787.6 875.1,786.7 877.9,784.0 882.9,779.8 885.4,777.1 887.7,774.3 893.0,771.8 897.0,771.1 900.9,770.7 907.4,770.6M890.6,791.4 894.2,787.8 898.3,784.9 902.0,783.1 906.1,782.3 910.1,782.1 913.9,783.3 917.5,785.7 920.5,788.6 923.0,791.6 924.5,795.0 925.6,799.0 925.7,803.0 924.8,807.1 923.2,810.9 921.6,815.0 919.3,818.7 916.7,821.4 914.2,824.1 915.9,827.3 915.4,831.4 913.2,834.7 910.0,836.7 906.2,842.0M929.4,782.3 934.6,779.8 939.7,782.3 940.6,786.1 941.0,790.1 941.5,794.0 942.2,797.9 941.5,801.7 940.9,805.6 935.8,808.0 932.1,802.9 932.3,799.0 931.1,795.2 929.8,788.7 929.3,782.3M946.2,782.3 952.6,781.0 957.8,785.0 958.0,788.8 959.1,792.7 958.0,796.4 955.4,799.2 950.1,796.5 947.7,790.0 947.4,786.1 946.2,782.3M966.9,777.1 973.3,775.8 977.3,776.9 981.0,778.7 985.1,780.1 989.0,782.0 992.8,784.1 996.6,786.3 1000.3,789.6 1004.4,792.6 1007.7,796.5 1010.7,800.5 1012.7,804.4 1014.5,808.3 1015.1,812.1 1016.0,815.9 1012.1,812.2 1009.7,809.3 1006.7,807.2 1001.6,803.2 997.5,801.9 994.0,799.2 991.0,796.9 987.8,794.9 981.1,796.6 974.7,799.4 971.5,801.3 968.2,803.1M968.2,803.0 970.9,805.4 973.2,808.4 977.2,810.1 981.2,811.9 984.9,814.0 987.7,817.1 990.5,819.7 994.1,821.1 998.0,821.2 1001.9,822.1 1005.6,821.1 1009.5,820.7 1013.4,819.8 1017.4,818.8M815.5,812.1 820.6,808.1 823.6,810.4 825.9,813.3 824.0,817.0 822.9,821.0 819.6,818.2 818.1,814.9 815.5,812.1M816.8,830.2 823.2,827.5 824.8,834.0 818.2,835.7 816.7,830.2M868.6,834.0 873.7,830.2 879.1,832.5 877.8,839.3 871.2,840.7 868.7,834.0M854.3,803.0 858.5,805.1 862.0,808.3 865.6,810.8 869.6,812.5 873.7,812.5 877.6,812.2 880.8,810.0 883.9,807.9 886.8,810.6 889.4,813.2 888.6,817.2 887.8,821.1 882.9,818.3 877.7,822.5 872.4,826.2M864.7,792.7 860.9,797.9 856.8,796.8 851.7,795.5 849.3,799.2 842.8,802.0 837.4,799.3"/>
<path fill="none" stroke="#fff" stroke-width="4.0" stroke-linejoin="round" stroke-linecap="round" d="M775.3,716.0 779.8,717.7 784.5,718.2 787.6,721.5 791.8,723.5M695.8,769.6 698.2,774.0 699.8,778.7 700.4,782.5 701.4,786.0M561.0,830.3 562.8,833.8 564.2,837.5 564.8,841.4 565.7,845.1 566.4,848.8 567.8,852.4 568.5,856.2 568.8,859.9 569.5,863.6 570.0,867.3 570.2,871.0 570.8,874.8 571.9,878.4 573.1,882.0 573.6,885.9M562.8,896.9 564.3,900.5 565.7,904.2 566.4,908.1 568.1,911.8 570.3,915.1 570.8,919.1 571.6,923.1 573.5,926.6 574.9,930.1 575.5,933.9 577.5,937.3 577.8,941.1M573.9,933.8 575.3,937.3 577.0,940.6 579.1,943.7 581.1,946.9 581.1,950.7 582.9,954.2 583.7,957.9 585.3,961.4M1223.3,456.7 1227.9,455.3 1232.5,455.6M1118.0,447.4 1123.5,448.6M1288.0,448.3 1292.0,447.5 1295.9,446.2 1300.0,446.2M1040.4,848.8 1044.4,850.1 1047.7,852.6 1049.8,856.1 1051.4,860.0 1045.8,861.3M1145.7,841.4 1151.3,837.7 1150.1,841.4 1149.1,845.0 1145.7,841.4M1151.3,823.0 1156.7,826.9 1157.2,830.5 1158.7,834.0 1162.3,828.4 1158.5,824.9 1154.7,821.4M1228.9,989.2 1231.6,993.0 1234.3,996.7 1237.0,1000.0 1238.2,1004.0M1217.8,1015.1 1220.7,1017.7 1223.2,1020.8 1226.5,1023.0 1228.7,1026.4M1199.3,1053.9 1202.2,1057.5 1204.7,1061.4M1524.5,453.9 1527.6,451.9 1530.8,449.9 1533.3,454.6 1534.8,459.3 1537.2,462.1 1538.5,465.5 1540.1,468.7 1541.6,472.1 1543.4,475.4 1545.6,478.4 1547.6,481.6 1549.6,485.2 1551.7,488.8 1548.7,492.0 1545.8,494.6 1541.8,495.9 1538.4,498.2M1524.5,453.9 1524.9,457.6 1525.3,461.3 1525.2,465.0 1527.6,467.8 1529.7,470.8 1531.1,474.1 1532.5,478.7 1533.2,483.4 1531.1,487.2 1529.5,491.0 1531.3,494.1 1531.3,498.0M1300.0,540.5 1305.5,544.3 1304.8,547.9 1303.6,551.5M1623.3,755.7 1626.8,758.8M1471.8,1098.0 1475.6,1101.6 1477.2,1096.1M881.5,658.1 884.7,662.0 888.0,665.8 885.5,671.1M959.1,712.4 963.3,714.5 967.0,717.4 969.9,723.9M947.5,770.7 951.5,771.6"/>
<path fill="none" stroke="#fff" stroke-width="6.0" stroke-linejoin="round" stroke-linecap="round" d="M730.9,952.3 732.6,957.0 734.4,961.6 733.2,955.8M1031.2,535.9 1035.5,536.3 1039.8,536.8 1044.1,537.3M1204.8,1308.6 1209.7,1310.0 1214.1,1312.2 1218.9,1311.6 1223.4,1309.9M1530.9,459.4 1532.3,462.7 1533.4,466.0 1533.9,469.6 1536.1,472.5 1537.7,476.1 1539.6,479.5 1540.1,483.5 1540.8,488.1 1541.9,492.7"/>
<path fill="none" stroke="#fff" stroke-width="2.0" stroke-linejoin="round" stroke-linecap="round" d="M603.5,1074.0 605.0,1077.6 606.6,1081.1 608.8,1084.2 610.9,1087.3 613.1,1090.5 615.7,1093.3 617.9,1096.4 619.7,1099.8 621.9,1102.9 624.4,1105.8 627.1,1108.6 629.0,1111.8 631.8,1114.6 633.0,1118.3 635.8,1121.8 638.1,1125.4 641.0,1128.8 642.3,1133.1"/>
<path fill="none" stroke="#fff" stroke-width="2.2" stroke-linejoin="round" stroke-linecap="round" d="M1080.7,222.9 1080.7,498.0"/>
<path fill="none" stroke="#fff" stroke-width="2.5" stroke-linejoin="round" stroke-linecap="round" d="M1046.0,440.9 1050.0,440.1 1053.8,439.0 1057.1,436.4 1061.1,436.4 1065.1,435.3 1069.2,434.6 1073.2,433.9 1077.3,434.2M1008.1,510.9 1013.6,509.2 1014.6,513.7 1009.1,515.0 1008.2,510.9M1072.7,603.3 1076.2,602.2 1079.8,601.5 1082.9,599.6 1081.7,605.1 1077.6,605.2 1073.6,606.8 1072.7,603.3M1403.5,455.7 1407.6,457.6 1411.1,460.3 1414.6,463.1 1418.7,464.9 1421.9,468.0 1425.6,470.5 1428.5,472.8 1431.5,474.7 1434.9,476.1M1558.7,498.0 1560.8,501.9 1564.2,505.0 1566.2,509.0 1567.8,512.4 1569.9,515.5 1572.6,518.2 1573.8,521.8 1575.6,525.1 1577.3,528.4 1579.9,531.2 1581.0,534.9 1582.5,538.7 1585.2,542.0 1586.7,545.9 1588.3,549.7 1589.9,553.5 1591.3,557.4 1593.6,560.9M1457.0,855.3 1457.5,859.5 1458.7,863.6 1458.2,867.5 1457.1,871.2 1455.2,874.7 1453.6,878.3 1453.5,882.3 1451.7,885.9 1453.8,889.2 1455.0,893.3 1460.8,891.5 1455.4,887.3M1462.6,1183.0 1465.7,1180.0 1468.4,1176.5 1471.6,1173.5 1473.3,1170.3 1475.3,1167.3 1477.7,1164.6 1480.6,1162.3 1482.7,1159.3 1485.5,1157.0 1487.6,1154.0 1490.4,1151.7 1493.3,1148.2 1495.3,1144.2 1497.8,1140.6 1500.3,1137.9 1501.5,1134.4 1503.1,1131.2 1507.8,1126.6 1506.2,1130.7 1504.7,1134.8 1502.0,1138.2 1499.7,1142.1 1497.7,1146.0 1495.2,1149.1 1492.8,1152.2 1490.2,1155.2"/>
<path fill="none" stroke="#fff" stroke-width="4.5" stroke-linejoin="round" stroke-linecap="round" d="M1375.8,676.3 1379.6,675.8 1383.4,675.4 1386.9,673.9 1390.4,675.1 1394.1,676.2 1397.8,677.6 1401.5,680.1 1405.3,682.8 1408.6,686.9 1412.6,690.3 1414.9,694.3 1418.0,697.7M959.1,750.0 965.5,751.5M904.8,796.5 911.2,793.7 917.7,796.5M910.0,806.9 916.4,808.2"/>
<g fill="#fff"><circle cx="773.4" cy="839.6" r="2.4"/><circle cx="821.5" cy="815.6" r="1.3"/><circle cx="602.5" cy="1042.8" r="1.5"/><circle cx="871.4" cy="1168.2" r="1.3"/><circle cx="888.9" cy="1182.1" r="1.5"/><circle cx="1051.5" cy="963.4" r="1.5"/><circle cx="1047.8" cy="1042.8" r="1.7"/><circle cx="1073.7" cy="1061.3" r="1.3"/><circle cx="937.0" cy="1256.0" r="2.0"/><circle cx="946.2" cy="1258.8" r="1.5"/><circle cx="961.0" cy="1259.7" r="2.2"/><circle cx="966.5" cy="1256.9" r="1.5"/><circle cx="1101.4" cy="1214.4" r="1.1"/><circle cx="1459.8" cy="469.6" r="1.7"/><circle cx="1474.6" cy="474.2" r="2.2"/><circle cx="981.1" cy="767.4" r="1.3"/></g>
</g>
<text id="title" x="1080.5" y="200" font-size="58.8" text-anchor="middle">Total Ozone (DU), 2025-11-19T00, Wed.</text>
<rect x="1692.5" y="488.5" width="26" height="586" fill="url(#cb)" stroke="#777" stroke-width="1"/>
<text class="cbl" x="1738.5" y="500.9" font-size="34.6">700.</text>
<path d="M1692 547.1h5M1719 547.1h-5" stroke="#222" stroke-width="1.2"/><text class="cbl" x="1738.5" y="559.5" font-size="34.6">630.</text>
<path d="M1692 605.7h5M1719 605.7h-5" stroke="#222" stroke-width="1.2"/><text class="cbl" x="1738.5" y="618.1" font-size="34.6">560.</text>
<path d="M1692 664.3h5M1719 664.3h-5" stroke="#222" stroke-width="1.2"/><text class="cbl" x="1738.5" y="676.7" font-size="34.6">490.</text>
<path d="M1692 722.9h5M1719 722.9h-5" stroke="#222" stroke-width="1.2"/><text class="cbl" x="1738.5" y="735.3" font-size="34.6">420.</text>
<path d="M1692 781.5h5M1719 781.5h-5" stroke="#222" stroke-width="1.2"/><text class="cbl" x="1738.5" y="793.9" font-size="34.6">350.</text>
<path d="M1692 840.1h5M1719 840.1h-5" stroke="#222" stroke-width="1.2"/><text class="cbl" x="1738.5" y="852.5" font-size="34.6">280.</text>
<path d="M1692 898.7h5M1719 898.7h-5" stroke="#222" stroke-width="1.2"/><text class="cbl" x="1738.5" y="911.1" font-size="34.6">210.</text>
<path d="M1692 957.3h5M1719 957.3h-5" stroke="#222" stroke-width="1.2"/><text class="cbl" x="1738.5" y="969.7" font-size="34.6">140.</text>
<path d="M1692 1015.9h5M1719 1015.9h-5" stroke="#222" stroke-width="1.2"/><text class="cbl" x="1738.5" y="1028.3" font-size="34.6">70.</text>
<text class="cbl" x="1738.5" y="1086.9" font-size="34.6">0.0</text>
<text id="ana" x="1687.5" y="1399" font-size="47.3">Analysis</text>
<text id="date" x="129.5" y="1483" font-size="23.4">Fri Nov 21 01:43:10 2025</text>
<text id="cred" x="1514" y="1483" font-size="23.4">Paul A. Newman &amp; Leslie R. Lait (NASA/GSFC)</text>
</svg>
</body></html>
